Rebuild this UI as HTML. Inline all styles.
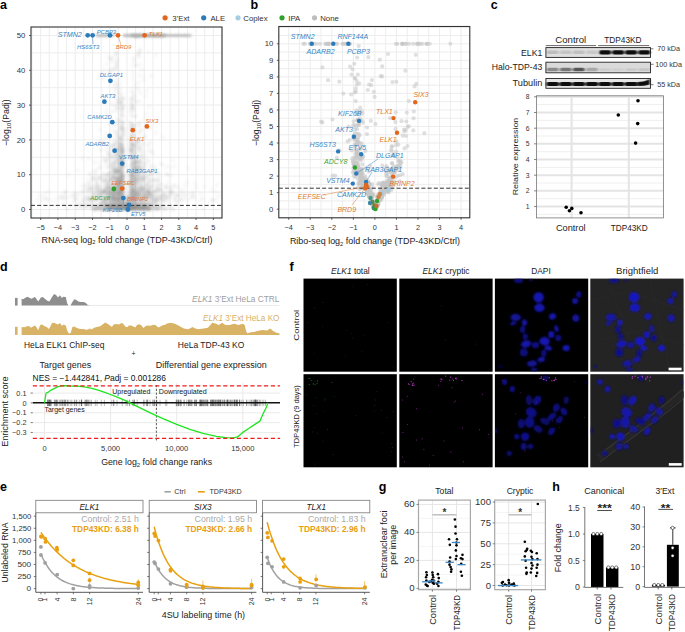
<!DOCTYPE html>
<html><head><meta charset="utf-8"><title>Figure</title>
<style>html,body{margin:0;padding:0;background:#fff;width:685px;height:632px;overflow:hidden}svg{display:block}text{font-family:"Liberation Sans",sans-serif}</style>
</head><body>
<svg width="685" height="632" viewBox="0 0 685 632" font-family='"Liberation Sans", sans-serif' fill="#222"><text x="0.00" y="8.80" font-size="12.5" font-weight="bold" fill="#000">a</text>
<text x="250.60" y="9.00" font-size="12.5" font-weight="bold" fill="#000">b</text>
<text x="490.80" y="9.20" font-size="12.5" font-weight="bold" fill="#000">c</text>
<text x="0.00" y="270.80" font-size="12.5" font-weight="bold" fill="#000">d</text>
<text x="289.60" y="271.00" font-size="12.5" font-weight="bold" fill="#000">f</text>
<text x="0.00" y="491.20" font-size="12.5" font-weight="bold" fill="#000">e</text>
<text x="378.80" y="490.80" font-size="12.5" font-weight="bold" fill="#000">g</text>
<text x="552.20" y="491.20" font-size="12.5" font-weight="bold" fill="#000">h</text>
<circle cx="165.10" cy="17.80" r="2.6" fill="#e2661b"/>
<text x="172.20" y="20.60" font-size="7.8" fill="#333">3’Ext</text>
<circle cx="203.70" cy="17.80" r="2.6" fill="#2b7bba"/>
<text x="210.40" y="20.60" font-size="7.8" fill="#333">ALE</text>
<circle cx="238.00" cy="17.80" r="2.6" fill="#a6cde3"/>
<text x="243.30" y="20.60" font-size="7.8" fill="#333">Coplex</text>
<circle cx="282.00" cy="17.80" r="2.6" fill="#2fa12a"/>
<text x="288.30" y="20.60" font-size="7.8" fill="#333">IPA</text>
<circle cx="314.50" cy="17.80" r="2.6" fill="#bdbdbd"/>
<text x="320.20" y="20.60" font-size="7.8" fill="#333">None</text>
<rect x="31.00" y="27.00" width="191.00" height="191.00" fill="#fff"/>
<line x1="32.02" y1="27.00" x2="32.02" y2="218.00" stroke="#ebebeb" stroke-width="0.9"/>
<line x1="40.65" y1="27.00" x2="40.65" y2="218.00" stroke="#ebebeb" stroke-width="0.9"/>
<line x1="49.28" y1="27.00" x2="49.28" y2="218.00" stroke="#ebebeb" stroke-width="0.9"/>
<line x1="57.92" y1="27.00" x2="57.92" y2="218.00" stroke="#ebebeb" stroke-width="0.9"/>
<line x1="66.56" y1="27.00" x2="66.56" y2="218.00" stroke="#ebebeb" stroke-width="0.9"/>
<line x1="75.19" y1="27.00" x2="75.19" y2="218.00" stroke="#ebebeb" stroke-width="0.9"/>
<line x1="83.83" y1="27.00" x2="83.83" y2="218.00" stroke="#ebebeb" stroke-width="0.9"/>
<line x1="92.46" y1="27.00" x2="92.46" y2="218.00" stroke="#ebebeb" stroke-width="0.9"/>
<line x1="101.09" y1="27.00" x2="101.09" y2="218.00" stroke="#ebebeb" stroke-width="0.9"/>
<line x1="109.73" y1="27.00" x2="109.73" y2="218.00" stroke="#ebebeb" stroke-width="0.9"/>
<line x1="118.36" y1="27.00" x2="118.36" y2="218.00" stroke="#ebebeb" stroke-width="0.9"/>
<line x1="127.00" y1="27.00" x2="127.00" y2="218.00" stroke="#ebebeb" stroke-width="0.9"/>
<line x1="135.63" y1="27.00" x2="135.63" y2="218.00" stroke="#ebebeb" stroke-width="0.9"/>
<line x1="144.27" y1="27.00" x2="144.27" y2="218.00" stroke="#ebebeb" stroke-width="0.9"/>
<line x1="152.91" y1="27.00" x2="152.91" y2="218.00" stroke="#ebebeb" stroke-width="0.9"/>
<line x1="161.54" y1="27.00" x2="161.54" y2="218.00" stroke="#ebebeb" stroke-width="0.9"/>
<line x1="170.18" y1="27.00" x2="170.18" y2="218.00" stroke="#ebebeb" stroke-width="0.9"/>
<line x1="178.81" y1="27.00" x2="178.81" y2="218.00" stroke="#ebebeb" stroke-width="0.9"/>
<line x1="187.44" y1="27.00" x2="187.44" y2="218.00" stroke="#ebebeb" stroke-width="0.9"/>
<line x1="196.08" y1="27.00" x2="196.08" y2="218.00" stroke="#ebebeb" stroke-width="0.9"/>
<line x1="204.72" y1="27.00" x2="204.72" y2="218.00" stroke="#ebebeb" stroke-width="0.9"/>
<line x1="213.35" y1="27.00" x2="213.35" y2="218.00" stroke="#ebebeb" stroke-width="0.9"/>
<line x1="221.99" y1="27.00" x2="221.99" y2="218.00" stroke="#ebebeb" stroke-width="0.9"/>
<line x1="31.00" y1="209.50" x2="222.00" y2="209.50" stroke="#ebebeb" stroke-width="0.9"/>
<line x1="31.00" y1="192.10" x2="222.00" y2="192.10" stroke="#ebebeb" stroke-width="0.9"/>
<line x1="31.00" y1="174.70" x2="222.00" y2="174.70" stroke="#ebebeb" stroke-width="0.9"/>
<line x1="31.00" y1="157.30" x2="222.00" y2="157.30" stroke="#ebebeb" stroke-width="0.9"/>
<line x1="31.00" y1="139.90" x2="222.00" y2="139.90" stroke="#ebebeb" stroke-width="0.9"/>
<line x1="31.00" y1="122.50" x2="222.00" y2="122.50" stroke="#ebebeb" stroke-width="0.9"/>
<line x1="31.00" y1="105.10" x2="222.00" y2="105.10" stroke="#ebebeb" stroke-width="0.9"/>
<line x1="31.00" y1="87.70" x2="222.00" y2="87.70" stroke="#ebebeb" stroke-width="0.9"/>
<line x1="31.00" y1="70.30" x2="222.00" y2="70.30" stroke="#ebebeb" stroke-width="0.9"/>
<line x1="31.00" y1="52.90" x2="222.00" y2="52.90" stroke="#ebebeb" stroke-width="0.9"/>
<line x1="31.00" y1="35.50" x2="222.00" y2="35.50" stroke="#ebebeb" stroke-width="0.9"/>
<defs><filter id="blc" x="0" y="0" width="100%" height="100%" filterUnits="userSpaceOnUse"><feGaussianBlur stdDeviation="0.9"/></filter></defs>
<g fill="#8a8a8a" fill-opacity="0.065" filter="url(#blc)"><circle cx="155.9" cy="205.4" r="2"/><circle cx="114.7" cy="198.8" r="2"/><circle cx="119.2" cy="203.3" r="2"/><circle cx="122.1" cy="206.9" r="2"/><circle cx="124.7" cy="209.1" r="2"/><circle cx="137.8" cy="199.1" r="2"/><circle cx="117.4" cy="202.8" r="2"/><circle cx="124.2" cy="194.5" r="2"/><circle cx="113.6" cy="208.5" r="2"/><circle cx="89.3" cy="206.3" r="2"/><circle cx="112.2" cy="195.1" r="2"/><circle cx="115.5" cy="207.6" r="2"/><circle cx="128.0" cy="208.2" r="2"/><circle cx="127.6" cy="204.8" r="2"/><circle cx="134.5" cy="207.7" r="2"/><circle cx="110.3" cy="204.4" r="2"/><circle cx="160.6" cy="197.8" r="2"/><circle cx="123.5" cy="207.6" r="2"/><circle cx="126.3" cy="204.4" r="2"/><circle cx="163.3" cy="206.9" r="2"/><circle cx="127.2" cy="208.3" r="2"/><circle cx="95.7" cy="201.3" r="2"/><circle cx="98.4" cy="193.5" r="2"/><circle cx="103.4" cy="207.8" r="2"/><circle cx="103.7" cy="207.9" r="2"/><circle cx="142.6" cy="208.0" r="2"/><circle cx="127.7" cy="209.3" r="2"/><circle cx="139.4" cy="208.3" r="2"/><circle cx="119.8" cy="193.4" r="2"/><circle cx="115.6" cy="192.9" r="2"/><circle cx="123.3" cy="203.0" r="2"/><circle cx="122.6" cy="207.2" r="2"/><circle cx="133.6" cy="201.5" r="2"/><circle cx="139.7" cy="208.2" r="2"/><circle cx="138.7" cy="208.8" r="2"/><circle cx="128.7" cy="197.9" r="2"/><circle cx="130.4" cy="206.7" r="2"/><circle cx="108.6" cy="205.8" r="2"/><circle cx="132.0" cy="207.6" r="2"/><circle cx="176.4" cy="204.2" r="2"/><circle cx="124.6" cy="205.9" r="2"/><circle cx="143.7" cy="208.2" r="2"/><circle cx="142.3" cy="205.1" r="2"/><circle cx="152.6" cy="202.1" r="2"/><circle cx="150.6" cy="208.7" r="2"/><circle cx="122.0" cy="206.4" r="2"/><circle cx="146.2" cy="207.6" r="2"/><circle cx="137.5" cy="207.2" r="2"/><circle cx="137.6" cy="206.1" r="2"/><circle cx="125.4" cy="207.1" r="2"/><circle cx="113.5" cy="204.7" r="2"/><circle cx="125.7" cy="200.2" r="2"/><circle cx="112.1" cy="208.7" r="2"/><circle cx="118.1" cy="205.0" r="2"/><circle cx="135.2" cy="208.4" r="2"/><circle cx="118.0" cy="207.3" r="2"/><circle cx="122.1" cy="206.2" r="2"/><circle cx="143.0" cy="206.5" r="2"/><circle cx="144.9" cy="202.4" r="2"/><circle cx="117.8" cy="206.9" r="2"/><circle cx="110.8" cy="206.0" r="2"/><circle cx="117.0" cy="200.1" r="2"/><circle cx="111.8" cy="207.9" r="2"/><circle cx="110.7" cy="207.2" r="2"/><circle cx="132.6" cy="206.8" r="2"/><circle cx="134.6" cy="205.7" r="2"/><circle cx="143.3" cy="207.3" r="2"/><circle cx="95.3" cy="208.9" r="2"/><circle cx="134.5" cy="205.4" r="2"/><circle cx="129.2" cy="207.4" r="2"/><circle cx="127.4" cy="208.2" r="2"/><circle cx="138.6" cy="208.8" r="2"/><circle cx="149.3" cy="205.6" r="2"/><circle cx="95.0" cy="200.1" r="2"/><circle cx="127.5" cy="208.0" r="2"/><circle cx="123.8" cy="207.7" r="2"/><circle cx="148.3" cy="208.3" r="2"/><circle cx="144.8" cy="208.6" r="2"/><circle cx="138.9" cy="207.2" r="2"/><circle cx="106.2" cy="204.7" r="2"/><circle cx="98.6" cy="206.9" r="2"/><circle cx="127.7" cy="205.9" r="2"/><circle cx="164.0" cy="208.9" r="2"/><circle cx="156.6" cy="206.3" r="2"/><circle cx="126.1" cy="202.5" r="2"/><circle cx="120.0" cy="209.2" r="2"/><circle cx="124.8" cy="207.2" r="2"/><circle cx="121.2" cy="201.8" r="2"/><circle cx="115.9" cy="202.2" r="2"/><circle cx="117.5" cy="199.1" r="2"/><circle cx="122.8" cy="208.6" r="2"/><circle cx="107.0" cy="205.0" r="2"/><circle cx="119.1" cy="206.0" r="2"/><circle cx="133.7" cy="207.1" r="2"/><circle cx="131.8" cy="206.7" r="2"/><circle cx="122.5" cy="204.5" r="2"/><circle cx="152.9" cy="204.8" r="2"/><circle cx="119.5" cy="208.2" r="2"/><circle cx="112.0" cy="203.7" r="2"/><circle cx="110.3" cy="207.4" r="2"/><circle cx="90.4" cy="205.1" r="2"/><circle cx="133.4" cy="206.6" r="2"/><circle cx="146.4" cy="200.8" r="2"/><circle cx="136.8" cy="206.2" r="2"/><circle cx="128.5" cy="208.8" r="2"/><circle cx="136.3" cy="194.5" r="2"/><circle cx="128.3" cy="208.9" r="2"/><circle cx="143.9" cy="205.5" r="2"/><circle cx="133.3" cy="207.5" r="2"/><circle cx="108.0" cy="201.5" r="2"/><circle cx="123.3" cy="205.9" r="2"/><circle cx="124.3" cy="208.6" r="2"/><circle cx="152.4" cy="197.9" r="2"/><circle cx="132.8" cy="205.5" r="2"/><circle cx="119.1" cy="206.9" r="2"/><circle cx="138.0" cy="207.5" r="2"/><circle cx="127.1" cy="208.3" r="2"/><circle cx="102.0" cy="209.4" r="2"/><circle cx="138.4" cy="203.7" r="2"/><circle cx="106.7" cy="206.8" r="2"/><circle cx="130.2" cy="204.9" r="2"/><circle cx="67.3" cy="209.4" r="2"/><circle cx="135.0" cy="205.0" r="2"/><circle cx="148.3" cy="208.6" r="2"/><circle cx="128.2" cy="204.0" r="2"/><circle cx="154.2" cy="197.7" r="2"/><circle cx="129.4" cy="208.2" r="2"/><circle cx="147.2" cy="209.3" r="2"/><circle cx="76.1" cy="204.2" r="2"/><circle cx="124.5" cy="209.3" r="2"/><circle cx="119.4" cy="206.6" r="2"/><circle cx="106.1" cy="205.2" r="2"/><circle cx="130.2" cy="208.6" r="2"/><circle cx="84.9" cy="203.0" r="2"/><circle cx="126.1" cy="198.9" r="2"/><circle cx="129.9" cy="206.3" r="2"/><circle cx="112.2" cy="203.4" r="2"/><circle cx="118.7" cy="207.0" r="2"/><circle cx="130.4" cy="208.9" r="2"/><circle cx="93.2" cy="207.9" r="2"/><circle cx="96.8" cy="206.8" r="2"/><circle cx="132.4" cy="208.2" r="2"/><circle cx="94.9" cy="209.3" r="2"/><circle cx="148.6" cy="209.2" r="2"/><circle cx="106.2" cy="203.4" r="2"/><circle cx="145.8" cy="205.9" r="2"/><circle cx="122.2" cy="204.6" r="2"/><circle cx="139.7" cy="202.5" r="2"/><circle cx="128.6" cy="207.9" r="2"/><circle cx="99.3" cy="208.1" r="2"/><circle cx="120.1" cy="203.9" r="2"/><circle cx="130.3" cy="207.7" r="2"/><circle cx="118.3" cy="205.5" r="2"/><circle cx="118.0" cy="207.6" r="2"/><circle cx="109.2" cy="202.2" r="2"/><circle cx="143.4" cy="208.9" r="2"/><circle cx="129.9" cy="209.0" r="2"/><circle cx="99.6" cy="208.7" r="2"/><circle cx="134.8" cy="198.0" r="2"/><circle cx="131.8" cy="202.5" r="2"/><circle cx="112.9" cy="208.5" r="2"/><circle cx="135.6" cy="200.6" r="2"/><circle cx="99.3" cy="208.6" r="2"/><circle cx="129.6" cy="203.1" r="2"/><circle cx="118.3" cy="208.3" r="2"/><circle cx="132.0" cy="202.1" r="2"/><circle cx="132.7" cy="209.1" r="2"/><circle cx="161.1" cy="208.6" r="2"/><circle cx="124.9" cy="206.8" r="2"/><circle cx="124.9" cy="206.5" r="2"/><circle cx="104.5" cy="209.4" r="2"/><circle cx="128.6" cy="206.2" r="2"/><circle cx="121.7" cy="203.0" r="2"/><circle cx="112.4" cy="205.7" r="2"/><circle cx="95.4" cy="209.2" r="2"/><circle cx="145.9" cy="197.7" r="2"/><circle cx="127.5" cy="198.4" r="2"/><circle cx="132.4" cy="209.1" r="2"/><circle cx="119.3" cy="204.6" r="2"/><circle cx="131.3" cy="207.8" r="2"/><circle cx="127.1" cy="209.5" r="2"/><circle cx="146.0" cy="208.5" r="2"/><circle cx="136.7" cy="209.0" r="2"/><circle cx="116.3" cy="202.8" r="2"/><circle cx="128.1" cy="208.7" r="2"/><circle cx="132.6" cy="206.0" r="2"/><circle cx="122.7" cy="207.2" r="2"/><circle cx="103.7" cy="195.3" r="2"/><circle cx="135.6" cy="208.8" r="2"/><circle cx="119.5" cy="208.6" r="2"/><circle cx="100.3" cy="204.6" r="2"/><circle cx="129.5" cy="196.3" r="2"/><circle cx="131.0" cy="206.9" r="2"/><circle cx="156.4" cy="201.8" r="2"/><circle cx="119.8" cy="209.5" r="2"/><circle cx="142.1" cy="203.5" r="2"/><circle cx="82.3" cy="202.4" r="2"/><circle cx="107.5" cy="205.4" r="2"/><circle cx="114.9" cy="202.5" r="2"/><circle cx="114.6" cy="204.7" r="2"/><circle cx="142.3" cy="197.7" r="2"/><circle cx="110.6" cy="207.5" r="2"/><circle cx="100.7" cy="195.8" r="2"/><circle cx="139.4" cy="209.4" r="2"/><circle cx="113.6" cy="203.7" r="2"/><circle cx="116.5" cy="206.6" r="2"/><circle cx="146.7" cy="208.0" r="2"/><circle cx="120.4" cy="208.5" r="2"/><circle cx="111.9" cy="204.2" r="2"/><circle cx="139.5" cy="206.2" r="2"/><circle cx="127.6" cy="208.3" r="2"/><circle cx="128.8" cy="203.4" r="2"/><circle cx="132.5" cy="209.4" r="2"/><circle cx="120.3" cy="194.6" r="2"/><circle cx="148.5" cy="207.1" r="2"/><circle cx="133.1" cy="201.9" r="2"/><circle cx="164.0" cy="209.3" r="2"/><circle cx="127.0" cy="197.8" r="2"/><circle cx="136.0" cy="207.2" r="2"/><circle cx="105.4" cy="200.0" r="2"/><circle cx="129.7" cy="203.6" r="2"/><circle cx="141.5" cy="194.6" r="2"/><circle cx="127.6" cy="207.2" r="2"/><circle cx="125.9" cy="205.3" r="2"/><circle cx="133.0" cy="209.2" r="2"/><circle cx="133.2" cy="205.1" r="2"/><circle cx="112.0" cy="205.7" r="2"/><circle cx="120.2" cy="205.5" r="2"/><circle cx="133.9" cy="207.2" r="2"/><circle cx="139.3" cy="208.5" r="2"/><circle cx="114.1" cy="194.1" r="2"/><circle cx="137.5" cy="208.0" r="2"/><circle cx="124.3" cy="207.1" r="2"/><circle cx="128.9" cy="209.4" r="2"/><circle cx="125.1" cy="206.8" r="2"/><circle cx="105.5" cy="206.6" r="2"/><circle cx="117.3" cy="209.3" r="2"/><circle cx="136.7" cy="209.4" r="2"/><circle cx="108.4" cy="209.0" r="2"/><circle cx="145.2" cy="204.3" r="2"/><circle cx="115.8" cy="208.0" r="2"/><circle cx="102.9" cy="209.3" r="2"/><circle cx="140.6" cy="207.4" r="2"/><circle cx="113.7" cy="207.0" r="2"/><circle cx="97.2" cy="206.0" r="2"/><circle cx="119.7" cy="209.0" r="2"/><circle cx="132.2" cy="207.8" r="2"/><circle cx="119.2" cy="208.3" r="2"/><circle cx="92.9" cy="207.4" r="2"/><circle cx="105.8" cy="199.2" r="2"/><circle cx="132.0" cy="206.0" r="2"/><circle cx="127.3" cy="202.2" r="2"/><circle cx="104.6" cy="205.1" r="2"/><circle cx="107.1" cy="205.6" r="2"/><circle cx="122.0" cy="204.5" r="2"/><circle cx="129.8" cy="204.2" r="2"/><circle cx="119.4" cy="200.2" r="2"/><circle cx="137.4" cy="207.3" r="2"/><circle cx="113.1" cy="208.0" r="2"/><circle cx="144.8" cy="206.6" r="2"/><circle cx="139.6" cy="208.5" r="2"/><circle cx="113.1" cy="208.8" r="2"/><circle cx="137.3" cy="207.1" r="2"/><circle cx="144.8" cy="204.6" r="2"/><circle cx="125.1" cy="207.7" r="2"/><circle cx="105.4" cy="206.3" r="2"/><circle cx="127.1" cy="205.0" r="2"/><circle cx="113.2" cy="205.5" r="2"/><circle cx="128.8" cy="207.7" r="2"/><circle cx="120.2" cy="202.5" r="2"/><circle cx="132.3" cy="209.0" r="2"/><circle cx="129.2" cy="194.6" r="2"/><circle cx="144.0" cy="207.8" r="2"/><circle cx="156.3" cy="207.9" r="2"/><circle cx="129.6" cy="207.3" r="2"/><circle cx="134.9" cy="197.5" r="2"/><circle cx="106.8" cy="207.3" r="2"/><circle cx="136.3" cy="205.1" r="2"/><circle cx="132.6" cy="197.3" r="2"/><circle cx="117.5" cy="205.5" r="2"/><circle cx="132.1" cy="206.2" r="2"/><circle cx="111.0" cy="202.3" r="2"/><circle cx="101.5" cy="206.5" r="2"/><circle cx="102.2" cy="207.9" r="2"/><circle cx="152.0" cy="209.3" r="2"/><circle cx="135.5" cy="205.3" r="2"/><circle cx="147.8" cy="203.8" r="2"/><circle cx="111.2" cy="209.1" r="2"/><circle cx="125.7" cy="197.0" r="2"/><circle cx="137.9" cy="205.2" r="2"/><circle cx="109.6" cy="206.9" r="2"/><circle cx="128.7" cy="200.5" r="2"/><circle cx="106.9" cy="206.2" r="2"/><circle cx="130.8" cy="206.8" r="2"/><circle cx="140.3" cy="206.4" r="2"/><circle cx="131.6" cy="206.4" r="2"/><circle cx="113.4" cy="193.9" r="2"/><circle cx="173.4" cy="209.4" r="2"/><circle cx="156.7" cy="207.9" r="2"/><circle cx="145.0" cy="204.8" r="2"/><circle cx="151.3" cy="206.4" r="2"/><circle cx="147.7" cy="208.8" r="2"/><circle cx="129.9" cy="206.3" r="2"/><circle cx="132.1" cy="206.3" r="2"/><circle cx="117.1" cy="203.9" r="2"/><circle cx="116.9" cy="202.1" r="2"/><circle cx="115.4" cy="205.2" r="2"/><circle cx="120.4" cy="208.4" r="2"/><circle cx="128.3" cy="206.6" r="2"/><circle cx="135.2" cy="206.1" r="2"/><circle cx="144.5" cy="204.1" r="2"/><circle cx="126.6" cy="206.9" r="2"/><circle cx="144.8" cy="209.0" r="2"/><circle cx="117.8" cy="208.1" r="2"/><circle cx="149.9" cy="202.9" r="2"/><circle cx="112.6" cy="201.6" r="2"/><circle cx="122.0" cy="200.5" r="2"/><circle cx="117.4" cy="206.3" r="2"/><circle cx="118.3" cy="207.4" r="2"/><circle cx="95.4" cy="207.4" r="2"/><circle cx="130.7" cy="209.0" r="2"/><circle cx="147.1" cy="207.0" r="2"/><circle cx="107.7" cy="208.2" r="2"/><circle cx="101.4" cy="203.5" r="2"/><circle cx="146.8" cy="202.9" r="2"/><circle cx="140.8" cy="202.2" r="2"/><circle cx="130.7" cy="208.6" r="2"/><circle cx="123.1" cy="202.3" r="2"/><circle cx="134.8" cy="209.1" r="2"/><circle cx="114.0" cy="209.5" r="2"/><circle cx="90.3" cy="197.1" r="2"/><circle cx="119.9" cy="200.0" r="2"/><circle cx="98.3" cy="207.6" r="2"/><circle cx="156.8" cy="208.2" r="2"/><circle cx="140.2" cy="207.8" r="2"/><circle cx="118.4" cy="202.3" r="2"/><circle cx="118.4" cy="209.0" r="2"/><circle cx="127.5" cy="205.1" r="2"/><circle cx="140.9" cy="204.0" r="2"/><circle cx="96.6" cy="209.3" r="2"/><circle cx="111.3" cy="200.3" r="2"/><circle cx="125.4" cy="207.1" r="2"/><circle cx="81.0" cy="205.5" r="2"/><circle cx="129.8" cy="202.1" r="2"/><circle cx="144.9" cy="207.5" r="2"/><circle cx="165.6" cy="209.1" r="2"/><circle cx="98.1" cy="207.7" r="2"/><circle cx="147.8" cy="207.8" r="2"/><circle cx="118.2" cy="198.4" r="2"/><circle cx="144.1" cy="200.3" r="2"/><circle cx="135.4" cy="209.1" r="2"/><circle cx="104.5" cy="198.1" r="2"/><circle cx="112.3" cy="207.1" r="2"/><circle cx="113.1" cy="205.8" r="2"/><circle cx="143.5" cy="208.9" r="2"/><circle cx="103.7" cy="199.7" r="2"/><circle cx="129.1" cy="208.0" r="2"/><circle cx="122.6" cy="207.0" r="2"/><circle cx="154.3" cy="206.4" r="2"/><circle cx="154.1" cy="208.7" r="2"/><circle cx="116.4" cy="201.6" r="2"/><circle cx="116.1" cy="203.1" r="2"/><circle cx="127.3" cy="201.4" r="2"/><circle cx="149.2" cy="206.9" r="2"/><circle cx="113.2" cy="192.3" r="2"/><circle cx="135.8" cy="205.5" r="2"/><circle cx="97.8" cy="206.5" r="2"/><circle cx="118.9" cy="205.0" r="2"/><circle cx="123.7" cy="200.8" r="2"/><circle cx="138.5" cy="207.8" r="2"/><circle cx="109.9" cy="198.1" r="2"/><circle cx="121.7" cy="208.5" r="2"/><circle cx="130.5" cy="207.8" r="2"/><circle cx="126.0" cy="209.0" r="2"/><circle cx="120.0" cy="204.6" r="2"/><circle cx="130.6" cy="203.9" r="2"/><circle cx="119.9" cy="208.3" r="2"/><circle cx="144.9" cy="208.3" r="2"/><circle cx="145.5" cy="203.4" r="2"/><circle cx="104.8" cy="204.0" r="2"/><circle cx="127.5" cy="205.9" r="2"/><circle cx="125.3" cy="208.8" r="2"/><circle cx="84.7" cy="207.9" r="2"/><circle cx="129.6" cy="203.8" r="2"/><circle cx="146.0" cy="207.7" r="2"/><circle cx="99.3" cy="208.0" r="2"/><circle cx="113.7" cy="205.8" r="2"/><circle cx="126.5" cy="208.4" r="2"/><circle cx="125.7" cy="205.2" r="2"/><circle cx="114.1" cy="198.9" r="2"/><circle cx="138.2" cy="205.5" r="2"/><circle cx="121.0" cy="208.3" r="2"/><circle cx="110.7" cy="202.8" r="2"/><circle cx="110.7" cy="197.4" r="2"/><circle cx="121.0" cy="206.1" r="2"/><circle cx="137.0" cy="206.8" r="2"/><circle cx="97.0" cy="207.0" r="2"/><circle cx="107.0" cy="199.3" r="2"/><circle cx="132.8" cy="209.4" r="2"/><circle cx="154.4" cy="208.2" r="2"/><circle cx="125.5" cy="209.0" r="2"/><circle cx="142.2" cy="200.1" r="2"/><circle cx="141.3" cy="209.2" r="2"/><circle cx="150.9" cy="204.2" r="2"/><circle cx="146.8" cy="209.2" r="2"/><circle cx="132.4" cy="205.0" r="2"/><circle cx="146.5" cy="208.7" r="2"/><circle cx="108.7" cy="198.7" r="2"/><circle cx="110.3" cy="203.1" r="2"/><circle cx="124.4" cy="206.8" r="2"/><circle cx="172.0" cy="206.9" r="2"/><circle cx="99.1" cy="207.9" r="2"/><circle cx="157.2" cy="209.1" r="2"/><circle cx="121.0" cy="201.3" r="2"/><circle cx="113.3" cy="204.5" r="2"/><circle cx="155.3" cy="209.2" r="2"/><circle cx="109.4" cy="208.7" r="2"/><circle cx="153.9" cy="206.3" r="2"/><circle cx="147.1" cy="194.8" r="2"/><circle cx="148.4" cy="207.9" r="2"/><circle cx="135.0" cy="208.5" r="2"/><circle cx="94.3" cy="208.3" r="2"/><circle cx="135.5" cy="200.0" r="2"/><circle cx="131.8" cy="207.1" r="2"/><circle cx="130.1" cy="208.8" r="2"/><circle cx="156.0" cy="203.5" r="2"/><circle cx="137.4" cy="206.1" r="2"/><circle cx="125.3" cy="208.9" r="2"/><circle cx="115.7" cy="208.0" r="2"/><circle cx="116.1" cy="197.3" r="2"/><circle cx="129.2" cy="205.1" r="2"/><circle cx="64.3" cy="204.2" r="2"/><circle cx="144.4" cy="209.5" r="2"/><circle cx="151.9" cy="205.4" r="2"/><circle cx="161.6" cy="206.1" r="2"/><circle cx="141.7" cy="209.5" r="2"/><circle cx="132.1" cy="197.2" r="2"/><circle cx="126.0" cy="209.0" r="2"/><circle cx="138.5" cy="206.5" r="2"/><circle cx="145.5" cy="206.4" r="2"/><circle cx="125.3" cy="204.3" r="2"/><circle cx="128.4" cy="204.8" r="2"/><circle cx="129.4" cy="200.0" r="2"/><circle cx="141.9" cy="208.3" r="2"/><circle cx="154.8" cy="200.3" r="2"/><circle cx="114.9" cy="206.9" r="2"/><circle cx="133.5" cy="209.3" r="2"/><circle cx="118.5" cy="207.7" r="2"/><circle cx="96.9" cy="207.2" r="2"/><circle cx="103.9" cy="206.7" r="2"/><circle cx="137.3" cy="208.8" r="2"/><circle cx="136.8" cy="193.1" r="2"/><circle cx="123.2" cy="207.6" r="2"/><circle cx="97.8" cy="199.5" r="2"/><circle cx="110.9" cy="207.6" r="2"/><circle cx="138.0" cy="205.6" r="2"/><circle cx="122.3" cy="197.2" r="2"/><circle cx="124.9" cy="200.6" r="2"/><circle cx="142.8" cy="199.5" r="2"/><circle cx="142.4" cy="204.2" r="2"/><circle cx="158.7" cy="207.6" r="2"/><circle cx="134.7" cy="197.0" r="2"/><circle cx="143.3" cy="207.8" r="2"/><circle cx="89.7" cy="198.5" r="2"/><circle cx="116.7" cy="207.8" r="2"/><circle cx="137.7" cy="208.0" r="2"/><circle cx="108.8" cy="206.7" r="2"/><circle cx="119.7" cy="202.9" r="2"/><circle cx="126.4" cy="204.3" r="2"/><circle cx="148.7" cy="204.4" r="2"/><circle cx="79.3" cy="203.4" r="2"/><circle cx="109.6" cy="204.6" r="2"/><circle cx="109.7" cy="208.5" r="2"/><circle cx="125.2" cy="204.5" r="2"/><circle cx="63.5" cy="204.3" r="2"/><circle cx="132.1" cy="207.4" r="2"/><circle cx="129.7" cy="208.2" r="2"/><circle cx="111.3" cy="205.6" r="2"/><circle cx="115.3" cy="209.2" r="2"/><circle cx="113.7" cy="205.2" r="2"/><circle cx="135.9" cy="206.6" r="2"/><circle cx="134.0" cy="205.0" r="2"/><circle cx="118.7" cy="196.5" r="2"/><circle cx="123.2" cy="208.9" r="2"/><circle cx="118.7" cy="208.9" r="2"/><circle cx="119.4" cy="203.5" r="2"/><circle cx="105.5" cy="207.1" r="2"/><circle cx="126.7" cy="203.0" r="2"/><circle cx="129.3" cy="200.2" r="2"/><circle cx="142.6" cy="205.6" r="2"/><circle cx="130.0" cy="208.9" r="2"/><circle cx="129.7" cy="203.7" r="2"/><circle cx="159.5" cy="207.6" r="2"/><circle cx="128.8" cy="207.8" r="2"/><circle cx="132.5" cy="197.8" r="2"/><circle cx="90.8" cy="203.9" r="2"/><circle cx="140.9" cy="202.6" r="2"/><circle cx="105.3" cy="205.2" r="2"/><circle cx="107.8" cy="207.4" r="2"/><circle cx="117.0" cy="206.5" r="2"/><circle cx="135.0" cy="197.0" r="2"/><circle cx="108.0" cy="205.7" r="2"/><circle cx="130.8" cy="208.6" r="2"/><circle cx="80.6" cy="205.7" r="2"/><circle cx="119.5" cy="207.9" r="2"/><circle cx="115.5" cy="205.3" r="2"/><circle cx="144.9" cy="204.8" r="2"/><circle cx="127.7" cy="209.2" r="2"/><circle cx="100.7" cy="202.6" r="2"/><circle cx="113.2" cy="206.0" r="2"/><circle cx="125.3" cy="206.8" r="2"/><circle cx="108.1" cy="209.4" r="2"/><circle cx="111.4" cy="209.0" r="2"/><circle cx="129.5" cy="207.6" r="2"/><circle cx="120.4" cy="208.4" r="2"/><circle cx="137.3" cy="204.0" r="2"/><circle cx="130.4" cy="209.4" r="2"/><circle cx="127.4" cy="209.4" r="2"/><circle cx="128.4" cy="208.8" r="2"/><circle cx="140.2" cy="209.0" r="2"/><circle cx="134.6" cy="208.6" r="2"/><circle cx="130.2" cy="208.3" r="2"/><circle cx="144.0" cy="194.8" r="2"/><circle cx="89.4" cy="199.5" r="2"/><circle cx="148.6" cy="208.9" r="2"/><circle cx="89.9" cy="198.4" r="2"/><circle cx="113.7" cy="201.1" r="2"/><circle cx="130.5" cy="203.6" r="2"/><circle cx="144.6" cy="208.6" r="2"/><circle cx="122.2" cy="208.4" r="2"/><circle cx="141.3" cy="209.5" r="2"/><circle cx="117.7" cy="206.5" r="2"/><circle cx="150.7" cy="203.0" r="2"/><circle cx="148.1" cy="209.2" r="2"/><circle cx="71.4" cy="205.8" r="2"/><circle cx="126.0" cy="209.3" r="2"/><circle cx="127.3" cy="207.2" r="2"/><circle cx="119.7" cy="208.3" r="2"/><circle cx="116.4" cy="194.6" r="2"/><circle cx="149.0" cy="208.9" r="2"/><circle cx="137.6" cy="204.0" r="2"/><circle cx="115.5" cy="207.1" r="2"/><circle cx="113.0" cy="205.3" r="2"/><circle cx="124.4" cy="202.0" r="2"/><circle cx="146.2" cy="208.8" r="2"/><circle cx="135.1" cy="208.1" r="2"/><circle cx="137.3" cy="207.8" r="2"/><circle cx="144.3" cy="205.5" r="2"/><circle cx="142.6" cy="200.6" r="2"/><circle cx="131.8" cy="208.6" r="2"/><circle cx="128.5" cy="209.2" r="2"/><circle cx="146.1" cy="206.1" r="2"/><circle cx="143.9" cy="209.1" r="2"/><circle cx="139.7" cy="206.1" r="2"/><circle cx="117.9" cy="208.3" r="2"/><circle cx="105.8" cy="205.3" r="2"/><circle cx="109.6" cy="207.3" r="2"/><circle cx="94.7" cy="205.8" r="2"/><circle cx="97.9" cy="192.8" r="2"/><circle cx="122.7" cy="193.5" r="2"/><circle cx="122.1" cy="207.1" r="2"/><circle cx="111.7" cy="207.8" r="2"/><circle cx="122.2" cy="204.5" r="2"/><circle cx="144.2" cy="205.3" r="2"/><circle cx="125.8" cy="209.2" r="2"/><circle cx="121.8" cy="203.0" r="2"/><circle cx="133.9" cy="204.7" r="2"/><circle cx="163.3" cy="201.3" r="2"/><circle cx="132.1" cy="206.7" r="2"/><circle cx="117.3" cy="209.5" r="2"/><circle cx="154.5" cy="201.7" r="2"/><circle cx="148.6" cy="209.2" r="2"/><circle cx="131.2" cy="209.1" r="2"/><circle cx="143.3" cy="208.7" r="2"/><circle cx="102.9" cy="208.4" r="2"/><circle cx="170.3" cy="207.8" r="2"/><circle cx="132.2" cy="208.1" r="2"/><circle cx="137.3" cy="204.7" r="2"/><circle cx="97.6" cy="209.3" r="2"/><circle cx="110.4" cy="208.0" r="2"/><circle cx="104.7" cy="207.9" r="2"/><circle cx="127.5" cy="208.4" r="2"/><circle cx="151.5" cy="208.3" r="2"/><circle cx="125.1" cy="205.0" r="2"/><circle cx="129.3" cy="204.3" r="2"/><circle cx="130.3" cy="209.1" r="2"/><circle cx="126.8" cy="202.9" r="2"/><circle cx="156.9" cy="203.7" r="2"/><circle cx="143.0" cy="206.5" r="2"/><circle cx="129.4" cy="208.0" r="2"/><circle cx="108.3" cy="209.4" r="2"/><circle cx="132.8" cy="207.1" r="2"/><circle cx="132.9" cy="207.6" r="2"/><circle cx="115.4" cy="200.7" r="2"/><circle cx="127.1" cy="203.1" r="2"/><circle cx="118.1" cy="202.3" r="2"/><circle cx="169.2" cy="203.3" r="2"/><circle cx="113.7" cy="209.2" r="2"/><circle cx="131.9" cy="197.5" r="2"/><circle cx="146.1" cy="208.7" r="2"/><circle cx="92.3" cy="206.6" r="2"/><circle cx="101.8" cy="202.5" r="2"/><circle cx="129.9" cy="203.3" r="2"/><circle cx="114.9" cy="198.7" r="2"/><circle cx="149.2" cy="205.2" r="2"/><circle cx="132.7" cy="205.5" r="2"/><circle cx="121.9" cy="205.2" r="2"/><circle cx="157.9" cy="208.6" r="2"/><circle cx="122.1" cy="201.3" r="2"/><circle cx="156.4" cy="202.0" r="2"/><circle cx="122.4" cy="207.7" r="2"/><circle cx="111.3" cy="205.7" r="2"/><circle cx="126.8" cy="208.3" r="2"/><circle cx="91.9" cy="203.5" r="2"/><circle cx="107.9" cy="204.7" r="2"/><circle cx="143.5" cy="207.2" r="2"/><circle cx="135.1" cy="203.2" r="2"/><circle cx="146.0" cy="207.7" r="2"/><circle cx="161.7" cy="203.8" r="2"/><circle cx="138.0" cy="196.5" r="2"/><circle cx="86.8" cy="204.1" r="2"/><circle cx="116.1" cy="198.9" r="2"/><circle cx="103.8" cy="207.1" r="2"/><circle cx="102.4" cy="209.4" r="2"/><circle cx="139.1" cy="209.3" r="2"/><circle cx="113.0" cy="206.5" r="2"/><circle cx="119.4" cy="205.1" r="2"/><circle cx="155.5" cy="208.7" r="2"/><circle cx="127.5" cy="205.6" r="2"/><circle cx="167.1" cy="207.7" r="2"/><circle cx="126.2" cy="205.4" r="2"/><circle cx="149.3" cy="205.5" r="2"/><circle cx="139.4" cy="204.6" r="2"/><circle cx="127.6" cy="204.9" r="2"/><circle cx="110.3" cy="202.6" r="2"/><circle cx="129.9" cy="196.0" r="2"/><circle cx="135.5" cy="207.0" r="2"/><circle cx="144.4" cy="206.5" r="2"/><circle cx="116.6" cy="205.3" r="2"/><circle cx="140.0" cy="209.3" r="2"/><circle cx="144.3" cy="203.4" r="2"/><circle cx="76.3" cy="208.6" r="2"/><circle cx="124.5" cy="207.1" r="2"/><circle cx="108.2" cy="207.4" r="2"/><circle cx="99.4" cy="205.2" r="2"/><circle cx="131.9" cy="206.3" r="2"/><circle cx="115.6" cy="207.8" r="2"/><circle cx="121.7" cy="198.0" r="2"/><circle cx="141.4" cy="202.0" r="2"/><circle cx="106.8" cy="205.2" r="2"/><circle cx="115.8" cy="206.2" r="2"/><circle cx="89.1" cy="206.8" r="2"/><circle cx="144.4" cy="206.4" r="2"/><circle cx="106.6" cy="209.0" r="2"/><circle cx="111.0" cy="206.8" r="2"/><circle cx="109.5" cy="204.7" r="2"/><circle cx="107.2" cy="198.9" r="2"/><circle cx="126.4" cy="197.7" r="2"/><circle cx="101.9" cy="203.6" r="2"/><circle cx="155.1" cy="202.0" r="2"/><circle cx="116.5" cy="205.5" r="2"/><circle cx="133.0" cy="204.0" r="2"/><circle cx="152.5" cy="206.5" r="2"/><circle cx="161.9" cy="205.8" r="2"/><circle cx="110.0" cy="209.2" r="2"/><circle cx="125.6" cy="208.8" r="2"/><circle cx="112.9" cy="205.4" r="2"/><circle cx="149.6" cy="209.4" r="2"/><circle cx="95.0" cy="206.0" r="2"/><circle cx="134.6" cy="208.2" r="2"/><circle cx="139.1" cy="208.9" r="2"/><circle cx="123.1" cy="200.1" r="2"/><circle cx="128.9" cy="209.1" r="2"/><circle cx="113.0" cy="203.2" r="2"/><circle cx="116.9" cy="199.8" r="2"/><circle cx="129.5" cy="204.3" r="2"/><circle cx="106.4" cy="200.2" r="2"/><circle cx="115.7" cy="203.9" r="2"/><circle cx="131.2" cy="207.6" r="2"/><circle cx="109.4" cy="208.4" r="2"/><circle cx="131.7" cy="195.1" r="2"/><circle cx="157.9" cy="209.3" r="2"/><circle cx="159.7" cy="199.4" r="2"/><circle cx="149.1" cy="208.7" r="2"/><circle cx="103.7" cy="202.4" r="2"/><circle cx="133.9" cy="209.2" r="2"/><circle cx="108.6" cy="205.8" r="2"/><circle cx="106.8" cy="209.2" r="2"/><circle cx="135.0" cy="200.2" r="2"/><circle cx="148.4" cy="208.7" r="2"/><circle cx="131.7" cy="202.8" r="2"/><circle cx="113.9" cy="205.5" r="2"/><circle cx="121.5" cy="209.3" r="2"/><circle cx="126.2" cy="208.7" r="2"/><circle cx="123.5" cy="207.4" r="2"/><circle cx="105.5" cy="201.8" r="2"/><circle cx="159.5" cy="206.2" r="2"/><circle cx="95.7" cy="207.3" r="2"/><circle cx="125.9" cy="208.1" r="2"/><circle cx="148.5" cy="208.5" r="2"/><circle cx="133.3" cy="201.7" r="2"/><circle cx="114.1" cy="206.0" r="2"/><circle cx="120.5" cy="208.3" r="2"/><circle cx="118.3" cy="205.9" r="2"/><circle cx="135.7" cy="201.6" r="2"/><circle cx="139.6" cy="199.7" r="2"/><circle cx="105.4" cy="208.8" r="2"/><circle cx="100.5" cy="209.0" r="2"/><circle cx="134.2" cy="209.3" r="2"/><circle cx="141.3" cy="205.8" r="2"/><circle cx="123.2" cy="208.7" r="2"/><circle cx="150.9" cy="206.5" r="2"/><circle cx="117.1" cy="209.3" r="2"/><circle cx="122.4" cy="195.8" r="2"/><circle cx="117.4" cy="207.9" r="2"/><circle cx="128.2" cy="197.7" r="2"/><circle cx="117.0" cy="209.3" r="2"/><circle cx="127.1" cy="206.3" r="2"/><circle cx="133.8" cy="209.3" r="2"/><circle cx="139.6" cy="204.3" r="2"/><circle cx="86.2" cy="206.6" r="2"/><circle cx="116.4" cy="198.5" r="2"/><circle cx="142.6" cy="207.4" r="2"/><circle cx="101.1" cy="206.2" r="2"/><circle cx="127.4" cy="208.5" r="2"/><circle cx="132.6" cy="198.7" r="2"/><circle cx="155.2" cy="205.7" r="2"/><circle cx="122.8" cy="202.2" r="2"/><circle cx="143.7" cy="207.9" r="2"/><circle cx="119.7" cy="209.1" r="2"/><circle cx="106.4" cy="204.0" r="2"/><circle cx="129.6" cy="193.2" r="2"/><circle cx="142.3" cy="206.6" r="2"/><circle cx="139.6" cy="208.9" r="2"/><circle cx="149.7" cy="203.3" r="2"/><circle cx="139.4" cy="207.8" r="2"/><circle cx="115.4" cy="206.5" r="2"/><circle cx="105.1" cy="197.9" r="2"/><circle cx="97.9" cy="204.2" r="2"/><circle cx="114.4" cy="207.0" r="2"/><circle cx="66.2" cy="207.3" r="2"/><circle cx="131.3" cy="209.2" r="2"/><circle cx="148.9" cy="209.0" r="2"/><circle cx="148.0" cy="204.9" r="2"/><circle cx="160.2" cy="206.1" r="2"/><circle cx="132.0" cy="200.2" r="2"/><circle cx="118.9" cy="200.8" r="2"/><circle cx="108.6" cy="209.1" r="2"/><circle cx="128.8" cy="206.2" r="2"/><circle cx="116.5" cy="209.0" r="2"/><circle cx="117.8" cy="203.6" r="2"/><circle cx="106.6" cy="208.5" r="2"/><circle cx="127.8" cy="196.2" r="2"/><circle cx="137.0" cy="205.3" r="2"/><circle cx="132.4" cy="205.5" r="2"/><circle cx="81.4" cy="207.3" r="2"/><circle cx="93.1" cy="200.6" r="2"/><circle cx="143.6" cy="209.0" r="2"/><circle cx="134.1" cy="198.5" r="2"/><circle cx="134.6" cy="207.7" r="2"/><circle cx="173.2" cy="209.4" r="2"/><circle cx="158.3" cy="206.8" r="2"/><circle cx="121.3" cy="206.9" r="2"/><circle cx="128.8" cy="205.9" r="2"/><circle cx="144.6" cy="207.7" r="2"/><circle cx="135.5" cy="203.1" r="2"/><circle cx="121.5" cy="208.2" r="2"/><circle cx="141.0" cy="206.9" r="2"/><circle cx="104.1" cy="202.3" r="2"/><circle cx="103.5" cy="192.4" r="2"/><circle cx="136.7" cy="208.0" r="2"/><circle cx="106.4" cy="206.8" r="2"/><circle cx="114.3" cy="209.1" r="2"/><circle cx="147.8" cy="202.6" r="2"/><circle cx="119.8" cy="192.9" r="2"/><circle cx="121.2" cy="203.7" r="2"/><circle cx="160.3" cy="208.2" r="2"/><circle cx="111.8" cy="204.0" r="2"/><circle cx="95.0" cy="209.0" r="2"/><circle cx="114.1" cy="207.5" r="2"/><circle cx="123.0" cy="206.6" r="2"/><circle cx="115.1" cy="203.1" r="2"/><circle cx="141.6" cy="205.6" r="2"/><circle cx="105.8" cy="204.8" r="2"/><circle cx="128.9" cy="200.3" r="2"/><circle cx="131.3" cy="196.9" r="2"/><circle cx="128.5" cy="201.3" r="2"/><circle cx="119.8" cy="206.1" r="2"/><circle cx="133.8" cy="202.6" r="2"/><circle cx="141.4" cy="209.1" r="2"/><circle cx="120.8" cy="202.5" r="2"/><circle cx="132.5" cy="204.6" r="2"/><circle cx="113.2" cy="205.4" r="2"/><circle cx="107.0" cy="208.0" r="2"/><circle cx="87.1" cy="204.6" r="2"/><circle cx="135.2" cy="207.6" r="2"/><circle cx="150.6" cy="208.5" r="2"/><circle cx="117.8" cy="201.2" r="2"/><circle cx="130.3" cy="200.9" r="2"/><circle cx="129.3" cy="207.3" r="2"/><circle cx="126.1" cy="204.5" r="2"/><circle cx="126.2" cy="207.1" r="2"/><circle cx="133.0" cy="200.6" r="2"/><circle cx="111.5" cy="208.3" r="2"/><circle cx="123.0" cy="209.4" r="2"/><circle cx="113.0" cy="207.1" r="2"/><circle cx="134.5" cy="194.0" r="2"/><circle cx="137.4" cy="209.0" r="2"/><circle cx="136.0" cy="206.5" r="2"/><circle cx="203.3" cy="208.4" r="2"/><circle cx="104.8" cy="205.4" r="2"/><circle cx="146.2" cy="208.5" r="2"/><circle cx="144.7" cy="207.0" r="2"/><circle cx="115.3" cy="205.8" r="2"/><circle cx="112.3" cy="206.5" r="2"/><circle cx="124.8" cy="200.9" r="2"/><circle cx="114.4" cy="208.7" r="2"/><circle cx="130.0" cy="203.2" r="2"/><circle cx="119.4" cy="205.8" r="2"/><circle cx="118.5" cy="197.5" r="2"/><circle cx="117.1" cy="207.4" r="2"/><circle cx="128.2" cy="204.8" r="2"/><circle cx="101.8" cy="209.0" r="2"/><circle cx="111.2" cy="205.2" r="2"/><circle cx="77.0" cy="206.2" r="2"/><circle cx="136.9" cy="209.4" r="2"/><circle cx="114.8" cy="199.5" r="2"/><circle cx="136.8" cy="204.9" r="2"/><circle cx="110.1" cy="209.0" r="2"/><circle cx="124.2" cy="206.4" r="2"/><circle cx="126.8" cy="208.3" r="2"/><circle cx="114.3" cy="209.2" r="2"/><circle cx="123.2" cy="208.1" r="2"/><circle cx="125.6" cy="209.5" r="2"/><circle cx="142.3" cy="208.3" r="2"/><circle cx="129.2" cy="208.0" r="2"/><circle cx="122.2" cy="203.6" r="2"/><circle cx="116.6" cy="208.9" r="2"/><circle cx="138.1" cy="200.3" r="2"/><circle cx="135.7" cy="206.9" r="2"/><circle cx="138.5" cy="202.3" r="2"/><circle cx="161.7" cy="202.2" r="2"/><circle cx="138.0" cy="206.2" r="2"/><circle cx="113.8" cy="208.3" r="2"/><circle cx="127.3" cy="207.1" r="2"/><circle cx="150.6" cy="207.8" r="2"/><circle cx="84.9" cy="205.7" r="2"/><circle cx="135.2" cy="203.9" r="2"/><circle cx="110.1" cy="206.2" r="2"/><circle cx="121.1" cy="208.7" r="2"/><circle cx="116.2" cy="208.4" r="2"/><circle cx="125.2" cy="208.7" r="2"/><circle cx="124.7" cy="203.0" r="2"/><circle cx="140.3" cy="197.2" r="2"/><circle cx="134.9" cy="208.7" r="2"/><circle cx="164.3" cy="208.1" r="2"/><circle cx="95.5" cy="209.5" r="2"/><circle cx="129.8" cy="208.4" r="2"/><circle cx="163.9" cy="199.7" r="2"/><circle cx="127.6" cy="207.1" r="2"/><circle cx="131.7" cy="202.5" r="2"/><circle cx="146.8" cy="205.8" r="2"/><circle cx="143.2" cy="200.5" r="2"/><circle cx="110.5" cy="209.1" r="2"/><circle cx="135.7" cy="194.9" r="2"/><circle cx="116.7" cy="208.7" r="2"/><circle cx="92.8" cy="209.0" r="2"/><circle cx="85.9" cy="207.1" r="2"/><circle cx="121.7" cy="206.2" r="2"/><circle cx="120.1" cy="208.2" r="2"/><circle cx="125.2" cy="208.7" r="2"/><circle cx="135.3" cy="201.7" r="2"/><circle cx="133.3" cy="202.5" r="2"/><circle cx="124.4" cy="206.6" r="2"/><circle cx="141.7" cy="207.3" r="2"/><circle cx="133.5" cy="209.3" r="2"/><circle cx="109.8" cy="205.8" r="2"/><circle cx="141.5" cy="203.1" r="2"/><circle cx="135.7" cy="204.5" r="2"/><circle cx="127.2" cy="205.0" r="2"/><circle cx="139.0" cy="206.0" r="2"/><circle cx="140.6" cy="204.5" r="2"/><circle cx="119.5" cy="204.7" r="2"/><circle cx="143.0" cy="209.1" r="2"/><circle cx="133.7" cy="208.0" r="2"/><circle cx="177.2" cy="201.7" r="2"/><circle cx="110.6" cy="209.4" r="2"/><circle cx="148.3" cy="209.1" r="2"/><circle cx="147.9" cy="202.0" r="2"/><circle cx="138.1" cy="208.1" r="2"/><circle cx="115.5" cy="201.7" r="2"/><circle cx="143.1" cy="208.7" r="2"/><circle cx="122.8" cy="208.5" r="2"/><circle cx="118.0" cy="199.8" r="2"/><circle cx="121.1" cy="205.4" r="2"/><circle cx="109.0" cy="208.8" r="2"/><circle cx="143.0" cy="206.2" r="2"/><circle cx="122.1" cy="195.2" r="2"/><circle cx="126.4" cy="201.3" r="2"/><circle cx="121.4" cy="201.9" r="2"/><circle cx="124.7" cy="205.2" r="2"/><circle cx="132.2" cy="209.0" r="2"/><circle cx="153.0" cy="203.9" r="2"/><circle cx="134.3" cy="209.4" r="2"/><circle cx="105.8" cy="208.7" r="2"/><circle cx="107.7" cy="206.6" r="2"/><circle cx="100.8" cy="207.7" r="2"/><circle cx="101.5" cy="203.8" r="2"/><circle cx="108.3" cy="206.1" r="2"/><circle cx="115.6" cy="202.0" r="2"/><circle cx="117.7" cy="206.4" r="2"/><circle cx="117.8" cy="207.0" r="2"/><circle cx="98.8" cy="205.7" r="2"/><circle cx="116.8" cy="207.9" r="2"/><circle cx="168.6" cy="207.8" r="2"/><circle cx="117.9" cy="206.6" r="2"/><circle cx="138.5" cy="207.2" r="2"/><circle cx="142.7" cy="207.7" r="2"/><circle cx="117.6" cy="207.0" r="2"/><circle cx="102.8" cy="204.7" r="2"/><circle cx="107.4" cy="195.1" r="2"/><circle cx="135.8" cy="204.8" r="2"/><circle cx="110.9" cy="205.1" r="2"/><circle cx="140.9" cy="206.6" r="2"/><circle cx="116.1" cy="208.4" r="2"/><circle cx="136.6" cy="209.2" r="2"/><circle cx="121.5" cy="205.1" r="2"/><circle cx="132.1" cy="193.5" r="2"/><circle cx="92.4" cy="208.4" r="2"/><circle cx="131.1" cy="197.9" r="2"/><circle cx="137.6" cy="204.5" r="2"/><circle cx="137.4" cy="208.6" r="2"/><circle cx="115.5" cy="207.8" r="2"/><circle cx="133.1" cy="205.7" r="2"/><circle cx="111.6" cy="208.5" r="2"/><circle cx="141.9" cy="207.1" r="2"/><circle cx="135.1" cy="208.2" r="2"/><circle cx="110.3" cy="204.3" r="2"/><circle cx="158.2" cy="209.4" r="2"/><circle cx="140.8" cy="199.1" r="2"/><circle cx="127.2" cy="207.0" r="2"/><circle cx="126.6" cy="209.1" r="2"/><circle cx="113.6" cy="200.7" r="2"/><circle cx="106.3" cy="204.1" r="2"/><circle cx="150.1" cy="208.4" r="2"/><circle cx="128.9" cy="208.1" r="2"/><circle cx="123.5" cy="207.7" r="2"/><circle cx="91.7" cy="205.7" r="2"/><circle cx="151.8" cy="203.4" r="2"/><circle cx="111.5" cy="209.1" r="2"/><circle cx="143.1" cy="209.1" r="2"/><circle cx="141.1" cy="208.5" r="2"/><circle cx="109.5" cy="208.7" r="2"/><circle cx="161.7" cy="195.5" r="2"/><circle cx="148.1" cy="205.5" r="2"/><circle cx="111.6" cy="206.4" r="2"/><circle cx="154.6" cy="207.9" r="2"/><circle cx="149.3" cy="206.6" r="2"/><circle cx="141.5" cy="209.2" r="2"/><circle cx="114.1" cy="200.6" r="2"/><circle cx="134.3" cy="209.0" r="2"/><circle cx="127.3" cy="207.2" r="2"/><circle cx="134.1" cy="206.3" r="2"/><circle cx="145.3" cy="208.6" r="2"/><circle cx="128.6" cy="199.6" r="2"/><circle cx="126.9" cy="207.1" r="2"/><circle cx="113.7" cy="208.7" r="2"/><circle cx="121.6" cy="205.6" r="2"/><circle cx="127.8" cy="208.7" r="2"/><circle cx="149.9" cy="209.1" r="2"/><circle cx="81.5" cy="207.8" r="2"/><circle cx="127.0" cy="208.1" r="2"/><circle cx="102.7" cy="202.4" r="2"/><circle cx="105.3" cy="209.1" r="2"/><circle cx="154.2" cy="200.8" r="2"/><circle cx="127.2" cy="203.5" r="2"/><circle cx="137.0" cy="207.0" r="2"/><circle cx="142.7" cy="209.0" r="2"/><circle cx="125.3" cy="208.0" r="2"/><circle cx="99.4" cy="208.9" r="2"/><circle cx="94.9" cy="209.4" r="2"/><circle cx="106.6" cy="205.5" r="2"/><circle cx="139.9" cy="209.0" r="2"/><circle cx="122.8" cy="207.5" r="2"/><circle cx="123.3" cy="205.8" r="2"/><circle cx="141.0" cy="205.6" r="2"/><circle cx="139.2" cy="208.7" r="2"/><circle cx="109.9" cy="206.7" r="2"/><circle cx="145.2" cy="208.1" r="2"/><circle cx="51.6" cy="200.8" r="2"/><circle cx="132.3" cy="162.6" r="2"/><circle cx="122.1" cy="174.5" r="2"/><circle cx="122.5" cy="165.9" r="2"/><circle cx="139.6" cy="171.9" r="2"/><circle cx="95.9" cy="194.9" r="2"/><circle cx="160.7" cy="195.4" r="2"/><circle cx="96.3" cy="198.5" r="2"/><circle cx="167.1" cy="186.4" r="2"/><circle cx="112.3" cy="190.7" r="2"/><circle cx="105.8" cy="167.5" r="2"/><circle cx="123.3" cy="189.8" r="2"/><circle cx="139.4" cy="137.8" r="2"/><circle cx="130.0" cy="139.5" r="2"/><circle cx="145.2" cy="166.6" r="2"/><circle cx="120.3" cy="190.5" r="2"/><circle cx="108.4" cy="186.3" r="2"/><circle cx="120.7" cy="159.8" r="2"/><circle cx="111.6" cy="193.5" r="2"/><circle cx="141.8" cy="154.4" r="2"/><circle cx="122.9" cy="180.5" r="2"/><circle cx="112.3" cy="188.7" r="2"/><circle cx="121.6" cy="183.4" r="2"/><circle cx="100.4" cy="179.1" r="2"/><circle cx="113.7" cy="162.8" r="2"/><circle cx="121.0" cy="197.0" r="2"/><circle cx="118.7" cy="187.3" r="2"/><circle cx="135.1" cy="180.3" r="2"/><circle cx="108.0" cy="175.2" r="2"/><circle cx="122.9" cy="166.6" r="2"/><circle cx="99.3" cy="189.8" r="2"/><circle cx="151.6" cy="197.9" r="2"/><circle cx="135.7" cy="170.5" r="2"/><circle cx="122.2" cy="167.0" r="2"/><circle cx="123.1" cy="197.4" r="2"/><circle cx="137.9" cy="199.7" r="2"/><circle cx="139.0" cy="133.2" r="2"/><circle cx="177.0" cy="195.8" r="2"/><circle cx="139.3" cy="124.5" r="2"/><circle cx="133.7" cy="199.4" r="2"/><circle cx="75.3" cy="200.2" r="2"/><circle cx="117.8" cy="194.8" r="2"/><circle cx="146.4" cy="195.4" r="2"/><circle cx="156.1" cy="198.5" r="2"/><circle cx="97.7" cy="186.1" r="2"/><circle cx="130.7" cy="149.9" r="2"/><circle cx="130.1" cy="128.1" r="2"/><circle cx="82.3" cy="200.3" r="2"/><circle cx="92.4" cy="189.3" r="2"/><circle cx="134.2" cy="147.3" r="2"/><circle cx="134.1" cy="168.5" r="2"/><circle cx="151.6" cy="185.1" r="2"/><circle cx="131.9" cy="198.5" r="2"/><circle cx="122.5" cy="197.0" r="2"/><circle cx="141.5" cy="200.3" r="2"/><circle cx="115.4" cy="134.3" r="2"/><circle cx="177.0" cy="195.7" r="2"/><circle cx="121.2" cy="181.0" r="2"/><circle cx="95.5" cy="199.4" r="2"/><circle cx="97.2" cy="185.6" r="2"/><circle cx="115.3" cy="168.9" r="2"/><circle cx="139.5" cy="196.7" r="2"/><circle cx="107.6" cy="192.5" r="2"/><circle cx="120.6" cy="181.4" r="2"/><circle cx="133.7" cy="199.6" r="2"/><circle cx="134.8" cy="179.8" r="2"/><circle cx="147.1" cy="185.1" r="2"/><circle cx="122.3" cy="187.8" r="2"/><circle cx="141.3" cy="186.5" r="2"/><circle cx="153.3" cy="179.5" r="2"/><circle cx="146.9" cy="197.0" r="2"/><circle cx="111.2" cy="162.3" r="2"/><circle cx="158.2" cy="199.4" r="2"/><circle cx="158.3" cy="190.0" r="2"/><circle cx="130.8" cy="183.6" r="2"/><circle cx="117.6" cy="163.3" r="2"/><circle cx="132.5" cy="187.9" r="2"/><circle cx="116.4" cy="166.1" r="2"/><circle cx="118.8" cy="184.5" r="2"/><circle cx="109.6" cy="196.1" r="2"/><circle cx="113.2" cy="186.3" r="2"/><circle cx="151.7" cy="193.9" r="2"/><circle cx="180.4" cy="200.3" r="2"/><circle cx="135.8" cy="103.0" r="2"/><circle cx="132.6" cy="128.7" r="2"/><circle cx="65.6" cy="192.0" r="2"/><circle cx="109.4" cy="146.6" r="2"/><circle cx="135.3" cy="190.5" r="2"/><circle cx="134.2" cy="198.3" r="2"/><circle cx="111.4" cy="178.1" r="2"/><circle cx="116.8" cy="178.1" r="2"/><circle cx="120.5" cy="183.5" r="2"/><circle cx="162.9" cy="194.6" r="2"/><circle cx="39.6" cy="195.5" r="2"/><circle cx="134.8" cy="182.2" r="2"/><circle cx="122.7" cy="106.4" r="2"/><circle cx="117.3" cy="197.2" r="2"/><circle cx="112.6" cy="188.6" r="2"/><circle cx="135.6" cy="179.9" r="2"/><circle cx="120.1" cy="150.6" r="2"/><circle cx="135.4" cy="177.2" r="2"/><circle cx="114.8" cy="169.1" r="2"/><circle cx="121.3" cy="179.5" r="2"/><circle cx="132.5" cy="189.9" r="2"/><circle cx="142.4" cy="191.2" r="2"/><circle cx="135.3" cy="161.6" r="2"/><circle cx="139.3" cy="180.3" r="2"/><circle cx="118.0" cy="179.4" r="2"/><circle cx="138.3" cy="169.4" r="2"/><circle cx="155.4" cy="200.4" r="2"/><circle cx="103.5" cy="191.2" r="2"/><circle cx="116.0" cy="183.2" r="2"/><circle cx="119.5" cy="159.2" r="2"/><circle cx="112.7" cy="173.1" r="2"/><circle cx="132.3" cy="171.4" r="2"/><circle cx="150.6" cy="199.2" r="2"/><circle cx="130.7" cy="151.7" r="2"/><circle cx="136.6" cy="183.9" r="2"/><circle cx="122.5" cy="161.1" r="2"/><circle cx="87.7" cy="184.9" r="2"/><circle cx="133.6" cy="179.4" r="2"/><circle cx="114.7" cy="187.6" r="2"/><circle cx="122.1" cy="199.0" r="2"/><circle cx="146.2" cy="200.1" r="2"/><circle cx="111.7" cy="190.4" r="2"/><circle cx="97.6" cy="196.7" r="2"/><circle cx="99.9" cy="167.0" r="2"/><circle cx="138.5" cy="196.2" r="2"/><circle cx="118.3" cy="168.7" r="2"/><circle cx="136.2" cy="156.2" r="2"/><circle cx="131.1" cy="193.0" r="2"/><circle cx="90.0" cy="188.2" r="2"/><circle cx="134.6" cy="137.4" r="2"/><circle cx="116.5" cy="160.4" r="2"/><circle cx="90.7" cy="174.9" r="2"/><circle cx="112.7" cy="179.1" r="2"/><circle cx="101.1" cy="198.8" r="2"/><circle cx="148.4" cy="192.5" r="2"/><circle cx="158.0" cy="185.9" r="2"/><circle cx="116.6" cy="136.1" r="2"/><circle cx="156.5" cy="194.7" r="2"/><circle cx="133.5" cy="144.9" r="2"/><circle cx="131.2" cy="156.8" r="2"/><circle cx="120.7" cy="147.8" r="2"/><circle cx="130.7" cy="187.9" r="2"/><circle cx="109.4" cy="199.1" r="2"/><circle cx="112.0" cy="197.8" r="2"/><circle cx="132.6" cy="190.0" r="2"/><circle cx="191.7" cy="197.3" r="2"/><circle cx="139.7" cy="161.8" r="2"/><circle cx="120.3" cy="191.1" r="2"/><circle cx="141.7" cy="189.3" r="2"/><circle cx="112.1" cy="186.9" r="2"/><circle cx="112.3" cy="172.3" r="2"/><circle cx="119.7" cy="138.1" r="2"/><circle cx="139.8" cy="101.6" r="2"/><circle cx="135.4" cy="181.2" r="2"/><circle cx="122.9" cy="177.9" r="2"/><circle cx="134.9" cy="192.9" r="2"/><circle cx="131.2" cy="183.8" r="2"/><circle cx="138.3" cy="173.1" r="2"/><circle cx="115.2" cy="186.6" r="2"/><circle cx="118.6" cy="138.8" r="2"/><circle cx="117.5" cy="198.8" r="2"/><circle cx="122.1" cy="186.6" r="2"/><circle cx="135.9" cy="194.5" r="2"/><circle cx="105.9" cy="191.7" r="2"/><circle cx="117.1" cy="150.2" r="2"/><circle cx="94.1" cy="172.3" r="2"/><circle cx="106.1" cy="163.4" r="2"/><circle cx="107.0" cy="113.6" r="2"/><circle cx="109.5" cy="197.2" r="2"/><circle cx="120.1" cy="159.6" r="2"/><circle cx="172.8" cy="160.5" r="2"/><circle cx="120.1" cy="176.5" r="2"/><circle cx="130.0" cy="156.8" r="2"/><circle cx="93.9" cy="178.0" r="2"/><circle cx="86.6" cy="190.7" r="2"/><circle cx="110.6" cy="172.4" r="2"/><circle cx="137.8" cy="142.2" r="2"/><circle cx="160.1" cy="189.1" r="2"/><circle cx="77.7" cy="170.0" r="2"/><circle cx="159.8" cy="198.3" r="2"/><circle cx="135.7" cy="163.7" r="2"/><circle cx="136.7" cy="101.2" r="2"/><circle cx="117.9" cy="159.1" r="2"/><circle cx="146.9" cy="194.2" r="2"/><circle cx="121.7" cy="165.9" r="2"/><circle cx="115.6" cy="172.3" r="2"/><circle cx="212.6" cy="199.8" r="2"/><circle cx="122.2" cy="140.6" r="2"/><circle cx="148.8" cy="107.3" r="2"/><circle cx="120.1" cy="179.4" r="2"/><circle cx="88.5" cy="193.2" r="2"/><circle cx="122.1" cy="173.7" r="2"/><circle cx="117.6" cy="178.0" r="2"/><circle cx="119.7" cy="193.5" r="2"/><circle cx="45.0" cy="193.5" r="2"/><circle cx="114.8" cy="193.7" r="2"/><circle cx="136.9" cy="175.9" r="2"/><circle cx="103.2" cy="200.6" r="2"/><circle cx="144.4" cy="170.0" r="2"/><circle cx="98.5" cy="186.1" r="2"/><circle cx="136.3" cy="168.5" r="2"/><circle cx="105.3" cy="191.3" r="2"/><circle cx="134.7" cy="186.5" r="2"/><circle cx="130.6" cy="99.0" r="2"/><circle cx="113.3" cy="188.9" r="2"/><circle cx="130.9" cy="197.3" r="2"/><circle cx="119.9" cy="147.2" r="2"/><circle cx="133.7" cy="195.6" r="2"/><circle cx="123.1" cy="186.8" r="2"/><circle cx="122.0" cy="143.9" r="2"/><circle cx="121.5" cy="182.9" r="2"/><circle cx="117.9" cy="186.4" r="2"/><circle cx="122.6" cy="163.3" r="2"/><circle cx="132.7" cy="144.5" r="2"/><circle cx="142.3" cy="171.0" r="2"/><circle cx="90.2" cy="200.3" r="2"/><circle cx="60.4" cy="196.2" r="2"/><circle cx="101.4" cy="192.7" r="2"/><circle cx="121.6" cy="157.1" r="2"/><circle cx="115.3" cy="170.8" r="2"/><circle cx="116.9" cy="187.0" r="2"/><circle cx="110.0" cy="159.2" r="2"/><circle cx="123.3" cy="161.3" r="2"/><circle cx="130.4" cy="135.8" r="2"/><circle cx="158.0" cy="200.3" r="2"/><circle cx="122.1" cy="171.4" r="2"/><circle cx="121.2" cy="152.2" r="2"/><circle cx="122.1" cy="116.0" r="2"/><circle cx="121.5" cy="179.0" r="2"/><circle cx="141.2" cy="194.7" r="2"/><circle cx="134.0" cy="191.1" r="2"/><circle cx="201.2" cy="200.3" r="2"/><circle cx="100.1" cy="195.3" r="2"/><circle cx="120.1" cy="189.9" r="2"/><circle cx="112.9" cy="198.6" r="2"/><circle cx="133.3" cy="148.2" r="2"/><circle cx="45.8" cy="198.7" r="2"/><circle cx="122.1" cy="152.1" r="2"/><circle cx="131.6" cy="179.2" r="2"/><circle cx="130.6" cy="183.3" r="2"/><circle cx="181.3" cy="190.3" r="2"/><circle cx="115.9" cy="197.8" r="2"/><circle cx="93.9" cy="185.2" r="2"/><circle cx="142.2" cy="188.3" r="2"/><circle cx="82.6" cy="186.2" r="2"/><circle cx="131.5" cy="172.1" r="2"/><circle cx="118.9" cy="181.1" r="2"/><circle cx="148.7" cy="143.8" r="2"/><circle cx="130.5" cy="175.6" r="2"/><circle cx="122.7" cy="98.8" r="2"/><circle cx="97.6" cy="198.5" r="2"/><circle cx="133.0" cy="190.5" r="2"/><circle cx="141.3" cy="185.9" r="2"/><circle cx="94.4" cy="193.1" r="2"/><circle cx="163.4" cy="199.9" r="2"/><circle cx="194.1" cy="198.0" r="2"/><circle cx="118.0" cy="169.5" r="2"/><circle cx="138.7" cy="191.7" r="2"/><circle cx="123.0" cy="157.7" r="2"/><circle cx="120.2" cy="143.7" r="2"/><circle cx="135.4" cy="161.1" r="2"/><circle cx="119.7" cy="193.3" r="2"/><circle cx="115.1" cy="169.4" r="2"/><circle cx="132.2" cy="188.8" r="2"/><circle cx="114.1" cy="188.0" r="2"/><circle cx="150.7" cy="192.9" r="2"/><circle cx="119.0" cy="121.5" r="2"/><circle cx="122.8" cy="176.1" r="2"/><circle cx="189.4" cy="199.3" r="2"/><circle cx="120.8" cy="128.8" r="2"/><circle cx="161.2" cy="189.7" r="2"/><circle cx="117.0" cy="193.3" r="2"/><circle cx="130.7" cy="197.6" r="2"/><circle cx="135.7" cy="161.6" r="2"/><circle cx="137.3" cy="183.6" r="2"/><circle cx="122.6" cy="186.3" r="2"/><circle cx="132.3" cy="191.5" r="2"/><circle cx="138.9" cy="197.2" r="2"/><circle cx="120.1" cy="189.5" r="2"/><circle cx="119.9" cy="137.5" r="2"/><circle cx="115.9" cy="171.1" r="2"/><circle cx="123.1" cy="150.6" r="2"/><circle cx="121.2" cy="169.7" r="2"/><circle cx="131.3" cy="132.2" r="2"/><circle cx="158.7" cy="194.8" r="2"/><circle cx="154.7" cy="195.6" r="2"/><circle cx="122.6" cy="147.1" r="2"/><circle cx="159.1" cy="180.9" r="2"/><circle cx="138.8" cy="149.8" r="2"/><circle cx="106.0" cy="175.3" r="2"/><circle cx="130.0" cy="187.7" r="2"/><circle cx="174.4" cy="194.1" r="2"/><circle cx="138.3" cy="168.0" r="2"/><circle cx="176.9" cy="200.5" r="2"/><circle cx="132.7" cy="181.9" r="2"/><circle cx="105.2" cy="194.4" r="2"/><circle cx="117.2" cy="178.9" r="2"/><circle cx="166.0" cy="185.9" r="2"/><circle cx="140.6" cy="188.5" r="2"/><circle cx="121.9" cy="148.5" r="2"/><circle cx="108.0" cy="188.1" r="2"/><circle cx="113.2" cy="174.7" r="2"/><circle cx="131.5" cy="113.9" r="2"/><circle cx="142.2" cy="188.3" r="2"/><circle cx="131.0" cy="111.6" r="2"/><circle cx="113.3" cy="171.9" r="2"/><circle cx="110.4" cy="160.3" r="2"/><circle cx="136.5" cy="166.5" r="2"/><circle cx="112.4" cy="111.7" r="2"/><circle cx="123.0" cy="194.9" r="2"/><circle cx="47.0" cy="199.3" r="2"/><circle cx="107.5" cy="197.7" r="2"/><circle cx="141.9" cy="187.0" r="2"/><circle cx="143.0" cy="171.2" r="2"/><circle cx="119.7" cy="197.5" r="2"/><circle cx="148.3" cy="193.7" r="2"/><circle cx="143.6" cy="188.7" r="2"/><circle cx="107.7" cy="196.6" r="2"/><circle cx="123.4" cy="166.0" r="2"/><circle cx="113.7" cy="192.9" r="2"/><circle cx="168.6" cy="197.6" r="2"/><circle cx="121.9" cy="161.4" r="2"/><circle cx="146.6" cy="188.4" r="2"/><circle cx="120.9" cy="186.4" r="2"/><circle cx="123.2" cy="181.3" r="2"/><circle cx="106.8" cy="181.7" r="2"/><circle cx="110.1" cy="198.6" r="2"/><circle cx="136.0" cy="188.3" r="2"/><circle cx="120.5" cy="172.9" r="2"/><circle cx="113.7" cy="177.5" r="2"/><circle cx="115.2" cy="192.5" r="2"/><circle cx="162.3" cy="195.0" r="2"/><circle cx="134.4" cy="175.4" r="2"/><circle cx="132.5" cy="144.3" r="2"/><circle cx="119.6" cy="198.5" r="2"/><circle cx="109.0" cy="183.2" r="2"/><circle cx="143.2" cy="157.9" r="2"/><circle cx="151.4" cy="142.0" r="2"/><circle cx="103.7" cy="179.5" r="2"/><circle cx="116.7" cy="193.9" r="2"/><circle cx="146.8" cy="197.6" r="2"/><circle cx="154.2" cy="191.7" r="2"/><circle cx="119.1" cy="132.6" r="2"/><circle cx="120.3" cy="143.0" r="2"/><circle cx="160.0" cy="184.8" r="2"/><circle cx="111.9" cy="194.3" r="2"/><circle cx="117.9" cy="182.0" r="2"/><circle cx="117.7" cy="157.0" r="2"/><circle cx="141.1" cy="150.8" r="2"/><circle cx="118.0" cy="186.7" r="2"/><circle cx="138.1" cy="194.1" r="2"/><circle cx="119.0" cy="148.4" r="2"/><circle cx="131.4" cy="197.6" r="2"/><circle cx="109.2" cy="153.9" r="2"/><circle cx="135.7" cy="116.1" r="2"/><circle cx="175.2" cy="200.2" r="2"/><circle cx="117.1" cy="198.6" r="2"/><circle cx="174.1" cy="185.6" r="2"/><circle cx="122.1" cy="184.7" r="2"/><circle cx="141.4" cy="199.7" r="2"/><circle cx="139.1" cy="176.5" r="2"/><circle cx="143.5" cy="198.5" r="2"/><circle cx="141.1" cy="163.5" r="2"/><circle cx="116.1" cy="190.6" r="2"/><circle cx="122.2" cy="195.0" r="2"/><circle cx="131.0" cy="165.7" r="2"/><circle cx="120.4" cy="191.3" r="2"/><circle cx="109.5" cy="173.3" r="2"/><circle cx="132.1" cy="152.0" r="2"/><circle cx="123.3" cy="187.8" r="2"/><circle cx="134.1" cy="191.1" r="2"/><circle cx="119.9" cy="154.6" r="2"/><circle cx="132.1" cy="170.7" r="2"/><circle cx="143.2" cy="137.7" r="2"/><circle cx="196.3" cy="188.0" r="2"/><circle cx="151.7" cy="174.3" r="2"/><circle cx="185.2" cy="186.1" r="2"/><circle cx="133.7" cy="155.3" r="2"/><circle cx="131.7" cy="159.1" r="2"/><circle cx="122.5" cy="98.3" r="2"/><circle cx="120.5" cy="189.8" r="2"/><circle cx="142.1" cy="169.3" r="2"/><circle cx="113.9" cy="194.6" r="2"/><circle cx="158.7" cy="179.6" r="2"/><circle cx="133.1" cy="105.4" r="2"/><circle cx="132.5" cy="109.7" r="2"/><circle cx="86.1" cy="197.2" r="2"/><circle cx="119.3" cy="173.5" r="2"/><circle cx="130.5" cy="132.0" r="2"/><circle cx="130.1" cy="198.0" r="2"/><circle cx="106.3" cy="175.5" r="2"/><circle cx="121.7" cy="188.3" r="2"/><circle cx="113.9" cy="193.3" r="2"/><circle cx="177.1" cy="195.0" r="2"/><circle cx="120.4" cy="197.9" r="2"/><circle cx="122.5" cy="166.2" r="2"/><circle cx="116.1" cy="199.3" r="2"/><circle cx="134.5" cy="156.6" r="2"/><circle cx="117.1" cy="195.3" r="2"/><circle cx="144.1" cy="164.5" r="2"/><circle cx="141.9" cy="188.5" r="2"/><circle cx="122.8" cy="191.5" r="2"/><circle cx="123.0" cy="130.8" r="2"/><circle cx="131.5" cy="148.7" r="2"/><circle cx="118.5" cy="189.8" r="2"/><circle cx="113.2" cy="189.6" r="2"/><circle cx="150.7" cy="191.8" r="2"/><circle cx="158.2" cy="191.2" r="2"/><circle cx="43.7" cy="196.9" r="2"/><circle cx="121.5" cy="177.6" r="2"/><circle cx="161.1" cy="197.9" r="2"/><circle cx="112.5" cy="167.0" r="2"/><circle cx="121.1" cy="189.6" r="2"/><circle cx="116.7" cy="108.0" r="2"/><circle cx="115.5" cy="187.6" r="2"/><circle cx="111.9" cy="179.5" r="2"/><circle cx="123.2" cy="183.7" r="2"/><circle cx="114.7" cy="172.9" r="2"/><circle cx="110.7" cy="153.4" r="2"/><circle cx="144.9" cy="191.0" r="2"/><circle cx="121.6" cy="180.3" r="2"/><circle cx="216.9" cy="184.8" r="2"/><circle cx="120.7" cy="188.6" r="2"/><circle cx="163.7" cy="195.2" r="2"/><circle cx="150.2" cy="190.0" r="2"/><circle cx="110.9" cy="188.4" r="2"/><circle cx="170.5" cy="194.9" r="2"/><circle cx="119.9" cy="101.2" r="2"/><circle cx="152.7" cy="173.7" r="2"/><circle cx="135.9" cy="163.7" r="2"/><circle cx="114.5" cy="143.4" r="2"/><circle cx="98.0" cy="177.4" r="2"/><circle cx="85.4" cy="186.7" r="2"/><circle cx="151.7" cy="197.4" r="2"/><circle cx="115.4" cy="189.9" r="2"/><circle cx="111.9" cy="193.2" r="2"/><circle cx="169.7" cy="193.2" r="2"/><circle cx="61.7" cy="198.1" r="2"/><circle cx="130.1" cy="183.1" r="2"/><circle cx="113.4" cy="179.4" r="2"/><circle cx="95.4" cy="174.3" r="2"/><circle cx="140.2" cy="194.4" r="2"/><circle cx="108.7" cy="189.9" r="2"/><circle cx="120.7" cy="164.4" r="2"/><circle cx="141.6" cy="143.0" r="2"/><circle cx="120.4" cy="103.7" r="2"/><circle cx="136.0" cy="161.6" r="2"/><circle cx="170.1" cy="195.5" r="2"/><circle cx="65.0" cy="198.3" r="2"/><circle cx="114.9" cy="153.9" r="2"/><circle cx="95.4" cy="199.5" r="2"/><circle cx="139.9" cy="167.3" r="2"/><circle cx="100.7" cy="189.3" r="2"/><circle cx="132.3" cy="125.2" r="2"/><circle cx="117.9" cy="187.3" r="2"/><circle cx="123.0" cy="179.1" r="2"/><circle cx="118.5" cy="113.0" r="2"/><circle cx="133.4" cy="180.7" r="2"/><circle cx="76.9" cy="199.5" r="2"/><circle cx="117.7" cy="200.2" r="2"/><circle cx="132.4" cy="105.8" r="2"/><circle cx="121.3" cy="151.6" r="2"/><circle cx="149.0" cy="186.7" r="2"/><circle cx="131.4" cy="181.0" r="2"/><circle cx="123.2" cy="165.9" r="2"/><circle cx="105.4" cy="161.0" r="2"/><circle cx="131.3" cy="174.5" r="2"/><circle cx="137.9" cy="182.1" r="2"/><circle cx="132.5" cy="163.6" r="2"/><circle cx="119.8" cy="185.7" r="2"/><circle cx="193.7" cy="196.6" r="2"/><circle cx="147.9" cy="196.3" r="2"/><circle cx="170.7" cy="192.2" r="2"/><circle cx="157.9" cy="189.7" r="2"/><circle cx="114.8" cy="181.4" r="2"/><circle cx="130.2" cy="174.1" r="2"/><circle cx="134.8" cy="183.8" r="2"/><circle cx="111.0" cy="102.9" r="2"/><circle cx="112.8" cy="197.1" r="2"/><circle cx="111.3" cy="192.5" r="2"/><circle cx="138.7" cy="180.9" r="2"/><circle cx="151.2" cy="195.4" r="2"/><circle cx="93.3" cy="194.0" r="2"/><circle cx="121.8" cy="162.0" r="2"/><circle cx="121.4" cy="150.4" r="2"/><circle cx="132.3" cy="142.7" r="2"/><circle cx="138.9" cy="189.3" r="2"/><circle cx="123.2" cy="129.4" r="2"/><circle cx="143.3" cy="177.5" r="2"/><circle cx="122.4" cy="149.8" r="2"/><circle cx="107.6" cy="187.8" r="2"/><circle cx="130.2" cy="156.4" r="2"/><circle cx="137.1" cy="193.3" r="2"/><circle cx="116.0" cy="192.2" r="2"/><circle cx="118.1" cy="148.8" r="2"/><circle cx="148.2" cy="150.6" r="2"/><circle cx="119.8" cy="138.8" r="2"/><circle cx="116.5" cy="142.2" r="2"/><circle cx="123.2" cy="198.5" r="2"/><circle cx="123.0" cy="150.9" r="2"/><circle cx="106.4" cy="183.7" r="2"/><circle cx="112.5" cy="178.4" r="2"/><circle cx="113.8" cy="167.9" r="2"/><circle cx="133.8" cy="149.7" r="2"/><circle cx="140.8" cy="187.2" r="2"/><circle cx="107.0" cy="183.3" r="2"/><circle cx="137.5" cy="179.7" r="2"/><circle cx="90.7" cy="199.8" r="2"/><circle cx="120.5" cy="147.4" r="2"/><circle cx="132.4" cy="125.6" r="2"/><circle cx="109.2" cy="149.6" r="2"/><circle cx="155.9" cy="199.8" r="2"/><circle cx="105.5" cy="160.4" r="2"/><circle cx="122.8" cy="169.5" r="2"/><circle cx="119.1" cy="171.6" r="2"/><circle cx="121.7" cy="176.8" r="2"/><circle cx="123.3" cy="134.4" r="2"/><circle cx="93.8" cy="197.7" r="2"/><circle cx="135.5" cy="198.6" r="2"/><circle cx="121.4" cy="186.5" r="2"/><circle cx="121.9" cy="124.9" r="2"/><circle cx="146.5" cy="196.5" r="2"/><circle cx="115.5" cy="190.9" r="2"/><circle cx="120.3" cy="102.0" r="2"/><circle cx="116.1" cy="161.9" r="2"/><circle cx="131.9" cy="191.0" r="2"/><circle cx="139.8" cy="163.2" r="2"/><circle cx="120.8" cy="175.3" r="2"/><circle cx="90.4" cy="184.3" r="2"/><circle cx="119.2" cy="194.6" r="2"/><circle cx="123.1" cy="147.0" r="2"/><circle cx="134.9" cy="168.2" r="2"/><circle cx="121.1" cy="144.9" r="2"/><circle cx="149.1" cy="192.9" r="2"/><circle cx="133.5" cy="177.4" r="2"/><circle cx="133.4" cy="199.6" r="2"/><circle cx="170.6" cy="187.4" r="2"/><circle cx="143.6" cy="190.5" r="2"/><circle cx="119.5" cy="178.5" r="2"/><circle cx="123.2" cy="187.8" r="2"/><circle cx="119.2" cy="166.7" r="2"/><circle cx="147.1" cy="191.1" r="2"/><circle cx="99.3" cy="189.9" r="2"/><circle cx="131.2" cy="199.1" r="2"/><circle cx="140.8" cy="190.0" r="2"/><circle cx="133.8" cy="170.5" r="2"/><circle cx="166.4" cy="198.1" r="2"/><circle cx="111.5" cy="188.3" r="2"/><circle cx="115.6" cy="150.4" r="2"/><circle cx="115.3" cy="110.8" r="2"/><circle cx="139.1" cy="148.5" r="2"/><circle cx="134.5" cy="176.7" r="2"/><circle cx="116.8" cy="194.3" r="2"/><circle cx="123.2" cy="165.7" r="2"/><circle cx="99.9" cy="196.2" r="2"/><circle cx="133.1" cy="158.7" r="2"/><circle cx="131.5" cy="189.6" r="2"/><circle cx="114.5" cy="180.8" r="2"/><circle cx="133.1" cy="174.0" r="2"/><circle cx="170.4" cy="167.2" r="2"/><circle cx="145.0" cy="187.5" r="2"/><circle cx="120.8" cy="144.4" r="2"/><circle cx="106.5" cy="197.1" r="2"/><circle cx="148.9" cy="192.6" r="2"/><circle cx="106.5" cy="193.6" r="2"/><circle cx="99.4" cy="190.7" r="2"/><circle cx="109.3" cy="191.2" r="2"/><circle cx="86.6" cy="195.8" r="2"/><circle cx="154.0" cy="198.7" r="2"/><circle cx="122.3" cy="169.7" r="2"/><circle cx="109.5" cy="150.7" r="2"/><circle cx="121.3" cy="192.2" r="2"/><circle cx="108.8" cy="176.9" r="2"/><circle cx="131.8" cy="135.9" r="2"/><circle cx="75.4" cy="195.6" r="2"/><circle cx="179.9" cy="197.0" r="2"/><circle cx="120.8" cy="121.2" r="2"/><circle cx="137.9" cy="168.9" r="2"/><circle cx="131.4" cy="177.4" r="2"/><circle cx="138.7" cy="168.5" r="2"/><circle cx="144.1" cy="197.7" r="2"/><circle cx="134.5" cy="194.7" r="2"/><circle cx="120.1" cy="199.9" r="2"/><circle cx="130.6" cy="183.4" r="2"/><circle cx="117.8" cy="148.5" r="2"/><circle cx="146.6" cy="199.1" r="2"/><circle cx="116.3" cy="186.3" r="2"/><circle cx="143.1" cy="191.3" r="2"/><circle cx="119.6" cy="176.7" r="2"/><circle cx="113.6" cy="187.8" r="2"/><circle cx="135.7" cy="199.4" r="2"/><circle cx="130.2" cy="129.6" r="2"/><circle cx="139.4" cy="200.8" r="2"/><circle cx="95.1" cy="171.0" r="2"/><circle cx="96.5" cy="197.1" r="2"/><circle cx="130.0" cy="191.9" r="2"/><circle cx="121.9" cy="144.0" r="2"/><circle cx="110.7" cy="180.5" r="2"/><circle cx="137.7" cy="169.0" r="2"/><circle cx="131.3" cy="181.0" r="2"/><circle cx="114.4" cy="172.6" r="2"/><circle cx="111.6" cy="169.8" r="2"/><circle cx="149.7" cy="177.8" r="2"/><circle cx="137.3" cy="190.5" r="2"/><circle cx="157.6" cy="195.7" r="2"/><circle cx="145.4" cy="135.8" r="2"/><circle cx="100.0" cy="162.4" r="2"/><circle cx="132.5" cy="190.4" r="2"/><circle cx="145.2" cy="162.9" r="2"/><circle cx="90.7" cy="197.6" r="2"/><circle cx="115.0" cy="189.9" r="2"/><circle cx="117.0" cy="171.2" r="2"/><circle cx="154.2" cy="180.9" r="2"/><circle cx="119.3" cy="191.8" r="2"/><circle cx="152.0" cy="170.5" r="2"/><circle cx="141.5" cy="184.7" r="2"/><circle cx="130.2" cy="182.7" r="2"/><circle cx="120.5" cy="154.2" r="2"/><circle cx="121.9" cy="158.1" r="2"/><circle cx="136.3" cy="193.7" r="2"/><circle cx="114.5" cy="187.6" r="2"/><circle cx="90.0" cy="186.4" r="2"/><circle cx="136.8" cy="191.5" r="2"/><circle cx="133.1" cy="163.0" r="2"/><circle cx="134.0" cy="171.2" r="2"/><circle cx="82.4" cy="190.9" r="2"/><circle cx="139.4" cy="160.0" r="2"/><circle cx="82.8" cy="192.5" r="2"/><circle cx="135.4" cy="185.7" r="2"/><circle cx="119.6" cy="119.9" r="2"/><circle cx="114.4" cy="168.5" r="2"/><circle cx="116.7" cy="172.2" r="2"/><circle cx="89.5" cy="191.2" r="2"/><circle cx="117.2" cy="190.0" r="2"/><circle cx="117.5" cy="180.1" r="2"/><circle cx="109.8" cy="180.9" r="2"/><circle cx="164.9" cy="193.5" r="2"/><circle cx="75.6" cy="198.6" r="2"/><circle cx="132.2" cy="164.6" r="2"/><circle cx="133.7" cy="145.6" r="2"/><circle cx="131.5" cy="192.9" r="2"/><circle cx="117.4" cy="108.4" r="2"/><circle cx="141.7" cy="193.8" r="2"/><circle cx="119.0" cy="175.6" r="2"/><circle cx="193.6" cy="192.7" r="2"/><circle cx="119.5" cy="197.0" r="2"/><circle cx="122.7" cy="132.0" r="2"/><circle cx="109.2" cy="168.2" r="2"/><circle cx="156.3" cy="190.9" r="2"/><circle cx="204.7" cy="186.4" r="2"/><circle cx="116.6" cy="179.9" r="2"/><circle cx="130.3" cy="145.9" r="2"/><circle cx="177.5" cy="187.5" r="2"/><circle cx="150.9" cy="194.0" r="2"/><circle cx="165.8" cy="195.9" r="2"/><circle cx="133.9" cy="195.5" r="2"/><circle cx="202.3" cy="198.4" r="2"/><circle cx="141.8" cy="196.9" r="2"/><circle cx="121.4" cy="172.2" r="2"/><circle cx="102.4" cy="174.0" r="2"/><circle cx="117.4" cy="171.8" r="2"/><circle cx="108.3" cy="199.2" r="2"/><circle cx="114.8" cy="184.1" r="2"/><circle cx="144.5" cy="181.0" r="2"/><circle cx="116.6" cy="154.1" r="2"/><circle cx="166.6" cy="166.4" r="2"/><circle cx="115.4" cy="198.8" r="2"/><circle cx="103.6" cy="190.2" r="2"/><circle cx="109.1" cy="166.8" r="2"/><circle cx="134.5" cy="149.7" r="2"/><circle cx="151.3" cy="194.6" r="2"/><circle cx="105.8" cy="186.8" r="2"/><circle cx="116.9" cy="150.7" r="2"/><circle cx="140.6" cy="190.7" r="2"/><circle cx="169.0" cy="187.9" r="2"/><circle cx="123.3" cy="154.1" r="2"/><circle cx="130.9" cy="184.2" r="2"/><circle cx="92.5" cy="179.0" r="2"/><circle cx="119.5" cy="176.8" r="2"/><circle cx="130.3" cy="190.5" r="2"/><circle cx="117.7" cy="190.0" r="2"/><circle cx="136.8" cy="193.4" r="2"/><circle cx="102.9" cy="183.2" r="2"/><circle cx="118.4" cy="143.8" r="2"/><circle cx="122.8" cy="164.5" r="2"/><circle cx="115.8" cy="179.0" r="2"/><circle cx="148.7" cy="195.9" r="2"/><circle cx="134.1" cy="169.2" r="2"/><circle cx="123.1" cy="136.0" r="2"/><circle cx="137.2" cy="188.2" r="2"/><circle cx="157.0" cy="190.1" r="2"/><circle cx="120.5" cy="169.1" r="2"/><circle cx="120.9" cy="162.3" r="2"/><circle cx="132.6" cy="183.5" r="2"/><circle cx="122.6" cy="196.2" r="2"/><circle cx="122.2" cy="147.5" r="2"/><circle cx="130.9" cy="177.4" r="2"/><circle cx="185.7" cy="200.1" r="2"/><circle cx="122.5" cy="113.0" r="2"/><circle cx="151.0" cy="152.2" r="2"/><circle cx="132.6" cy="189.2" r="2"/><circle cx="63.3" cy="198.8" r="2"/><circle cx="136.2" cy="168.7" r="2"/><circle cx="117.3" cy="156.2" r="2"/><circle cx="115.0" cy="180.9" r="2"/><circle cx="111.8" cy="176.6" r="2"/><circle cx="155.8" cy="170.4" r="2"/><circle cx="114.3" cy="200.2" r="2"/><circle cx="114.7" cy="193.2" r="2"/><circle cx="99.4" cy="189.9" r="2"/><circle cx="100.3" cy="149.4" r="2"/><circle cx="119.7" cy="143.7" r="2"/><circle cx="56.1" cy="199.6" r="2"/><circle cx="122.6" cy="123.2" r="2"/><circle cx="137.0" cy="164.6" r="2"/><circle cx="114.8" cy="157.7" r="2"/><circle cx="135.4" cy="173.1" r="2"/><circle cx="105.0" cy="192.4" r="2"/><circle cx="68.3" cy="174.6" r="2"/><circle cx="96.7" cy="181.6" r="2"/><circle cx="135.3" cy="172.1" r="2"/><circle cx="84.8" cy="199.9" r="2"/><circle cx="151.1" cy="180.9" r="2"/><circle cx="140.0" cy="191.1" r="2"/><circle cx="159.0" cy="172.8" r="2"/><circle cx="111.4" cy="174.3" r="2"/><circle cx="116.2" cy="152.1" r="2"/><circle cx="113.7" cy="197.2" r="2"/><circle cx="136.4" cy="190.8" r="2"/><circle cx="133.6" cy="163.2" r="2"/><circle cx="119.8" cy="159.1" r="2"/><circle cx="111.7" cy="146.0" r="2"/><circle cx="141.3" cy="165.9" r="2"/><circle cx="122.8" cy="158.9" r="2"/><circle cx="133.9" cy="189.9" r="2"/><circle cx="132.9" cy="174.5" r="2"/><circle cx="121.6" cy="190.6" r="2"/><circle cx="104.3" cy="199.2" r="2"/><circle cx="142.5" cy="156.3" r="2"/><circle cx="136.1" cy="161.2" r="2"/><circle cx="138.5" cy="176.6" r="2"/><circle cx="142.6" cy="178.1" r="2"/><circle cx="149.3" cy="198.6" r="2"/><circle cx="116.1" cy="164.8" r="2"/><circle cx="137.7" cy="149.6" r="2"/><circle cx="142.1" cy="180.4" r="2"/><circle cx="99.8" cy="129.9" r="2"/><circle cx="134.0" cy="187.5" r="2"/><circle cx="120.5" cy="187.0" r="2"/><circle cx="122.4" cy="148.5" r="2"/><circle cx="132.4" cy="152.2" r="2"/><circle cx="101.2" cy="192.6" r="2"/><circle cx="121.6" cy="171.7" r="2"/><circle cx="140.6" cy="184.6" r="2"/><circle cx="119.4" cy="178.9" r="2"/><circle cx="121.1" cy="109.9" r="2"/><circle cx="121.1" cy="128.3" r="2"/><circle cx="113.9" cy="170.3" r="2"/><circle cx="142.4" cy="180.1" r="2"/><circle cx="63.7" cy="195.7" r="2"/><circle cx="109.6" cy="123.5" r="2"/><circle cx="103.9" cy="186.5" r="2"/><circle cx="131.0" cy="195.2" r="2"/><circle cx="102.6" cy="192.7" r="2"/><circle cx="83.3" cy="192.2" r="2"/><circle cx="146.4" cy="195.7" r="2"/><circle cx="111.5" cy="200.7" r="2"/><circle cx="115.1" cy="161.6" r="2"/><circle cx="152.9" cy="196.0" r="2"/><circle cx="132.2" cy="172.2" r="2"/><circle cx="116.8" cy="192.6" r="2"/><circle cx="162.0" cy="164.8" r="2"/><circle cx="122.0" cy="174.2" r="2"/><circle cx="148.7" cy="195.8" r="2"/><circle cx="137.4" cy="143.6" r="2"/><circle cx="119.4" cy="190.8" r="2"/><circle cx="135.6" cy="165.8" r="2"/><circle cx="172.5" cy="191.2" r="2"/><circle cx="140.4" cy="199.9" r="2"/><circle cx="121.9" cy="126.9" r="2"/><circle cx="135.9" cy="184.6" r="2"/><circle cx="121.0" cy="170.9" r="2"/><circle cx="152.8" cy="154.1" r="2"/><circle cx="95.5" cy="180.8" r="2"/><circle cx="130.8" cy="126.9" r="2"/><circle cx="138.5" cy="140.8" r="2"/><circle cx="117.8" cy="170.8" r="2"/><circle cx="137.7" cy="194.5" r="2"/><circle cx="47.7" cy="199.8" r="2"/><circle cx="142.2" cy="189.8" r="2"/><circle cx="105.1" cy="179.1" r="2"/><circle cx="123.2" cy="121.9" r="2"/><circle cx="154.5" cy="166.0" r="2"/><circle cx="107.4" cy="181.4" r="2"/><circle cx="110.6" cy="197.0" r="2"/><circle cx="120.1" cy="168.1" r="2"/><circle cx="105.4" cy="189.7" r="2"/><circle cx="134.5" cy="138.8" r="2"/><circle cx="131.2" cy="137.6" r="2"/><circle cx="114.2" cy="143.7" r="2"/><circle cx="148.0" cy="192.7" r="2"/><circle cx="121.7" cy="199.7" r="2"/><circle cx="146.8" cy="183.8" r="2"/><circle cx="118.2" cy="158.3" r="2"/><circle cx="136.2" cy="200.6" r="2"/><circle cx="119.0" cy="199.2" r="2"/><circle cx="157.9" cy="174.4" r="2"/><circle cx="122.4" cy="182.1" r="2"/><circle cx="121.6" cy="182.0" r="2"/><circle cx="48.4" cy="192.2" r="2"/><circle cx="122.2" cy="135.7" r="2"/><circle cx="216.5" cy="199.0" r="2"/><circle cx="136.9" cy="180.9" r="2"/><circle cx="132.5" cy="146.3" r="2"/><circle cx="118.4" cy="155.0" r="2"/><circle cx="117.5" cy="131.6" r="2"/><circle cx="102.4" cy="194.0" r="2"/><circle cx="130.0" cy="175.1" r="2"/><circle cx="121.7" cy="159.5" r="2"/><circle cx="113.1" cy="143.9" r="2"/><circle cx="108.8" cy="174.3" r="2"/><circle cx="122.3" cy="109.2" r="2"/><circle cx="132.0" cy="173.5" r="2"/><circle cx="117.2" cy="179.2" r="2"/><circle cx="112.3" cy="178.4" r="2"/><circle cx="137.3" cy="124.3" r="2"/><circle cx="117.3" cy="184.0" r="2"/><circle cx="132.9" cy="168.3" r="2"/><circle cx="131.6" cy="123.5" r="2"/><circle cx="102.7" cy="180.8" r="2"/><circle cx="142.5" cy="198.7" r="2"/><circle cx="182.2" cy="194.1" r="2"/><circle cx="136.8" cy="174.8" r="2"/><circle cx="135.3" cy="181.7" r="2"/><circle cx="118.9" cy="186.4" r="2"/><circle cx="117.4" cy="186.0" r="2"/><circle cx="133.9" cy="161.4" r="2"/><circle cx="120.5" cy="183.9" r="2"/><circle cx="138.7" cy="169.8" r="2"/><circle cx="112.3" cy="198.7" r="2"/><circle cx="133.3" cy="158.6" r="2"/><circle cx="142.0" cy="150.0" r="2"/><circle cx="143.4" cy="174.4" r="2"/><circle cx="108.8" cy="157.6" r="2"/><circle cx="155.8" cy="132.6" r="2"/><circle cx="151.2" cy="199.2" r="2"/><circle cx="130.5" cy="186.6" r="2"/><circle cx="100.1" cy="194.3" r="2"/><circle cx="91.2" cy="180.1" r="2"/><circle cx="130.2" cy="169.9" r="2"/><circle cx="140.2" cy="168.6" r="2"/><circle cx="103.4" cy="179.3" r="2"/><circle cx="105.3" cy="180.0" r="2"/><circle cx="120.8" cy="138.7" r="2"/><circle cx="138.4" cy="174.9" r="2"/><circle cx="130.2" cy="151.3" r="2"/><circle cx="113.0" cy="192.2" r="2"/><circle cx="119.6" cy="181.5" r="2"/><circle cx="132.6" cy="127.9" r="2"/><circle cx="113.9" cy="196.7" r="2"/><circle cx="122.6" cy="115.8" r="2"/><circle cx="92.3" cy="188.8" r="2"/><circle cx="130.8" cy="175.4" r="2"/><circle cx="106.0" cy="193.5" r="2"/><circle cx="150.2" cy="166.9" r="2"/><circle cx="104.6" cy="191.6" r="2"/><circle cx="130.7" cy="143.5" r="2"/><circle cx="123.0" cy="181.2" r="2"/><circle cx="82.6" cy="157.7" r="2"/><circle cx="120.9" cy="186.7" r="2"/><circle cx="130.9" cy="189.8" r="2"/><circle cx="116.1" cy="189.2" r="2"/><circle cx="131.0" cy="194.6" r="2"/><circle cx="113.1" cy="186.5" r="2"/><circle cx="118.8" cy="184.9" r="2"/><circle cx="133.2" cy="187.6" r="2"/><circle cx="119.1" cy="176.9" r="2"/><circle cx="137.6" cy="186.6" r="2"/><circle cx="144.0" cy="195.0" r="2"/><circle cx="155.6" cy="171.9" r="2"/><circle cx="118.5" cy="171.6" r="2"/><circle cx="142.9" cy="179.9" r="2"/><circle cx="103.5" cy="190.4" r="2"/><circle cx="130.9" cy="191.4" r="2"/><circle cx="121.7" cy="144.3" r="2"/><circle cx="83.3" cy="197.2" r="2"/><circle cx="132.5" cy="166.1" r="2"/><circle cx="103.5" cy="200.5" r="2"/><circle cx="122.3" cy="151.1" r="2"/><circle cx="108.6" cy="192.6" r="2"/><circle cx="131.1" cy="156.4" r="2"/><circle cx="130.9" cy="104.7" r="2"/><circle cx="144.7" cy="137.5" r="2"/><circle cx="161.6" cy="184.6" r="2"/><circle cx="116.0" cy="156.0" r="2"/><circle cx="133.9" cy="186.1" r="2"/><circle cx="111.9" cy="190.2" r="2"/><circle cx="169.4" cy="191.6" r="2"/><circle cx="120.1" cy="138.1" r="2"/><circle cx="108.9" cy="193.3" r="2"/><circle cx="113.3" cy="198.4" r="2"/><circle cx="122.1" cy="156.4" r="2"/><circle cx="118.8" cy="155.5" r="2"/><circle cx="131.9" cy="136.9" r="2"/><circle cx="110.7" cy="178.9" r="2"/><circle cx="143.7" cy="194.5" r="2"/><circle cx="216.1" cy="192.3" r="2"/><circle cx="133.9" cy="198.2" r="2"/><circle cx="142.9" cy="195.2" r="2"/><circle cx="131.9" cy="159.7" r="2"/><circle cx="104.0" cy="190.6" r="2"/><circle cx="118.4" cy="174.2" r="2"/><circle cx="97.2" cy="169.4" r="2"/><circle cx="140.4" cy="179.0" r="2"/><circle cx="150.8" cy="174.5" r="2"/><circle cx="112.0" cy="196.6" r="2"/><circle cx="134.4" cy="109.4" r="2"/><circle cx="139.4" cy="155.7" r="2"/><circle cx="131.9" cy="188.7" r="2"/><circle cx="123.1" cy="180.4" r="2"/><circle cx="118.0" cy="178.3" r="2"/><circle cx="161.1" cy="190.2" r="2"/><circle cx="130.2" cy="199.2" r="2"/><circle cx="108.9" cy="188.1" r="2"/><circle cx="130.2" cy="192.9" r="2"/><circle cx="113.0" cy="185.7" r="2"/><circle cx="122.6" cy="154.0" r="2"/><circle cx="142.9" cy="176.5" r="2"/><circle cx="106.4" cy="184.8" r="2"/><circle cx="107.8" cy="186.9" r="2"/><circle cx="134.0" cy="180.4" r="2"/><circle cx="107.6" cy="198.1" r="2"/><circle cx="132.5" cy="171.4" r="2"/><circle cx="121.2" cy="95.2" r="2"/><circle cx="123.3" cy="129.4" r="2"/><circle cx="174.8" cy="166.2" r="2"/><circle cx="117.9" cy="183.3" r="2"/><circle cx="108.0" cy="191.5" r="2"/><circle cx="122.3" cy="174.3" r="2"/><circle cx="103.9" cy="191.3" r="2"/><circle cx="107.9" cy="155.8" r="2"/><circle cx="133.9" cy="198.4" r="2"/><circle cx="138.2" cy="179.5" r="2"/><circle cx="149.6" cy="189.4" r="2"/><circle cx="174.2" cy="185.5" r="2"/><circle cx="105.8" cy="200.4" r="2"/><circle cx="147.4" cy="189.2" r="2"/><circle cx="132.9" cy="190.9" r="2"/><circle cx="149.8" cy="194.5" r="2"/><circle cx="147.4" cy="162.2" r="2"/><circle cx="119.6" cy="167.0" r="2"/><circle cx="133.1" cy="165.8" r="2"/><circle cx="141.6" cy="190.0" r="2"/><circle cx="110.7" cy="181.8" r="2"/><circle cx="107.8" cy="195.1" r="2"/><circle cx="122.4" cy="181.3" r="2"/><circle cx="120.1" cy="162.9" r="2"/><circle cx="136.8" cy="165.9" r="2"/><circle cx="118.6" cy="152.4" r="2"/><circle cx="165.4" cy="196.5" r="2"/><circle cx="137.6" cy="162.7" r="2"/><circle cx="135.0" cy="167.1" r="2"/><circle cx="132.1" cy="163.4" r="2"/><circle cx="104.7" cy="199.9" r="2"/><circle cx="122.1" cy="156.8" r="2"/><circle cx="116.8" cy="191.1" r="2"/><circle cx="138.7" cy="189.5" r="2"/><circle cx="113.2" cy="199.5" r="2"/><circle cx="119.4" cy="182.5" r="2"/><circle cx="122.9" cy="152.6" r="2"/><circle cx="149.5" cy="174.2" r="2"/><circle cx="92.3" cy="177.9" r="2"/><circle cx="136.2" cy="166.4" r="2"/><circle cx="143.0" cy="182.3" r="2"/><circle cx="96.8" cy="189.4" r="2"/><circle cx="138.8" cy="195.0" r="2"/><circle cx="138.5" cy="173.9" r="2"/><circle cx="117.7" cy="195.5" r="2"/><circle cx="140.2" cy="177.7" r="2"/><circle cx="113.8" cy="195.7" r="2"/><circle cx="181.9" cy="199.4" r="2"/><circle cx="100.0" cy="177.9" r="2"/><circle cx="112.1" cy="194.3" r="2"/><circle cx="164.9" cy="193.1" r="2"/><circle cx="74.7" cy="192.7" r="2"/><circle cx="108.1" cy="187.7" r="2"/><circle cx="150.7" cy="192.5" r="2"/><circle cx="142.5" cy="169.3" r="2"/><circle cx="120.0" cy="198.0" r="2"/><circle cx="132.3" cy="179.6" r="2"/><circle cx="117.7" cy="192.1" r="2"/><circle cx="130.3" cy="109.3" r="2"/><circle cx="138.1" cy="196.3" r="2"/><circle cx="146.2" cy="155.3" r="2"/><circle cx="116.0" cy="185.1" r="2"/><circle cx="143.1" cy="193.2" r="2"/><circle cx="131.0" cy="176.0" r="2"/><circle cx="119.5" cy="198.1" r="2"/><circle cx="161.7" cy="199.9" r="2"/><circle cx="121.3" cy="181.1" r="2"/><circle cx="133.4" cy="176.4" r="2"/><circle cx="119.8" cy="198.3" r="2"/><circle cx="121.1" cy="194.6" r="2"/><circle cx="144.1" cy="152.1" r="2"/><circle cx="135.3" cy="173.5" r="2"/><circle cx="139.8" cy="187.9" r="2"/><circle cx="147.4" cy="191.2" r="2"/><circle cx="165.9" cy="199.0" r="2"/><circle cx="168.7" cy="174.9" r="2"/><circle cx="123.3" cy="176.5" r="2"/><circle cx="120.2" cy="172.2" r="2"/><circle cx="121.5" cy="162.9" r="2"/><circle cx="130.3" cy="155.4" r="2"/><circle cx="68.9" cy="196.7" r="2"/><circle cx="114.0" cy="176.3" r="2"/><circle cx="148.5" cy="180.5" r="2"/><circle cx="123.0" cy="161.5" r="2"/><circle cx="143.5" cy="189.2" r="2"/><circle cx="112.8" cy="149.3" r="2"/><circle cx="65.0" cy="191.5" r="2"/><circle cx="107.5" cy="153.0" r="2"/><circle cx="137.9" cy="170.9" r="2"/><circle cx="118.6" cy="185.0" r="2"/><circle cx="140.9" cy="161.3" r="2"/><circle cx="118.1" cy="149.3" r="2"/><circle cx="115.7" cy="172.2" r="2"/><circle cx="114.3" cy="198.3" r="2"/><circle cx="91.9" cy="199.2" r="2"/><circle cx="122.5" cy="192.2" r="2"/><circle cx="170.7" cy="192.6" r="2"/><circle cx="118.7" cy="129.2" r="2"/><circle cx="103.8" cy="141.3" r="2"/><circle cx="118.9" cy="171.2" r="2"/><circle cx="120.5" cy="193.4" r="2"/><circle cx="122.7" cy="158.5" r="2"/><circle cx="115.8" cy="153.7" r="2"/><circle cx="117.4" cy="199.5" r="2"/><circle cx="131.8" cy="181.1" r="2"/><circle cx="134.8" cy="173.6" r="2"/><circle cx="108.3" cy="189.3" r="2"/><circle cx="138.1" cy="166.8" r="2"/><circle cx="136.3" cy="140.9" r="2"/><circle cx="94.8" cy="178.0" r="2"/><circle cx="122.3" cy="183.0" r="2"/><circle cx="173.6" cy="193.6" r="2"/><circle cx="122.3" cy="186.0" r="2"/><circle cx="139.2" cy="146.4" r="2"/><circle cx="122.0" cy="126.3" r="2"/><circle cx="98.4" cy="195.3" r="2"/><circle cx="88.1" cy="199.3" r="2"/><circle cx="122.7" cy="141.6" r="2"/><circle cx="116.6" cy="171.9" r="2"/><circle cx="118.9" cy="190.1" r="2"/><circle cx="137.3" cy="171.8" r="2"/><circle cx="213.2" cy="200.7" r="2"/><circle cx="121.8" cy="175.6" r="2"/><circle cx="120.1" cy="191.7" r="2"/><circle cx="149.3" cy="197.7" r="2"/><circle cx="102.7" cy="198.3" r="2"/><circle cx="134.4" cy="153.0" r="2"/><circle cx="115.9" cy="131.9" r="2"/><circle cx="120.0" cy="165.3" r="2"/><circle cx="119.6" cy="189.3" r="2"/><circle cx="118.7" cy="159.5" r="2"/><circle cx="133.3" cy="196.8" r="2"/><circle cx="109.5" cy="154.0" r="2"/><circle cx="116.7" cy="99.8" r="2"/><circle cx="119.2" cy="161.4" r="2"/><circle cx="117.7" cy="197.0" r="2"/><circle cx="131.7" cy="168.0" r="2"/><circle cx="117.3" cy="125.8" r="2"/><circle cx="133.9" cy="167.2" r="2"/><circle cx="135.2" cy="157.7" r="2"/><circle cx="135.6" cy="169.3" r="2"/><circle cx="150.2" cy="187.7" r="2"/><circle cx="107.8" cy="189.0" r="2"/><circle cx="134.7" cy="168.6" r="2"/><circle cx="92.6" cy="196.3" r="2"/><circle cx="134.8" cy="195.0" r="2"/><circle cx="154.5" cy="191.9" r="2"/><circle cx="123.0" cy="173.7" r="2"/><circle cx="131.8" cy="142.5" r="2"/><circle cx="97.9" cy="191.6" r="2"/><circle cx="139.1" cy="123.2" r="2"/><circle cx="131.5" cy="135.9" r="2"/><circle cx="114.2" cy="190.3" r="2"/><circle cx="108.2" cy="183.6" r="2"/><circle cx="108.6" cy="173.6" r="2"/><circle cx="115.6" cy="181.9" r="2"/><circle cx="112.7" cy="157.0" r="2"/><circle cx="140.4" cy="155.8" r="2"/><circle cx="122.7" cy="185.9" r="2"/><circle cx="140.1" cy="130.8" r="2"/><circle cx="103.3" cy="181.3" r="2"/><circle cx="159.4" cy="188.1" r="2"/><circle cx="108.5" cy="173.0" r="2"/><circle cx="109.7" cy="180.1" r="2"/><circle cx="111.7" cy="156.4" r="2"/><circle cx="185.4" cy="196.6" r="2"/><circle cx="155.2" cy="168.2" r="2"/><circle cx="155.9" cy="183.9" r="2"/><circle cx="84.6" cy="184.3" r="2"/><circle cx="101.0" cy="176.1" r="2"/><circle cx="105.0" cy="181.0" r="2"/><circle cx="130.8" cy="199.5" r="2"/><circle cx="135.0" cy="128.5" r="2"/><circle cx="186.9" cy="182.1" r="2"/><circle cx="143.7" cy="173.5" r="2"/><circle cx="155.4" cy="186.8" r="2"/><circle cx="150.9" cy="190.4" r="2"/><circle cx="100.0" cy="192.4" r="2"/><circle cx="115.3" cy="178.0" r="2"/><circle cx="118.4" cy="133.8" r="2"/><circle cx="122.9" cy="161.5" r="2"/><circle cx="156.7" cy="190.1" r="2"/><circle cx="85.9" cy="189.0" r="2"/><circle cx="109.5" cy="192.5" r="2"/><circle cx="117.7" cy="123.3" r="2"/><circle cx="146.4" cy="191.7" r="2"/><circle cx="110.3" cy="137.3" r="2"/><circle cx="130.0" cy="145.7" r="2"/><circle cx="96.6" cy="188.6" r="2"/><circle cx="132.7" cy="176.9" r="2"/><circle cx="139.8" cy="146.4" r="2"/><circle cx="130.9" cy="170.1" r="2"/><circle cx="111.5" cy="198.5" r="2"/><circle cx="110.3" cy="184.0" r="2"/><circle cx="174.0" cy="198.7" r="2"/><circle cx="123.0" cy="186.0" r="2"/><circle cx="117.3" cy="148.0" r="2"/><circle cx="136.2" cy="200.5" r="2"/><circle cx="118.6" cy="143.3" r="2"/><circle cx="112.7" cy="196.8" r="2"/><circle cx="135.9" cy="198.6" r="2"/><circle cx="77.3" cy="193.2" r="2"/><circle cx="121.0" cy="191.4" r="2"/><circle cx="100.7" cy="198.0" r="2"/><circle cx="121.3" cy="188.6" r="2"/><circle cx="108.9" cy="194.7" r="2"/><circle cx="118.9" cy="187.0" r="2"/><circle cx="121.0" cy="139.2" r="2"/><circle cx="130.8" cy="149.3" r="2"/><circle cx="122.3" cy="162.9" r="2"/><circle cx="122.8" cy="170.0" r="2"/><circle cx="146.2" cy="159.2" r="2"/><circle cx="122.1" cy="164.8" r="2"/><circle cx="120.5" cy="152.8" r="2"/><circle cx="123.2" cy="122.2" r="2"/><circle cx="121.9" cy="149.4" r="2"/><circle cx="123.3" cy="181.1" r="2"/><circle cx="171.9" cy="191.1" r="2"/><circle cx="118.4" cy="193.8" r="2"/><circle cx="133.4" cy="146.4" r="2"/><circle cx="132.8" cy="200.7" r="2"/><circle cx="131.1" cy="150.8" r="2"/><circle cx="101.3" cy="197.8" r="2"/><circle cx="119.4" cy="192.4" r="2"/><circle cx="117.0" cy="178.6" r="2"/><circle cx="131.0" cy="156.5" r="2"/><circle cx="115.9" cy="146.2" r="2"/><circle cx="116.0" cy="183.8" r="2"/><circle cx="148.7" cy="189.9" r="2"/><circle cx="117.9" cy="141.4" r="2"/><circle cx="109.4" cy="193.3" r="2"/><circle cx="110.7" cy="195.2" r="2"/><circle cx="136.3" cy="191.4" r="2"/><circle cx="116.4" cy="160.5" r="2"/><circle cx="122.2" cy="189.4" r="2"/><circle cx="134.0" cy="149.8" r="2"/><circle cx="114.9" cy="196.7" r="2"/><circle cx="136.9" cy="187.9" r="2"/><circle cx="120.8" cy="174.0" r="2"/><circle cx="117.1" cy="150.0" r="2"/><circle cx="118.0" cy="163.0" r="2"/><circle cx="116.2" cy="177.8" r="2"/><circle cx="93.7" cy="191.7" r="2"/><circle cx="120.6" cy="196.6" r="2"/><circle cx="151.8" cy="195.8" r="2"/><circle cx="116.9" cy="195.1" r="2"/><circle cx="111.3" cy="185.0" r="2"/><circle cx="96.9" cy="188.9" r="2"/><circle cx="123.0" cy="195.2" r="2"/><circle cx="112.0" cy="200.2" r="2"/><circle cx="133.5" cy="172.8" r="2"/><circle cx="103.8" cy="200.3" r="2"/><circle cx="131.6" cy="102.7" r="2"/><circle cx="150.0" cy="173.3" r="2"/><circle cx="131.7" cy="103.1" r="2"/><circle cx="134.8" cy="199.3" r="2"/><circle cx="133.9" cy="173.2" r="2"/><circle cx="144.0" cy="198.1" r="2"/><circle cx="105.6" cy="149.4" r="2"/><circle cx="112.5" cy="196.8" r="2"/><circle cx="139.6" cy="177.7" r="2"/><circle cx="100.8" cy="168.1" r="2"/><circle cx="133.4" cy="184.9" r="2"/><circle cx="144.4" cy="189.1" r="2"/><circle cx="157.3" cy="186.7" r="2"/><circle cx="131.5" cy="194.4" r="2"/><circle cx="133.3" cy="174.9" r="2"/><circle cx="117.4" cy="198.7" r="2"/><circle cx="122.9" cy="153.5" r="2"/><circle cx="147.4" cy="191.0" r="2"/><circle cx="136.3" cy="199.2" r="2"/><circle cx="194.9" cy="183.3" r="2"/><circle cx="131.5" cy="176.1" r="2"/><circle cx="119.5" cy="193.5" r="2"/><circle cx="133.3" cy="192.5" r="2"/><circle cx="134.7" cy="178.6" r="2"/><circle cx="97.6" cy="181.0" r="2"/><circle cx="113.3" cy="146.4" r="2"/><circle cx="121.2" cy="181.0" r="2"/><circle cx="142.8" cy="179.1" r="2"/><circle cx="118.7" cy="180.6" r="2"/><circle cx="133.6" cy="196.2" r="2"/><circle cx="115.3" cy="195.8" r="2"/><circle cx="135.5" cy="179.5" r="2"/><circle cx="121.3" cy="170.2" r="2"/><circle cx="136.4" cy="147.2" r="2"/><circle cx="123.1" cy="186.7" r="2"/><circle cx="114.8" cy="160.0" r="2"/><circle cx="120.2" cy="107.0" r="2"/><circle cx="100.7" cy="198.0" r="2"/><circle cx="131.7" cy="144.0" r="2"/><circle cx="88.5" cy="158.5" r="2"/><circle cx="161.7" cy="197.7" r="2"/><circle cx="143.9" cy="188.9" r="2"/><circle cx="119.2" cy="124.4" r="2"/><circle cx="123.3" cy="132.3" r="2"/><circle cx="130.8" cy="108.0" r="2"/><circle cx="192.3" cy="192.5" r="2"/><circle cx="121.6" cy="149.0" r="2"/><circle cx="120.0" cy="179.1" r="2"/><circle cx="119.5" cy="161.9" r="2"/><circle cx="113.6" cy="188.5" r="2"/><circle cx="108.0" cy="194.6" r="2"/><circle cx="122.8" cy="156.9" r="2"/><circle cx="141.6" cy="174.4" r="2"/><circle cx="100.2" cy="187.4" r="2"/><circle cx="121.2" cy="176.8" r="2"/><circle cx="144.3" cy="180.0" r="2"/><circle cx="111.2" cy="186.0" r="2"/><circle cx="132.9" cy="151.7" r="2"/><circle cx="114.3" cy="192.7" r="2"/><circle cx="138.2" cy="140.0" r="2"/><circle cx="118.6" cy="191.1" r="2"/><circle cx="105.4" cy="198.1" r="2"/><circle cx="114.3" cy="196.6" r="2"/><circle cx="83.2" cy="200.6" r="2"/><circle cx="97.4" cy="200.5" r="2"/><circle cx="113.9" cy="146.8" r="2"/><circle cx="135.9" cy="182.5" r="2"/><circle cx="130.9" cy="149.1" r="2"/><circle cx="121.1" cy="176.2" r="2"/><circle cx="97.3" cy="183.2" r="2"/><circle cx="104.1" cy="159.3" r="2"/><circle cx="110.9" cy="190.5" r="2"/><circle cx="133.3" cy="134.6" r="2"/><circle cx="155.7" cy="199.2" r="2"/><circle cx="114.1" cy="164.9" r="2"/><circle cx="95.8" cy="188.2" r="2"/><circle cx="130.6" cy="182.3" r="2"/><circle cx="109.5" cy="200.7" r="2"/><circle cx="115.4" cy="185.5" r="2"/><circle cx="146.8" cy="175.2" r="2"/><circle cx="139.9" cy="188.5" r="2"/><circle cx="118.8" cy="193.3" r="2"/><circle cx="121.0" cy="128.5" r="2"/><circle cx="132.1" cy="142.9" r="2"/><circle cx="121.6" cy="178.6" r="2"/><circle cx="151.6" cy="187.3" r="2"/><circle cx="107.4" cy="191.1" r="2"/><circle cx="134.6" cy="183.6" r="2"/><circle cx="131.8" cy="169.5" r="2"/><circle cx="112.8" cy="196.8" r="2"/><circle cx="107.8" cy="178.0" r="2"/><circle cx="135.6" cy="194.1" r="2"/><circle cx="91.2" cy="199.4" r="2"/><circle cx="65.8" cy="198.3" r="2"/><circle cx="140.7" cy="192.2" r="2"/><circle cx="112.7" cy="192.4" r="2"/><circle cx="118.4" cy="183.8" r="2"/><circle cx="117.3" cy="193.2" r="2"/><circle cx="118.5" cy="182.1" r="2"/><circle cx="136.3" cy="145.6" r="2"/><circle cx="132.1" cy="145.3" r="2"/><circle cx="122.9" cy="150.6" r="2"/><circle cx="131.6" cy="177.1" r="2"/><circle cx="131.0" cy="152.3" r="2"/><circle cx="96.1" cy="177.8" r="2"/><circle cx="131.3" cy="186.3" r="2"/><circle cx="73.8" cy="194.5" r="2"/><circle cx="113.7" cy="197.6" r="2"/><circle cx="122.8" cy="183.8" r="2"/><circle cx="116.6" cy="180.7" r="2"/><circle cx="117.1" cy="119.7" r="2"/><circle cx="119.7" cy="183.1" r="2"/><circle cx="132.5" cy="177.7" r="2"/><circle cx="145.8" cy="177.4" r="2"/><circle cx="133.7" cy="143.7" r="2"/><circle cx="120.3" cy="169.6" r="2"/><circle cx="148.8" cy="193.1" r="2"/><circle cx="115.4" cy="173.5" r="2"/><circle cx="119.8" cy="191.6" r="2"/><circle cx="122.7" cy="191.5" r="2"/><circle cx="146.3" cy="191.6" r="2"/><circle cx="122.5" cy="189.7" r="2"/><circle cx="145.4" cy="196.0" r="2"/><circle cx="119.4" cy="117.3" r="2"/><circle cx="123.0" cy="106.7" r="2"/><circle cx="138.1" cy="171.8" r="2"/><circle cx="122.4" cy="200.3" r="2"/><circle cx="163.2" cy="192.9" r="2"/><circle cx="109.0" cy="186.0" r="2"/><circle cx="140.7" cy="182.5" r="2"/><circle cx="145.9" cy="193.2" r="2"/><circle cx="89.8" cy="188.8" r="2"/><circle cx="132.5" cy="178.0" r="2"/><circle cx="164.4" cy="200.6" r="2"/><circle cx="123.3" cy="176.2" r="2"/><circle cx="122.4" cy="194.9" r="2"/><circle cx="112.9" cy="105.5" r="2"/><circle cx="121.9" cy="159.0" r="2"/><circle cx="88.3" cy="180.7" r="2"/><circle cx="145.4" cy="184.5" r="2"/><circle cx="96.6" cy="190.9" r="2"/><circle cx="90.7" cy="187.9" r="2"/><circle cx="149.2" cy="187.6" r="2"/><circle cx="106.5" cy="185.8" r="2"/><circle cx="121.4" cy="164.0" r="2"/><circle cx="130.6" cy="158.9" r="2"/><circle cx="145.8" cy="198.4" r="2"/><circle cx="132.3" cy="173.9" r="2"/><circle cx="118.2" cy="156.4" r="2"/><circle cx="133.6" cy="191.0" r="2"/><circle cx="165.0" cy="187.0" r="2"/><circle cx="170.4" cy="192.3" r="2"/><circle cx="117.3" cy="183.2" r="2"/><circle cx="146.4" cy="184.3" r="2"/><circle cx="132.0" cy="167.7" r="2"/><circle cx="111.1" cy="193.1" r="2"/><circle cx="149.3" cy="160.4" r="2"/><circle cx="104.2" cy="175.1" r="2"/><circle cx="94.4" cy="187.3" r="2"/><circle cx="131.1" cy="116.3" r="2"/><circle cx="121.0" cy="189.8" r="2"/><circle cx="179.8" cy="191.4" r="2"/><circle cx="149.4" cy="182.5" r="2"/><circle cx="121.3" cy="195.2" r="2"/><circle cx="117.3" cy="188.7" r="2"/><circle cx="131.8" cy="185.7" r="2"/><circle cx="131.7" cy="199.7" r="2"/><circle cx="160.1" cy="176.4" r="2"/><circle cx="110.4" cy="199.8" r="2"/><circle cx="114.4" cy="162.9" r="2"/><circle cx="132.4" cy="194.1" r="2"/><circle cx="121.5" cy="195.2" r="2"/><circle cx="166.0" cy="188.7" r="2"/><circle cx="138.0" cy="173.1" r="2"/><circle cx="148.1" cy="145.9" r="2"/><circle cx="143.6" cy="176.9" r="2"/><circle cx="134.0" cy="189.3" r="2"/><circle cx="132.2" cy="174.2" r="2"/><circle cx="119.6" cy="146.3" r="2"/><circle cx="143.8" cy="179.5" r="2"/><circle cx="92.8" cy="194.1" r="2"/><circle cx="159.9" cy="184.1" r="2"/><circle cx="122.3" cy="147.1" r="2"/><circle cx="110.7" cy="180.5" r="2"/><circle cx="131.2" cy="159.5" r="2"/><circle cx="110.9" cy="146.1" r="2"/><circle cx="120.8" cy="184.6" r="2"/><circle cx="148.7" cy="128.5" r="2"/><circle cx="138.1" cy="195.3" r="2"/><circle cx="111.0" cy="165.0" r="2"/><circle cx="143.0" cy="177.2" r="2"/><circle cx="121.2" cy="173.1" r="2"/><circle cx="115.7" cy="170.7" r="2"/><circle cx="106.5" cy="188.3" r="2"/><circle cx="120.2" cy="179.0" r="2"/><circle cx="96.1" cy="187.4" r="2"/><circle cx="130.7" cy="197.9" r="2"/><circle cx="145.5" cy="197.4" r="2"/><circle cx="133.8" cy="184.1" r="2"/><circle cx="138.3" cy="197.1" r="2"/><circle cx="148.2" cy="179.9" r="2"/><circle cx="122.9" cy="188.3" r="2"/><circle cx="106.9" cy="197.9" r="2"/><circle cx="111.7" cy="195.6" r="2"/><circle cx="120.3" cy="192.1" r="2"/><circle cx="120.3" cy="170.1" r="2"/><circle cx="132.6" cy="181.1" r="2"/><circle cx="131.4" cy="189.2" r="2"/><circle cx="119.6" cy="164.4" r="2"/><circle cx="114.3" cy="163.3" r="2"/><circle cx="156.4" cy="180.3" r="2"/><circle cx="131.4" cy="198.7" r="2"/><circle cx="134.4" cy="198.0" r="2"/><circle cx="134.0" cy="183.9" r="2"/><circle cx="188.5" cy="193.6" r="2"/><circle cx="132.4" cy="195.6" r="2"/><circle cx="130.2" cy="185.7" r="2"/><circle cx="119.3" cy="170.2" r="2"/><circle cx="135.5" cy="152.9" r="2"/><circle cx="88.7" cy="190.1" r="2"/><circle cx="137.9" cy="142.0" r="2"/><circle cx="131.6" cy="177.0" r="2"/><circle cx="148.6" cy="191.3" r="2"/><circle cx="144.1" cy="194.1" r="2"/><circle cx="152.3" cy="181.0" r="2"/><circle cx="105.4" cy="200.3" r="2"/><circle cx="149.8" cy="194.3" r="2"/><circle cx="133.4" cy="144.3" r="2"/><circle cx="146.6" cy="185.6" r="2"/><circle cx="106.8" cy="160.8" r="2"/><circle cx="122.7" cy="98.8" r="2"/><circle cx="156.7" cy="198.3" r="2"/><circle cx="73.5" cy="200.7" r="2"/><circle cx="121.3" cy="198.4" r="2"/><circle cx="119.4" cy="194.0" r="2"/><circle cx="122.3" cy="186.1" r="2"/><circle cx="121.0" cy="180.7" r="2"/><circle cx="113.6" cy="169.1" r="2"/><circle cx="72.4" cy="195.8" r="2"/><circle cx="133.8" cy="116.7" r="2"/><circle cx="138.7" cy="193.7" r="2"/><circle cx="137.6" cy="162.8" r="2"/><circle cx="115.9" cy="192.8" r="2"/><circle cx="138.6" cy="187.4" r="2"/><circle cx="120.1" cy="182.2" r="2"/><circle cx="122.6" cy="191.2" r="2"/><circle cx="133.6" cy="135.2" r="2"/><circle cx="112.9" cy="189.0" r="2"/><circle cx="130.1" cy="195.5" r="2"/><circle cx="137.8" cy="176.2" r="2"/><circle cx="114.8" cy="186.8" r="2"/><circle cx="132.9" cy="107.0" r="2"/><circle cx="131.6" cy="138.5" r="2"/><circle cx="135.7" cy="198.2" r="2"/><circle cx="168.5" cy="200.2" r="2"/><circle cx="143.2" cy="197.1" r="2"/><circle cx="122.9" cy="181.1" r="2"/><circle cx="133.9" cy="166.1" r="2"/><circle cx="131.0" cy="146.9" r="2"/><circle cx="137.5" cy="171.8" r="2"/><circle cx="131.8" cy="163.5" r="2"/><circle cx="98.7" cy="193.9" r="2"/><circle cx="134.2" cy="93.3" r="2"/><circle cx="122.9" cy="149.2" r="2"/><circle cx="114.8" cy="151.9" r="2"/><circle cx="134.0" cy="132.1" r="2"/><circle cx="121.3" cy="200.2" r="2"/><circle cx="132.9" cy="162.8" r="2"/><circle cx="92.4" cy="192.1" r="2"/><circle cx="88.0" cy="198.3" r="2"/><circle cx="218.9" cy="196.0" r="2"/><circle cx="118.0" cy="198.9" r="2"/><circle cx="139.0" cy="194.5" r="2"/><circle cx="119.6" cy="145.7" r="2"/><circle cx="162.5" cy="137.5" r="2"/><circle cx="121.2" cy="177.0" r="2"/><circle cx="118.4" cy="150.1" r="2"/><circle cx="121.9" cy="162.0" r="2"/><circle cx="119.3" cy="153.6" r="2"/><circle cx="118.8" cy="198.2" r="2"/><circle cx="148.6" cy="200.5" r="2"/><circle cx="141.9" cy="176.2" r="2"/><circle cx="141.7" cy="146.9" r="2"/><circle cx="151.0" cy="195.0" r="2"/><circle cx="107.9" cy="176.1" r="2"/><circle cx="139.4" cy="132.3" r="2"/><circle cx="117.1" cy="174.7" r="2"/><circle cx="113.9" cy="125.4" r="2"/><circle cx="116.9" cy="187.5" r="2"/><circle cx="137.1" cy="189.8" r="2"/><circle cx="137.4" cy="160.6" r="2"/><circle cx="106.3" cy="189.4" r="2"/><circle cx="122.9" cy="176.4" r="2"/><circle cx="152.1" cy="186.5" r="2"/><circle cx="109.1" cy="193.6" r="2"/><circle cx="144.6" cy="194.6" r="2"/><circle cx="104.1" cy="191.5" r="2"/><circle cx="111.2" cy="156.5" r="2"/><circle cx="122.3" cy="144.8" r="2"/><circle cx="118.7" cy="135.5" r="2"/><circle cx="74.5" cy="197.3" r="2"/><circle cx="131.0" cy="91.6" r="2"/><circle cx="114.1" cy="171.4" r="2"/><circle cx="116.8" cy="169.1" r="2"/><circle cx="178.8" cy="186.6" r="2"/><circle cx="122.9" cy="192.4" r="2"/><circle cx="107.2" cy="199.5" r="2"/><circle cx="123.2" cy="155.3" r="2"/><circle cx="103.0" cy="193.6" r="2"/><circle cx="120.3" cy="187.5" r="2"/><circle cx="108.8" cy="180.9" r="2"/><circle cx="130.1" cy="140.5" r="2"/><circle cx="118.8" cy="181.9" r="2"/><circle cx="122.1" cy="111.1" r="2"/><circle cx="211.7" cy="200.1" r="2"/><circle cx="121.9" cy="189.4" r="2"/><circle cx="110.3" cy="192.7" r="2"/><circle cx="152.1" cy="179.3" r="2"/><circle cx="130.5" cy="125.9" r="2"/><circle cx="140.4" cy="191.4" r="2"/><circle cx="89.4" cy="173.7" r="2"/><circle cx="138.6" cy="151.4" r="2"/><circle cx="117.5" cy="182.7" r="2"/><circle cx="121.9" cy="200.4" r="2"/><circle cx="133.2" cy="170.0" r="2"/><circle cx="131.8" cy="191.8" r="2"/><circle cx="130.5" cy="174.9" r="2"/><circle cx="151.5" cy="196.2" r="2"/><circle cx="134.8" cy="189.9" r="2"/><circle cx="161.1" cy="163.7" r="2"/><circle cx="94.4" cy="198.5" r="2"/><circle cx="132.5" cy="107.6" r="2"/><circle cx="119.5" cy="164.2" r="2"/><circle cx="145.9" cy="113.8" r="2"/><circle cx="133.8" cy="186.0" r="2"/><circle cx="112.8" cy="193.3" r="2"/><circle cx="106.9" cy="187.1" r="2"/><circle cx="155.8" cy="172.2" r="2"/><circle cx="116.9" cy="172.0" r="2"/><circle cx="130.1" cy="121.7" r="2"/><circle cx="148.3" cy="189.5" r="2"/><circle cx="94.0" cy="195.8" r="2"/><circle cx="187.4" cy="167.5" r="2"/><circle cx="139.0" cy="191.4" r="2"/><circle cx="112.0" cy="167.0" r="2"/><circle cx="133.0" cy="196.2" r="2"/><circle cx="119.9" cy="193.6" r="2"/><circle cx="151.6" cy="150.3" r="2"/><circle cx="134.6" cy="191.8" r="2"/><circle cx="88.9" cy="200.1" r="2"/><circle cx="105.6" cy="191.6" r="2"/><circle cx="140.8" cy="160.9" r="2"/><circle cx="167.4" cy="195.6" r="2"/><circle cx="174.9" cy="198.0" r="2"/><circle cx="122.0" cy="198.8" r="2"/><circle cx="138.1" cy="179.7" r="2"/><circle cx="133.5" cy="134.5" r="2"/><circle cx="122.6" cy="158.0" r="2"/><circle cx="98.8" cy="186.2" r="2"/><circle cx="137.5" cy="159.7" r="2"/><circle cx="112.8" cy="130.4" r="2"/><circle cx="123.0" cy="193.5" r="2"/><circle cx="123.2" cy="127.9" r="2"/><circle cx="122.6" cy="154.0" r="2"/><circle cx="179.2" cy="194.4" r="2"/><circle cx="166.5" cy="174.4" r="2"/><circle cx="111.8" cy="197.4" r="2"/><circle cx="120.8" cy="165.5" r="2"/><circle cx="140.2" cy="127.5" r="2"/><circle cx="123.3" cy="160.3" r="2"/><circle cx="135.3" cy="186.8" r="2"/><circle cx="149.9" cy="127.1" r="2"/><circle cx="112.7" cy="195.7" r="2"/><circle cx="135.0" cy="116.2" r="2"/><circle cx="102.6" cy="191.7" r="2"/><circle cx="120.3" cy="157.2" r="2"/><circle cx="114.4" cy="176.7" r="2"/><circle cx="146.9" cy="176.2" r="2"/><circle cx="166.6" cy="174.2" r="2"/><circle cx="121.9" cy="108.3" r="2"/><circle cx="121.7" cy="180.0" r="2"/><circle cx="118.2" cy="188.6" r="2"/><circle cx="119.4" cy="181.7" r="2"/><circle cx="111.9" cy="168.7" r="2"/><circle cx="143.3" cy="144.6" r="2"/><circle cx="135.7" cy="175.7" r="2"/><circle cx="147.1" cy="196.3" r="2"/><circle cx="115.1" cy="193.0" r="2"/><circle cx="138.0" cy="191.5" r="2"/><circle cx="104.1" cy="174.8" r="2"/><circle cx="114.0" cy="165.4" r="2"/><circle cx="157.2" cy="200.4" r="2"/><circle cx="130.6" cy="143.3" r="2"/><circle cx="140.7" cy="179.6" r="2"/><circle cx="134.1" cy="124.7" r="2"/><circle cx="142.8" cy="198.0" r="2"/><circle cx="135.7" cy="195.4" r="2"/><circle cx="139.1" cy="175.1" r="2"/><circle cx="130.4" cy="182.0" r="2"/><circle cx="120.4" cy="172.1" r="2"/><circle cx="142.2" cy="120.8" r="2"/><circle cx="133.7" cy="128.9" r="2"/><circle cx="106.8" cy="158.7" r="2"/><circle cx="89.0" cy="183.6" r="2"/><circle cx="130.7" cy="192.3" r="2"/><circle cx="112.8" cy="176.3" r="2"/><circle cx="122.9" cy="103.2" r="2"/><circle cx="116.6" cy="173.1" r="2"/><circle cx="117.6" cy="185.7" r="2"/><circle cx="130.1" cy="187.4" r="2"/><circle cx="132.4" cy="194.2" r="2"/><circle cx="147.7" cy="193.9" r="2"/><circle cx="151.3" cy="165.8" r="2"/><circle cx="110.6" cy="163.5" r="2"/><circle cx="121.9" cy="191.1" r="2"/><circle cx="140.2" cy="183.4" r="2"/><circle cx="130.9" cy="185.3" r="2"/><circle cx="184.6" cy="191.4" r="2"/><circle cx="135.0" cy="152.9" r="2"/><circle cx="123.1" cy="197.8" r="2"/><circle cx="134.2" cy="191.1" r="2"/><circle cx="148.3" cy="194.9" r="2"/><circle cx="122.4" cy="196.5" r="2"/><circle cx="121.8" cy="163.3" r="2"/><circle cx="122.7" cy="178.0" r="2"/><circle cx="105.9" cy="134.0" r="2"/><circle cx="135.3" cy="156.4" r="2"/><circle cx="114.5" cy="176.6" r="2"/><circle cx="95.4" cy="193.7" r="2"/><circle cx="122.4" cy="132.4" r="2"/><circle cx="134.6" cy="167.4" r="2"/><circle cx="113.4" cy="176.6" r="2"/><circle cx="120.2" cy="166.2" r="2"/><circle cx="133.2" cy="126.1" r="2"/><circle cx="121.2" cy="152.6" r="2"/><circle cx="131.8" cy="164.0" r="2"/><circle cx="131.8" cy="158.1" r="2"/><circle cx="123.2" cy="176.6" r="2"/><circle cx="117.9" cy="176.9" r="2"/><circle cx="108.9" cy="165.7" r="2"/><circle cx="139.9" cy="194.1" r="2"/><circle cx="123.3" cy="165.1" r="2"/><circle cx="211.9" cy="190.2" r="2"/><circle cx="123.2" cy="98.8" r="2"/><circle cx="135.7" cy="142.8" r="2"/><circle cx="151.6" cy="199.2" r="2"/><circle cx="133.6" cy="153.7" r="2"/><circle cx="147.0" cy="177.9" r="2"/><circle cx="119.9" cy="179.4" r="2"/><circle cx="171.7" cy="187.4" r="2"/><circle cx="96.6" cy="184.3" r="2"/><circle cx="119.2" cy="200.3" r="2"/><circle cx="122.8" cy="149.9" r="2"/><circle cx="130.0" cy="181.7" r="2"/><circle cx="121.4" cy="172.7" r="2"/><circle cx="105.9" cy="197.8" r="2"/><circle cx="130.3" cy="122.9" r="2"/><circle cx="139.2" cy="183.8" r="2"/><circle cx="135.7" cy="158.6" r="2"/><circle cx="154.8" cy="190.4" r="2"/><circle cx="135.6" cy="183.7" r="2"/><circle cx="122.0" cy="176.6" r="2"/><circle cx="121.3" cy="113.6" r="2"/><circle cx="132.2" cy="183.1" r="2"/><circle cx="143.2" cy="186.6" r="2"/><circle cx="111.5" cy="177.7" r="2"/><circle cx="123.2" cy="172.7" r="2"/><circle cx="133.7" cy="157.7" r="2"/><circle cx="109.3" cy="200.7" r="2"/><circle cx="134.4" cy="162.6" r="2"/><circle cx="138.2" cy="196.4" r="2"/><circle cx="130.8" cy="180.1" r="2"/><circle cx="138.8" cy="194.1" r="2"/><circle cx="131.5" cy="155.2" r="2"/><circle cx="121.5" cy="185.3" r="2"/><circle cx="168.1" cy="182.5" r="2"/><circle cx="144.1" cy="167.6" r="2"/><circle cx="134.1" cy="190.4" r="2"/><circle cx="145.3" cy="172.7" r="2"/><circle cx="139.0" cy="162.5" r="2"/><circle cx="155.2" cy="195.2" r="2"/><circle cx="112.3" cy="189.9" r="2"/><circle cx="130.7" cy="166.3" r="2"/><circle cx="132.7" cy="157.1" r="2"/><circle cx="121.7" cy="116.0" r="2"/><circle cx="122.9" cy="156.3" r="2"/><circle cx="130.7" cy="175.2" r="2"/><circle cx="123.3" cy="134.9" r="2"/><circle cx="170.2" cy="198.1" r="2"/><circle cx="118.6" cy="184.8" r="2"/><circle cx="123.1" cy="128.2" r="2"/><circle cx="107.1" cy="193.3" r="2"/><circle cx="86.2" cy="199.5" r="2"/><circle cx="109.6" cy="192.9" r="2"/><circle cx="135.2" cy="178.5" r="2"/><circle cx="130.7" cy="178.5" r="2"/><circle cx="184.7" cy="195.1" r="2"/><circle cx="114.0" cy="199.6" r="2"/><circle cx="130.1" cy="182.4" r="2"/><circle cx="132.9" cy="199.0" r="2"/><circle cx="133.4" cy="125.6" r="2"/><circle cx="137.1" cy="188.0" r="2"/><circle cx="160.9" cy="190.1" r="2"/><circle cx="135.7" cy="161.7" r="2"/><circle cx="116.0" cy="178.0" r="2"/><circle cx="132.8" cy="193.2" r="2"/><circle cx="159.7" cy="198.7" r="2"/><circle cx="123.4" cy="107.4" r="2"/><circle cx="122.7" cy="178.3" r="2"/><circle cx="112.1" cy="164.4" r="2"/><circle cx="122.6" cy="151.7" r="2"/><circle cx="130.1" cy="140.0" r="2"/><circle cx="135.2" cy="146.0" r="2"/><circle cx="139.2" cy="166.1" r="2"/><circle cx="106.7" cy="179.5" r="2"/><circle cx="121.7" cy="200.1" r="2"/><circle cx="122.7" cy="149.9" r="2"/><circle cx="171.2" cy="176.0" r="2"/><circle cx="181.3" cy="199.8" r="2"/><circle cx="130.1" cy="179.6" r="2"/><circle cx="138.4" cy="194.6" r="2"/><circle cx="135.3" cy="200.4" r="2"/><circle cx="89.6" cy="188.9" r="2"/><circle cx="130.5" cy="181.1" r="2"/><circle cx="115.9" cy="170.5" r="2"/><circle cx="137.6" cy="179.0" r="2"/><circle cx="139.8" cy="162.1" r="2"/><circle cx="138.3" cy="178.7" r="2"/><circle cx="133.8" cy="168.0" r="2"/><circle cx="123.3" cy="175.2" r="2"/><circle cx="123.0" cy="137.3" r="2"/><circle cx="114.7" cy="189.6" r="2"/><circle cx="109.6" cy="188.9" r="2"/><circle cx="122.0" cy="188.5" r="2"/><circle cx="112.4" cy="198.3" r="2"/><circle cx="145.6" cy="186.7" r="2"/><circle cx="65.1" cy="193.5" r="2"/><circle cx="117.3" cy="179.9" r="2"/><circle cx="122.1" cy="125.2" r="2"/><circle cx="119.0" cy="168.8" r="2"/><circle cx="134.4" cy="136.9" r="2"/><circle cx="138.3" cy="198.0" r="2"/><circle cx="136.4" cy="156.2" r="2"/><circle cx="144.3" cy="193.1" r="2"/><circle cx="122.3" cy="193.9" r="2"/><circle cx="117.7" cy="195.9" r="2"/><circle cx="119.0" cy="97.9" r="2"/><circle cx="104.2" cy="200.2" r="2"/><circle cx="108.3" cy="197.2" r="2"/><circle cx="114.8" cy="197.1" r="2"/><circle cx="136.1" cy="195.1" r="2"/><circle cx="103.8" cy="187.6" r="2"/><circle cx="149.2" cy="185.6" r="2"/><circle cx="145.7" cy="197.8" r="2"/><circle cx="130.7" cy="148.4" r="2"/><circle cx="138.7" cy="166.3" r="2"/><circle cx="120.5" cy="186.3" r="2"/><circle cx="131.7" cy="181.2" r="2"/><circle cx="136.5" cy="178.0" r="2"/><circle cx="142.6" cy="198.3" r="2"/><circle cx="118.5" cy="181.5" r="2"/><circle cx="110.2" cy="192.9" r="2"/><circle cx="120.0" cy="176.3" r="2"/><circle cx="140.8" cy="168.6" r="2"/><circle cx="113.8" cy="190.5" r="2"/><circle cx="119.1" cy="184.0" r="2"/><circle cx="154.4" cy="190.7" r="2"/><circle cx="42.1" cy="200.2" r="2"/><circle cx="117.8" cy="186.2" r="2"/><circle cx="139.0" cy="157.6" r="2"/><circle cx="138.4" cy="142.8" r="2"/><circle cx="115.7" cy="178.7" r="2"/><circle cx="119.8" cy="137.0" r="2"/><circle cx="131.2" cy="174.4" r="2"/><circle cx="153.3" cy="192.0" r="2"/><circle cx="142.2" cy="197.0" r="2"/><circle cx="99.3" cy="178.1" r="2"/><circle cx="151.7" cy="200.8" r="2"/><circle cx="142.6" cy="158.2" r="2"/><circle cx="135.6" cy="199.4" r="2"/><circle cx="113.8" cy="176.2" r="2"/><circle cx="143.0" cy="130.0" r="2"/><circle cx="114.9" cy="138.2" r="2"/><circle cx="130.4" cy="151.1" r="2"/><circle cx="166.6" cy="197.9" r="2"/><circle cx="121.3" cy="193.0" r="2"/><circle cx="133.7" cy="163.2" r="2"/><circle cx="122.4" cy="179.7" r="2"/><circle cx="114.1" cy="199.3" r="2"/><circle cx="192.5" cy="195.1" r="2"/><circle cx="144.0" cy="163.6" r="2"/><circle cx="132.3" cy="196.5" r="2"/><circle cx="144.1" cy="142.0" r="2"/><circle cx="118.2" cy="195.4" r="2"/><circle cx="116.7" cy="170.6" r="2"/><circle cx="122.4" cy="177.0" r="2"/><circle cx="116.7" cy="190.1" r="2"/><circle cx="122.6" cy="195.3" r="2"/><circle cx="94.8" cy="162.3" r="2"/><circle cx="130.6" cy="149.7" r="2"/><circle cx="96.2" cy="197.9" r="2"/><circle cx="122.4" cy="139.8" r="2"/><circle cx="117.0" cy="194.0" r="2"/><circle cx="133.4" cy="194.9" r="2"/><circle cx="112.1" cy="200.0" r="2"/><circle cx="114.8" cy="153.6" r="2"/><circle cx="115.5" cy="141.8" r="2"/><circle cx="121.5" cy="197.4" r="2"/><circle cx="116.2" cy="174.4" r="2"/><circle cx="99.5" cy="142.2" r="2"/><circle cx="114.4" cy="195.0" r="2"/><circle cx="122.6" cy="163.4" r="2"/><circle cx="112.8" cy="198.6" r="2"/><circle cx="105.4" cy="190.1" r="2"/><circle cx="120.8" cy="166.7" r="2"/><circle cx="102.2" cy="156.7" r="2"/><circle cx="131.6" cy="184.5" r="2"/><circle cx="133.2" cy="193.2" r="2"/><circle cx="122.7" cy="190.5" r="2"/><circle cx="158.5" cy="195.6" r="2"/><circle cx="121.7" cy="128.5" r="2"/><circle cx="120.5" cy="197.8" r="2"/><circle cx="118.8" cy="198.6" r="2"/><circle cx="200.7" cy="193.7" r="2"/><circle cx="101.7" cy="150.5" r="2"/><circle cx="113.2" cy="157.5" r="2"/><circle cx="147.7" cy="191.7" r="2"/><circle cx="151.4" cy="185.4" r="2"/><circle cx="133.1" cy="149.4" r="2"/><circle cx="121.1" cy="151.2" r="2"/><circle cx="114.5" cy="181.1" r="2"/><circle cx="120.0" cy="147.1" r="2"/><circle cx="135.4" cy="193.9" r="2"/><circle cx="131.4" cy="181.2" r="2"/><circle cx="123.4" cy="197.2" r="2"/><circle cx="110.3" cy="189.0" r="2"/><circle cx="134.7" cy="177.6" r="2"/><circle cx="79.3" cy="195.3" r="2"/><circle cx="115.9" cy="167.8" r="2"/><circle cx="98.7" cy="195.3" r="2"/><circle cx="119.4" cy="171.2" r="2"/><circle cx="135.2" cy="162.3" r="2"/><circle cx="121.8" cy="160.5" r="2"/><circle cx="157.5" cy="180.5" r="2"/><circle cx="100.9" cy="177.3" r="2"/><circle cx="104.6" cy="193.3" r="2"/><circle cx="108.6" cy="185.6" r="2"/><circle cx="121.5" cy="121.0" r="2"/><circle cx="60.0" cy="197.8" r="2"/><circle cx="122.7" cy="166.2" r="2"/><circle cx="133.2" cy="176.8" r="2"/><circle cx="163.9" cy="196.9" r="2"/><circle cx="148.8" cy="181.9" r="2"/><circle cx="156.6" cy="198.5" r="2"/><circle cx="131.1" cy="191.3" r="2"/><circle cx="133.0" cy="188.8" r="2"/><circle cx="122.6" cy="176.3" r="2"/><circle cx="37.6" cy="199.4" r="2"/><circle cx="119.6" cy="193.8" r="2"/><circle cx="113.0" cy="199.6" r="2"/><circle cx="141.1" cy="167.5" r="2"/><circle cx="156.2" cy="178.9" r="2"/><circle cx="122.9" cy="189.9" r="2"/><circle cx="122.7" cy="145.0" r="2"/><circle cx="119.9" cy="142.3" r="2"/><circle cx="135.5" cy="179.9" r="2"/><circle cx="133.1" cy="93.7" r="2"/><circle cx="138.2" cy="192.7" r="2"/><circle cx="134.4" cy="193.5" r="2"/><circle cx="115.2" cy="145.6" r="2"/><circle cx="109.1" cy="70.6" r="2"/><circle cx="121.7" cy="102.5" r="2"/><circle cx="139.2" cy="75.4" r="2"/><circle cx="118.3" cy="70.5" r="2"/><circle cx="144.2" cy="79.9" r="2"/><circle cx="138.3" cy="90.7" r="2"/><circle cx="133.1" cy="65.7" r="2"/><circle cx="132.7" cy="107.5" r="2"/><circle cx="117.1" cy="64.8" r="2"/><circle cx="148.3" cy="52.1" r="2"/><circle cx="121.2" cy="103.6" r="2"/><circle cx="115.6" cy="90.0" r="2"/><circle cx="139.8" cy="49.7" r="2"/><circle cx="116.5" cy="65.8" r="2"/><circle cx="143.4" cy="75.9" r="2"/><circle cx="133.3" cy="89.7" r="2"/><circle cx="137.9" cy="56.5" r="2"/><circle cx="104.0" cy="69.4" r="2"/><circle cx="116.7" cy="103.4" r="2"/><circle cx="140.1" cy="64.7" r="2"/><circle cx="116.7" cy="55.3" r="2"/><circle cx="102.0" cy="73.1" r="2"/><circle cx="114.9" cy="89.6" r="2"/><circle cx="115.9" cy="52.1" r="2"/><circle cx="117.6" cy="58.8" r="2"/><circle cx="118.9" cy="89.6" r="2"/><circle cx="117.5" cy="60.1" r="2"/><circle cx="120.2" cy="89.8" r="2"/><circle cx="117.1" cy="107.1" r="2"/><circle cx="138.4" cy="88.1" r="2"/><circle cx="112.6" cy="57.5" r="2"/><circle cx="132.6" cy="97.3" r="2"/><circle cx="134.4" cy="59.6" r="2"/><circle cx="119.2" cy="80.4" r="2"/><circle cx="137.4" cy="54.4" r="2"/><circle cx="146.1" cy="96.3" r="2"/><circle cx="114.2" cy="97.1" r="2"/><circle cx="131.1" cy="99.0" r="2"/><circle cx="103.5" cy="78.8" r="2"/><circle cx="156.0" cy="54.6" r="2"/><circle cx="134.3" cy="83.9" r="2"/><circle cx="142.1" cy="69.9" r="2"/><circle cx="133.1" cy="71.8" r="2"/><circle cx="140.2" cy="50.0" r="2"/><circle cx="138.3" cy="82.4" r="2"/><circle cx="116.8" cy="67.3" r="2"/><circle cx="113.7" cy="68.6" r="2"/><circle cx="111.4" cy="70.6" r="2"/><circle cx="110.9" cy="59.8" r="2"/><circle cx="133.5" cy="79.5" r="2"/><circle cx="117.0" cy="62.0" r="2"/><circle cx="120.7" cy="93.7" r="2"/><circle cx="106.5" cy="109.5" r="2"/><circle cx="134.8" cy="86.7" r="2"/><circle cx="135.2" cy="96.4" r="2"/><circle cx="110.8" cy="58.4" r="2"/><circle cx="121.1" cy="108.7" r="2"/><circle cx="116.9" cy="63.0" r="2"/><circle cx="132.8" cy="96.9" r="2"/><circle cx="119.0" cy="98.0" r="2"/><circle cx="133.1" cy="100.5" r="2"/><circle cx="136.3" cy="64.9" r="2"/><circle cx="141.0" cy="93.2" r="2"/><circle cx="109.0" cy="73.3" r="2"/><circle cx="117.3" cy="104.9" r="2"/><circle cx="117.5" cy="101.7" r="2"/><circle cx="119.8" cy="83.8" r="2"/><circle cx="116.9" cy="84.0" r="2"/><circle cx="119.6" cy="98.6" r="2"/><circle cx="110.9" cy="68.9" r="2"/><circle cx="116.8" cy="52.9" r="2"/><circle cx="110.2" cy="59.1" r="2"/><circle cx="115.7" cy="82.3" r="2"/><circle cx="113.3" cy="62.1" r="2"/><circle cx="147.0" cy="90.8" r="2"/><circle cx="133.6" cy="111.2" r="2"/><circle cx="133.4" cy="58.0" r="2"/><circle cx="136.3" cy="65.6" r="2"/><circle cx="133.4" cy="99.4" r="2"/><circle cx="114.6" cy="68.9" r="2"/><circle cx="104.6" cy="97.3" r="2"/><circle cx="116.3" cy="67.9" r="2"/><circle cx="139.8" cy="52.6" r="2"/><circle cx="116.5" cy="86.3" r="2"/><circle cx="139.4" cy="55.6" r="2"/><circle cx="114.1" cy="85.0" r="2"/><circle cx="133.1" cy="75.3" r="2"/><circle cx="121.2" cy="103.0" r="2"/><circle cx="151.2" cy="76.0" r="2"/><circle cx="107.0" cy="64.2" r="2"/><circle cx="116.8" cy="78.9" r="2"/><circle cx="112.2" cy="75.2" r="2"/><circle cx="116.0" cy="54.4" r="2"/><circle cx="133.8" cy="62.0" r="2"/><circle cx="118.3" cy="93.2" r="2"/><circle cx="118.5" cy="86.5" r="2"/><circle cx="138.6" cy="52.4" r="2"/><circle cx="108.0" cy="56.4" r="2"/><circle cx="118.9" cy="101.8" r="2"/><circle cx="118.8" cy="93.6" r="2"/><circle cx="102.9" cy="36.1" r="2"/><circle cx="164.2" cy="34.6" r="2"/><circle cx="140.3" cy="35.7" r="2"/><circle cx="191.3" cy="35.6" r="2"/><circle cx="157.7" cy="36.8" r="2"/><circle cx="110.6" cy="33.5" r="2"/><circle cx="156.1" cy="35.3" r="2"/><circle cx="141.7" cy="36.6" r="2"/><circle cx="161.5" cy="37.3" r="2"/><circle cx="132.2" cy="34.9" r="2"/><circle cx="158.5" cy="36.5" r="2"/><circle cx="153.8" cy="36.0" r="2"/><circle cx="132.8" cy="34.6" r="2"/><circle cx="132.1" cy="34.9" r="2"/><circle cx="159.9" cy="36.0" r="2"/><circle cx="135.5" cy="36.2" r="2"/><circle cx="148.2" cy="34.8" r="2"/><circle cx="155.3" cy="34.4" r="2"/><circle cx="142.5" cy="36.4" r="2"/><circle cx="129.5" cy="36.3" r="2"/><circle cx="156.4" cy="35.4" r="2"/><circle cx="152.2" cy="35.1" r="2"/><circle cx="176.8" cy="35.7" r="2"/><circle cx="145.7" cy="37.1" r="2"/><circle cx="115.1" cy="34.3" r="2"/><circle cx="135.9" cy="34.4" r="2"/><circle cx="148.7" cy="34.2" r="2"/><circle cx="137.3" cy="36.2" r="2"/><circle cx="96.3" cy="34.5" r="2"/><circle cx="105.8" cy="36.1" r="2"/><circle cx="185.3" cy="35.5" r="2"/><circle cx="130.7" cy="36.3" r="2"/><circle cx="139.3" cy="36.5" r="2"/><circle cx="135.6" cy="36.5" r="2"/><circle cx="134.7" cy="36.1" r="2"/><circle cx="155.9" cy="34.5" r="2"/><circle cx="148.1" cy="36.2" r="2"/><circle cx="136.4" cy="37.2" r="2"/><circle cx="155.4" cy="34.6" r="2"/><circle cx="138.5" cy="36.0" r="2"/><circle cx="160.0" cy="34.3" r="2"/><circle cx="150.4" cy="35.9" r="2"/><circle cx="154.0" cy="34.7" r="2"/><circle cx="98.9" cy="35.7" r="2"/><circle cx="136.7" cy="36.2" r="2"/><circle cx="144.8" cy="34.8" r="2"/><circle cx="136.0" cy="36.5" r="2"/><circle cx="154.1" cy="36.8" r="2"/><circle cx="127.1" cy="35.3" r="2"/><circle cx="139.1" cy="33.4" r="2"/><circle cx="134.0" cy="36.0" r="2"/><circle cx="163.3" cy="35.4" r="2"/><circle cx="159.4" cy="34.2" r="2"/><circle cx="137.8" cy="35.7" r="2"/><circle cx="147.4" cy="35.1" r="2"/><circle cx="161.7" cy="36.3" r="2"/><circle cx="134.2" cy="34.9" r="2"/><circle cx="140.0" cy="33.7" r="2"/><circle cx="154.3" cy="35.8" r="2"/><circle cx="127.1" cy="35.2" r="2"/></g>
<path d="M97,35.5 L113,35.5 M124,35.5 L190,35.5" stroke="#b8b8b8" stroke-width="2.6" stroke-linecap="round" filter="url(#blc)"/>
<path d="M132,35.5 L165,35.5" stroke="#aaa" stroke-width="2.2" stroke-linecap="round" filter="url(#blc)"/>
<line x1="31.00" y1="205.40" x2="222.00" y2="205.40" stroke="#333" stroke-width="1" stroke-dasharray="4 2.2"/>
<circle cx="87.70" cy="35.30" r="2.4" fill="#2b7bba"/>
<circle cx="92.60" cy="35.30" r="2.4" fill="#2b7bba"/>
<circle cx="110.00" cy="35.30" r="2.4" fill="#2b7bba"/>
<circle cx="118.00" cy="35.30" r="2.4" fill="#e2661b"/>
<circle cx="144.60" cy="35.30" r="2.4" fill="#e2661b"/>
<circle cx="110.40" cy="80.80" r="2.4" fill="#2b7bba"/>
<circle cx="104.40" cy="101.70" r="2.4" fill="#2b7bba"/>
<circle cx="112.30" cy="122.20" r="2.4" fill="#2b7bba"/>
<circle cx="146.90" cy="126.40" r="2.4" fill="#e2661b"/>
<circle cx="132.80" cy="130.20" r="2.4" fill="#e2661b"/>
<circle cx="109.70" cy="135.90" r="2.4" fill="#2b7bba"/>
<circle cx="114.60" cy="150.70" r="2.4" fill="#2b7bba"/>
<circle cx="122.20" cy="163.60" r="2.4" fill="#2b7bba"/>
<circle cx="122.20" cy="188.60" r="2.4" fill="#e2661b"/>
<circle cx="113.90" cy="189.00" r="2.4" fill="#2fa12a"/>
<circle cx="123.30" cy="198.10" r="2.4" fill="#2b7bba"/>
<circle cx="129.00" cy="204.90" r="2.4" fill="#2b7bba"/>
<circle cx="127.90" cy="209.50" r="2.4" fill="#2b7bba"/>
<text x="57.70" y="36.60" font-size="7.1" font-style="italic" fill="#3a86c4">STMN2</text>
<text x="77.00" y="48.60" font-size="5.9" font-style="italic" fill="#3a86c4">HS6ST3</text>
<text x="96.80" y="34.40" font-size="5.9" font-style="italic" fill="#3a86c4">PCBP3</text>
<text x="115.70" y="49.40" font-size="5.9" font-style="italic" fill="#e07a30">BRD9</text>
<text x="148.80" y="36.40" font-size="5.9" font-style="italic" fill="#e07a30">TLX1</text>
<text x="99.80" y="77.30" font-size="5.9" font-style="italic" fill="#3a86c4">DLGAP1</text>
<text x="100.60" y="97.80" font-size="5.9" font-style="italic" fill="#3a86c4">AKT3</text>
<text x="87.30" y="119.10" font-size="5.9" font-style="italic" fill="#3a86c4">CAMK2D</text>
<text x="145.40" y="122.90" font-size="5.9" font-style="italic" fill="#e07a30">SIX3</text>
<text x="129.80" y="140.70" font-size="5.9" font-style="italic" fill="#e07a30">ELK1</text>
<text x="85.40" y="146.40" font-size="5.9" font-style="italic" fill="#3a86c4">ADARB2</text>
<text x="118.80" y="158.60" font-size="5.9" font-style="italic" fill="#3a86c4">VSTM4</text>
<text x="126.40" y="173.00" font-size="5.9" font-style="italic" fill="#3a86c4">RAB3GAP1</text>
<text x="111.20" y="185.10" font-size="5.9" font-style="italic" fill="#e07a30">EEFSEC</text>
<text x="90.30" y="199.50" font-size="5.9" font-style="italic" fill="#3aa535">ADCY8</text>
<text x="127.10" y="200.70" font-size="5.9" font-style="italic" fill="#e07a30">BRINP2</text>
<text x="102.80" y="211.70" font-size="5.9" font-style="italic" fill="#3a86c4">KIF26B</text>
<text x="130.90" y="215.90" font-size="5.9" font-style="italic" fill="#3a86c4">ETV5</text>
<line x1="93.00" y1="44.00" x2="92.60" y2="37.00" stroke="#3a86c4" stroke-width="0.5"/>
<line x1="121.00" y1="45.00" x2="118.50" y2="37.00" stroke="#e07a30" stroke-width="0.5"/>
<line x1="123.30" y1="198.10" x2="123.30" y2="206.00" stroke="#3a86c4" stroke-width="0.5"/>
<rect x="31.00" y="27.00" width="191.00" height="191.00" fill="none" stroke="#333" stroke-width="1.1"/>
<line x1="29.00" y1="209.50" x2="31.00" y2="209.50" stroke="#3a3a3a" stroke-width="0.8"/>
<text x="25.30" y="212.10" font-size="7.7" text-anchor="end" fill="#333">0</text>
<line x1="29.00" y1="174.70" x2="31.00" y2="174.70" stroke="#3a3a3a" stroke-width="0.8"/>
<text x="25.30" y="177.30" font-size="7.7" text-anchor="end" fill="#333">10</text>
<line x1="29.00" y1="139.90" x2="31.00" y2="139.90" stroke="#3a3a3a" stroke-width="0.8"/>
<text x="25.30" y="142.50" font-size="7.7" text-anchor="end" fill="#333">20</text>
<line x1="29.00" y1="105.10" x2="31.00" y2="105.10" stroke="#3a3a3a" stroke-width="0.8"/>
<text x="25.30" y="107.70" font-size="7.7" text-anchor="end" fill="#333">30</text>
<line x1="29.00" y1="70.30" x2="31.00" y2="70.30" stroke="#3a3a3a" stroke-width="0.8"/>
<text x="25.30" y="72.90" font-size="7.7" text-anchor="end" fill="#333">40</text>
<line x1="29.00" y1="35.50" x2="31.00" y2="35.50" stroke="#3a3a3a" stroke-width="0.8"/>
<text x="25.30" y="38.10" font-size="7.7" text-anchor="end" fill="#333">50</text>
<line x1="40.65" y1="218.00" x2="40.65" y2="220.00" stroke="#3a3a3a" stroke-width="0.8"/>
<text x="40.65" y="229.80" font-size="7.3" text-anchor="middle" fill="#333">−5</text>
<line x1="57.92" y1="218.00" x2="57.92" y2="220.00" stroke="#3a3a3a" stroke-width="0.8"/>
<text x="57.92" y="229.80" font-size="7.3" text-anchor="middle" fill="#333">−4</text>
<line x1="75.19" y1="218.00" x2="75.19" y2="220.00" stroke="#3a3a3a" stroke-width="0.8"/>
<text x="75.19" y="229.80" font-size="7.3" text-anchor="middle" fill="#333">−3</text>
<line x1="92.46" y1="218.00" x2="92.46" y2="220.00" stroke="#3a3a3a" stroke-width="0.8"/>
<text x="92.46" y="229.80" font-size="7.3" text-anchor="middle" fill="#333">−2</text>
<line x1="109.73" y1="218.00" x2="109.73" y2="220.00" stroke="#3a3a3a" stroke-width="0.8"/>
<text x="109.73" y="229.80" font-size="7.3" text-anchor="middle" fill="#333">−1</text>
<line x1="127.00" y1="218.00" x2="127.00" y2="220.00" stroke="#3a3a3a" stroke-width="0.8"/>
<text x="127.00" y="229.80" font-size="7.3" text-anchor="middle" fill="#333">0</text>
<line x1="144.27" y1="218.00" x2="144.27" y2="220.00" stroke="#3a3a3a" stroke-width="0.8"/>
<text x="144.27" y="229.80" font-size="7.3" text-anchor="middle" fill="#333">1</text>
<line x1="161.54" y1="218.00" x2="161.54" y2="220.00" stroke="#3a3a3a" stroke-width="0.8"/>
<text x="161.54" y="229.80" font-size="7.3" text-anchor="middle" fill="#333">2</text>
<line x1="178.81" y1="218.00" x2="178.81" y2="220.00" stroke="#3a3a3a" stroke-width="0.8"/>
<text x="178.81" y="229.80" font-size="7.3" text-anchor="middle" fill="#333">3</text>
<line x1="196.08" y1="218.00" x2="196.08" y2="220.00" stroke="#3a3a3a" stroke-width="0.8"/>
<text x="196.08" y="229.80" font-size="7.3" text-anchor="middle" fill="#333">4</text>
<line x1="213.35" y1="218.00" x2="213.35" y2="220.00" stroke="#3a3a3a" stroke-width="0.8"/>
<text x="213.35" y="229.80" font-size="7.3" text-anchor="middle" fill="#333">5</text>
<text x="41.60" y="242.60" font-size="8.6" textLength="170.8" lengthAdjust="spacingAndGlyphs">RNA-seq log<tspan font-size="5.5" dy="1.8">2</tspan><tspan dy="-1.8"> fold change (TDP-43KD/Ctrl)</tspan></text>
<text x="9.30" y="122.70" font-size="8.8" text-anchor="middle" textLength="46.6" lengthAdjust="spacingAndGlyphs" transform="rotate(-90 9.30 122.70)">−log<tspan font-size="6" dy="1.8">10</tspan><tspan dy="-1.8">(Padj)</tspan></text>
<rect x="278.80" y="26.50" width="191.00" height="191.30" fill="#fff"/>
<line x1="288.70" y1="26.50" x2="288.70" y2="217.80" stroke="#ebebeb" stroke-width="0.9"/>
<line x1="299.47" y1="26.50" x2="299.47" y2="217.80" stroke="#ebebeb" stroke-width="0.9"/>
<line x1="310.25" y1="26.50" x2="310.25" y2="217.80" stroke="#ebebeb" stroke-width="0.9"/>
<line x1="321.02" y1="26.50" x2="321.02" y2="217.80" stroke="#ebebeb" stroke-width="0.9"/>
<line x1="331.80" y1="26.50" x2="331.80" y2="217.80" stroke="#ebebeb" stroke-width="0.9"/>
<line x1="342.57" y1="26.50" x2="342.57" y2="217.80" stroke="#ebebeb" stroke-width="0.9"/>
<line x1="353.35" y1="26.50" x2="353.35" y2="217.80" stroke="#ebebeb" stroke-width="0.9"/>
<line x1="364.12" y1="26.50" x2="364.12" y2="217.80" stroke="#ebebeb" stroke-width="0.9"/>
<line x1="374.90" y1="26.50" x2="374.90" y2="217.80" stroke="#ebebeb" stroke-width="0.9"/>
<line x1="385.67" y1="26.50" x2="385.67" y2="217.80" stroke="#ebebeb" stroke-width="0.9"/>
<line x1="396.45" y1="26.50" x2="396.45" y2="217.80" stroke="#ebebeb" stroke-width="0.9"/>
<line x1="407.22" y1="26.50" x2="407.22" y2="217.80" stroke="#ebebeb" stroke-width="0.9"/>
<line x1="418.00" y1="26.50" x2="418.00" y2="217.80" stroke="#ebebeb" stroke-width="0.9"/>
<line x1="428.77" y1="26.50" x2="428.77" y2="217.80" stroke="#ebebeb" stroke-width="0.9"/>
<line x1="439.55" y1="26.50" x2="439.55" y2="217.80" stroke="#ebebeb" stroke-width="0.9"/>
<line x1="450.32" y1="26.50" x2="450.32" y2="217.80" stroke="#ebebeb" stroke-width="0.9"/>
<line x1="461.10" y1="26.50" x2="461.10" y2="217.80" stroke="#ebebeb" stroke-width="0.9"/>
<line x1="278.80" y1="217.47" x2="469.80" y2="217.47" stroke="#ebebeb" stroke-width="0.9"/>
<line x1="278.80" y1="209.20" x2="469.80" y2="209.20" stroke="#ebebeb" stroke-width="0.9"/>
<line x1="278.80" y1="200.93" x2="469.80" y2="200.93" stroke="#ebebeb" stroke-width="0.9"/>
<line x1="278.80" y1="192.66" x2="469.80" y2="192.66" stroke="#ebebeb" stroke-width="0.9"/>
<line x1="278.80" y1="184.39" x2="469.80" y2="184.39" stroke="#ebebeb" stroke-width="0.9"/>
<line x1="278.80" y1="176.12" x2="469.80" y2="176.12" stroke="#ebebeb" stroke-width="0.9"/>
<line x1="278.80" y1="167.85" x2="469.80" y2="167.85" stroke="#ebebeb" stroke-width="0.9"/>
<line x1="278.80" y1="159.58" x2="469.80" y2="159.58" stroke="#ebebeb" stroke-width="0.9"/>
<line x1="278.80" y1="151.31" x2="469.80" y2="151.31" stroke="#ebebeb" stroke-width="0.9"/>
<line x1="278.80" y1="143.04" x2="469.80" y2="143.04" stroke="#ebebeb" stroke-width="0.9"/>
<line x1="278.80" y1="134.77" x2="469.80" y2="134.77" stroke="#ebebeb" stroke-width="0.9"/>
<line x1="278.80" y1="126.50" x2="469.80" y2="126.50" stroke="#ebebeb" stroke-width="0.9"/>
<line x1="278.80" y1="118.23" x2="469.80" y2="118.23" stroke="#ebebeb" stroke-width="0.9"/>
<line x1="278.80" y1="109.96" x2="469.80" y2="109.96" stroke="#ebebeb" stroke-width="0.9"/>
<line x1="278.80" y1="101.69" x2="469.80" y2="101.69" stroke="#ebebeb" stroke-width="0.9"/>
<line x1="278.80" y1="93.42" x2="469.80" y2="93.42" stroke="#ebebeb" stroke-width="0.9"/>
<line x1="278.80" y1="85.15" x2="469.80" y2="85.15" stroke="#ebebeb" stroke-width="0.9"/>
<line x1="278.80" y1="76.88" x2="469.80" y2="76.88" stroke="#ebebeb" stroke-width="0.9"/>
<line x1="278.80" y1="68.61" x2="469.80" y2="68.61" stroke="#ebebeb" stroke-width="0.9"/>
<line x1="278.80" y1="60.34" x2="469.80" y2="60.34" stroke="#ebebeb" stroke-width="0.9"/>
<line x1="278.80" y1="52.07" x2="469.80" y2="52.07" stroke="#ebebeb" stroke-width="0.9"/>
<line x1="278.80" y1="43.80" x2="469.80" y2="43.80" stroke="#ebebeb" stroke-width="0.9"/>
<line x1="278.80" y1="35.53" x2="469.80" y2="35.53" stroke="#ebebeb" stroke-width="0.9"/>
<line x1="278.80" y1="27.26" x2="469.80" y2="27.26" stroke="#ebebeb" stroke-width="0.9"/>
<g fill="#c6c6c6" fill-opacity="0.55"><circle cx="371.9" cy="196.9" r="2.1"/><circle cx="366.6" cy="186.3" r="2.1"/><circle cx="366.1" cy="185.4" r="2.1"/><circle cx="369.4" cy="192.9" r="2.1"/><circle cx="367.2" cy="190.6" r="2.1"/><circle cx="373.8" cy="205.0" r="2.1"/><circle cx="382.0" cy="195.8" r="2.1"/><circle cx="366.4" cy="188.7" r="2.1"/><circle cx="373.3" cy="206.5" r="2.1"/><circle cx="371.1" cy="190.0" r="2.1"/><circle cx="372.5" cy="202.1" r="2.1"/><circle cx="365.4" cy="187.8" r="2.1"/><circle cx="367.3" cy="185.9" r="2.1"/><circle cx="370.3" cy="196.2" r="2.1"/><circle cx="365.8" cy="185.2" r="2.1"/><circle cx="377.3" cy="206.0" r="2.1"/><circle cx="373.7" cy="203.8" r="2.1"/><circle cx="372.0" cy="194.9" r="2.1"/><circle cx="381.1" cy="196.1" r="2.1"/><circle cx="377.9" cy="198.7" r="2.1"/><circle cx="368.8" cy="193.9" r="2.1"/><circle cx="365.5" cy="183.8" r="2.1"/><circle cx="370.1" cy="193.2" r="2.1"/><circle cx="382.6" cy="182.9" r="2.1"/><circle cx="381.9" cy="190.5" r="2.1"/><circle cx="369.6" cy="193.0" r="2.1"/><circle cx="385.1" cy="191.4" r="2.1"/><circle cx="373.3" cy="206.9" r="2.1"/><circle cx="369.6" cy="193.7" r="2.1"/><circle cx="378.8" cy="183.1" r="2.1"/><circle cx="367.6" cy="188.0" r="2.1"/><circle cx="372.8" cy="203.6" r="2.1"/><circle cx="375.8" cy="206.8" r="2.1"/><circle cx="366.1" cy="188.4" r="2.1"/><circle cx="366.2" cy="187.8" r="2.1"/><circle cx="378.2" cy="202.6" r="2.1"/><circle cx="378.0" cy="203.1" r="2.1"/><circle cx="379.4" cy="199.3" r="2.1"/><circle cx="367.1" cy="191.5" r="2.1"/><circle cx="371.3" cy="202.3" r="2.1"/><circle cx="378.2" cy="204.6" r="2.1"/><circle cx="372.1" cy="193.1" r="2.1"/><circle cx="372.4" cy="203.7" r="2.1"/><circle cx="369.0" cy="183.6" r="2.1"/><circle cx="371.9" cy="194.3" r="2.1"/><circle cx="378.5" cy="194.5" r="2.1"/><circle cx="381.9" cy="197.3" r="2.1"/><circle cx="378.4" cy="199.1" r="2.1"/><circle cx="386.1" cy="190.3" r="2.1"/><circle cx="372.7" cy="196.1" r="2.1"/><circle cx="369.2" cy="195.2" r="2.1"/><circle cx="376.1" cy="207.0" r="2.1"/><circle cx="374.3" cy="208.9" r="2.1"/><circle cx="371.1" cy="194.4" r="2.1"/><circle cx="381.4" cy="196.4" r="2.1"/><circle cx="363.6" cy="184.3" r="2.1"/><circle cx="386.4" cy="185.7" r="2.1"/><circle cx="378.4" cy="195.0" r="2.1"/><circle cx="381.9" cy="192.2" r="2.1"/><circle cx="380.3" cy="190.0" r="2.1"/><circle cx="368.2" cy="190.7" r="2.1"/><circle cx="368.3" cy="192.3" r="2.1"/><circle cx="378.8" cy="199.3" r="2.1"/><circle cx="386.3" cy="187.4" r="2.1"/><circle cx="366.0" cy="186.0" r="2.1"/><circle cx="382.3" cy="193.0" r="2.1"/><circle cx="373.7" cy="207.4" r="2.1"/><circle cx="373.0" cy="204.4" r="2.1"/><circle cx="377.1" cy="196.8" r="2.1"/><circle cx="366.2" cy="188.7" r="2.1"/><circle cx="375.5" cy="209.0" r="2.1"/><circle cx="389.7" cy="183.4" r="2.1"/><circle cx="373.8" cy="206.4" r="2.1"/><circle cx="369.3" cy="188.6" r="2.1"/><circle cx="373.0" cy="206.3" r="2.1"/><circle cx="364.3" cy="183.4" r="2.1"/><circle cx="380.5" cy="196.8" r="2.1"/><circle cx="370.0" cy="192.4" r="2.1"/><circle cx="370.0" cy="195.5" r="2.1"/><circle cx="369.8" cy="184.2" r="2.1"/><circle cx="368.9" cy="188.0" r="2.1"/><circle cx="383.1" cy="186.7" r="2.1"/><circle cx="374.0" cy="207.6" r="2.1"/><circle cx="386.9" cy="188.0" r="2.1"/><circle cx="388.9" cy="185.3" r="2.1"/><circle cx="381.4" cy="184.9" r="2.1"/><circle cx="371.3" cy="200.8" r="2.1"/><circle cx="369.0" cy="196.2" r="2.1"/><circle cx="371.6" cy="198.6" r="2.1"/><circle cx="381.3" cy="197.0" r="2.1"/><circle cx="370.8" cy="197.6" r="2.1"/><circle cx="371.4" cy="200.6" r="2.1"/><circle cx="378.0" cy="204.2" r="2.1"/><circle cx="376.8" cy="205.6" r="2.1"/><circle cx="381.8" cy="197.4" r="2.1"/><circle cx="383.2" cy="185.8" r="2.1"/><circle cx="373.2" cy="194.9" r="2.1"/><circle cx="368.3" cy="194.6" r="2.1"/><circle cx="379.4" cy="200.6" r="2.1"/><circle cx="376.3" cy="206.6" r="2.1"/><circle cx="373.5" cy="195.1" r="2.1"/><circle cx="369.2" cy="184.8" r="2.1"/><circle cx="372.6" cy="204.9" r="2.1"/><circle cx="386.5" cy="182.9" r="2.1"/><circle cx="382.1" cy="185.7" r="2.1"/><circle cx="369.5" cy="190.9" r="2.1"/><circle cx="372.5" cy="200.7" r="2.1"/><circle cx="383.2" cy="193.0" r="2.1"/><circle cx="375.1" cy="208.9" r="2.1"/><circle cx="381.9" cy="196.5" r="2.1"/><circle cx="384.3" cy="185.2" r="2.1"/><circle cx="372.9" cy="205.4" r="2.1"/><circle cx="371.9" cy="203.1" r="2.1"/><circle cx="379.8" cy="200.0" r="2.1"/><circle cx="368.7" cy="184.6" r="2.1"/><circle cx="380.5" cy="188.6" r="2.1"/><circle cx="373.1" cy="205.6" r="2.1"/><circle cx="368.7" cy="185.3" r="2.1"/><circle cx="366.9" cy="191.1" r="2.1"/><circle cx="389.3" cy="182.8" r="2.1"/><circle cx="369.1" cy="196.1" r="2.1"/><circle cx="370.5" cy="198.7" r="2.1"/><circle cx="390.0" cy="183.7" r="2.1"/><circle cx="366.8" cy="183.7" r="2.1"/><circle cx="389.2" cy="185.7" r="2.1"/><circle cx="378.4" cy="204.3" r="2.1"/><circle cx="383.8" cy="194.9" r="2.1"/><circle cx="372.4" cy="204.6" r="2.1"/><circle cx="368.1" cy="193.8" r="2.1"/><circle cx="372.4" cy="201.7" r="2.1"/><circle cx="373.9" cy="208.2" r="2.1"/><circle cx="377.4" cy="197.2" r="2.1"/><circle cx="372.7" cy="204.6" r="2.1"/><circle cx="377.9" cy="203.9" r="2.1"/><circle cx="383.8" cy="193.8" r="2.1"/><circle cx="367.0" cy="184.8" r="2.1"/><circle cx="367.4" cy="183.8" r="2.1"/><circle cx="369.1" cy="196.4" r="2.1"/><circle cx="367.1" cy="192.4" r="2.1"/><circle cx="369.4" cy="195.4" r="2.1"/><circle cx="372.3" cy="184.1" r="2.1"/><circle cx="372.6" cy="204.0" r="2.1"/><circle cx="378.1" cy="201.0" r="2.1"/><circle cx="374.5" cy="208.8" r="2.1"/><circle cx="372.6" cy="201.0" r="2.1"/><circle cx="382.3" cy="192.4" r="2.1"/><circle cx="367.2" cy="192.3" r="2.1"/><circle cx="368.7" cy="194.6" r="2.1"/><circle cx="374.1" cy="203.6" r="2.1"/><circle cx="384.5" cy="187.0" r="2.1"/><circle cx="378.7" cy="194.4" r="2.1"/><circle cx="386.3" cy="190.5" r="2.1"/><circle cx="376.1" cy="207.6" r="2.1"/><circle cx="366.0" cy="186.8" r="2.1"/><circle cx="366.3" cy="185.5" r="2.1"/><circle cx="364.2" cy="185.6" r="2.1"/><circle cx="372.2" cy="200.9" r="2.1"/><circle cx="386.7" cy="188.1" r="2.1"/><circle cx="377.0" cy="206.5" r="2.1"/><circle cx="369.7" cy="191.2" r="2.1"/><circle cx="369.2" cy="197.2" r="2.1"/><circle cx="378.7" cy="198.4" r="2.1"/><circle cx="384.1" cy="192.0" r="2.1"/><circle cx="370.8" cy="198.0" r="2.1"/><circle cx="381.5" cy="198.9" r="2.1"/><circle cx="383.2" cy="183.9" r="2.1"/><circle cx="374.7" cy="208.4" r="2.1"/><circle cx="376.3" cy="206.1" r="2.1"/><circle cx="370.1" cy="193.0" r="2.1"/><circle cx="363.7" cy="183.5" r="2.1"/><circle cx="379.4" cy="195.3" r="2.1"/><circle cx="381.8" cy="189.5" r="2.1"/><circle cx="381.0" cy="196.7" r="2.1"/><circle cx="383.1" cy="189.3" r="2.1"/><circle cx="383.5" cy="191.2" r="2.1"/><circle cx="382.5" cy="193.6" r="2.1"/><circle cx="373.4" cy="206.8" r="2.1"/><circle cx="368.0" cy="190.0" r="2.1"/><circle cx="379.9" cy="193.6" r="2.1"/><circle cx="383.5" cy="192.1" r="2.1"/><circle cx="378.2" cy="184.3" r="2.1"/><circle cx="377.0" cy="201.7" r="2.1"/><circle cx="389.1" cy="183.7" r="2.1"/><circle cx="372.4" cy="204.7" r="2.1"/><circle cx="369.8" cy="195.7" r="2.1"/><circle cx="366.3" cy="188.9" r="2.1"/><circle cx="377.7" cy="204.9" r="2.1"/><circle cx="370.8" cy="200.8" r="2.1"/><circle cx="380.4" cy="200.6" r="2.1"/><circle cx="364.2" cy="183.8" r="2.1"/><circle cx="357.6" cy="155.2" r="2.1"/><circle cx="357.3" cy="170.0" r="2.1"/><circle cx="358.5" cy="167.5" r="2.1"/><circle cx="362.4" cy="187.8" r="2.1"/><circle cx="365.4" cy="180.8" r="2.1"/><circle cx="352.2" cy="158.3" r="2.1"/><circle cx="365.5" cy="186.3" r="2.1"/><circle cx="355.5" cy="177.0" r="2.1"/><circle cx="357.0" cy="165.4" r="2.1"/><circle cx="358.1" cy="141.2" r="2.1"/><circle cx="368.6" cy="183.1" r="2.1"/><circle cx="367.6" cy="185.7" r="2.1"/><circle cx="358.1" cy="137.5" r="2.1"/><circle cx="357.3" cy="172.4" r="2.1"/><circle cx="360.3" cy="180.2" r="2.1"/><circle cx="349.9" cy="139.8" r="2.1"/><circle cx="354.4" cy="164.6" r="2.1"/><circle cx="356.6" cy="143.8" r="2.1"/><circle cx="361.5" cy="177.9" r="2.1"/><circle cx="366.0" cy="178.6" r="2.1"/><circle cx="357.5" cy="142.1" r="2.1"/><circle cx="357.8" cy="156.2" r="2.1"/><circle cx="360.0" cy="184.1" r="2.1"/><circle cx="357.2" cy="129.2" r="2.1"/><circle cx="353.9" cy="171.5" r="2.1"/><circle cx="362.3" cy="184.1" r="2.1"/><circle cx="361.0" cy="174.5" r="2.1"/><circle cx="354.8" cy="92.4" r="2.1"/><circle cx="366.9" cy="186.2" r="2.1"/><circle cx="358.6" cy="166.7" r="2.1"/><circle cx="359.9" cy="172.7" r="2.1"/><circle cx="360.2" cy="107.7" r="2.1"/><circle cx="355.7" cy="88.4" r="2.1"/><circle cx="355.7" cy="157.6" r="2.1"/><circle cx="368.0" cy="183.1" r="2.1"/><circle cx="363.3" cy="178.0" r="2.1"/><circle cx="364.0" cy="183.0" r="2.1"/><circle cx="360.7" cy="179.5" r="2.1"/><circle cx="366.8" cy="183.4" r="2.1"/><circle cx="360.4" cy="182.1" r="2.1"/><circle cx="366.0" cy="186.6" r="2.1"/><circle cx="356.4" cy="143.7" r="2.1"/><circle cx="354.5" cy="146.7" r="2.1"/><circle cx="356.5" cy="169.8" r="2.1"/><circle cx="360.2" cy="177.3" r="2.1"/><circle cx="356.0" cy="165.8" r="2.1"/><circle cx="357.6" cy="178.4" r="2.1"/><circle cx="361.6" cy="158.9" r="2.1"/><circle cx="357.1" cy="151.6" r="2.1"/><circle cx="357.1" cy="133.8" r="2.1"/><circle cx="357.1" cy="113.7" r="2.1"/><circle cx="353.8" cy="121.3" r="2.1"/><circle cx="356.9" cy="84.4" r="2.1"/><circle cx="361.6" cy="174.4" r="2.1"/><circle cx="365.7" cy="188.7" r="2.1"/><circle cx="366.9" cy="189.0" r="2.1"/><circle cx="361.8" cy="170.8" r="2.1"/><circle cx="357.4" cy="120.2" r="2.1"/><circle cx="361.5" cy="143.9" r="2.1"/><circle cx="364.3" cy="181.7" r="2.1"/><circle cx="355.1" cy="129.7" r="2.1"/><circle cx="354.9" cy="168.5" r="2.1"/><circle cx="358.7" cy="46.1" r="2.1"/><circle cx="368.4" cy="181.0" r="2.1"/><circle cx="364.6" cy="185.8" r="2.1"/><circle cx="358.0" cy="124.7" r="2.1"/><circle cx="360.9" cy="181.9" r="2.1"/><circle cx="358.5" cy="173.2" r="2.1"/><circle cx="355.1" cy="133.3" r="2.1"/><circle cx="356.6" cy="139.6" r="2.1"/><circle cx="367.8" cy="183.7" r="2.1"/><circle cx="358.3" cy="119.7" r="2.1"/><circle cx="355.1" cy="136.6" r="2.1"/><circle cx="351.1" cy="94.5" r="2.1"/><circle cx="358.9" cy="158.9" r="2.1"/><circle cx="361.2" cy="169.1" r="2.1"/><circle cx="356.6" cy="144.5" r="2.1"/><circle cx="363.7" cy="181.5" r="2.1"/><circle cx="363.2" cy="183.8" r="2.1"/><circle cx="353.0" cy="161.7" r="2.1"/><circle cx="360.0" cy="175.4" r="2.1"/><circle cx="354.2" cy="164.5" r="2.1"/><circle cx="365.8" cy="181.4" r="2.1"/><circle cx="357.2" cy="166.2" r="2.1"/><circle cx="359.5" cy="180.9" r="2.1"/><circle cx="359.0" cy="169.2" r="2.1"/><circle cx="355.2" cy="139.8" r="2.1"/><circle cx="360.6" cy="149.0" r="2.1"/><circle cx="364.3" cy="184.1" r="2.1"/><circle cx="360.7" cy="178.5" r="2.1"/><circle cx="358.9" cy="124.6" r="2.1"/><circle cx="359.8" cy="170.0" r="2.1"/><circle cx="359.2" cy="83.3" r="2.1"/><circle cx="356.8" cy="152.1" r="2.1"/><circle cx="354.8" cy="125.0" r="2.1"/><circle cx="363.3" cy="183.3" r="2.1"/><circle cx="365.7" cy="186.7" r="2.1"/><circle cx="357.5" cy="142.5" r="2.1"/><circle cx="363.2" cy="156.8" r="2.1"/><circle cx="360.9" cy="169.9" r="2.1"/><circle cx="362.4" cy="173.0" r="2.1"/><circle cx="354.3" cy="139.6" r="2.1"/><circle cx="362.6" cy="182.0" r="2.1"/><circle cx="362.0" cy="187.3" r="2.1"/><circle cx="365.0" cy="187.6" r="2.1"/><circle cx="363.4" cy="178.0" r="2.1"/><circle cx="355.7" cy="101.1" r="2.1"/><circle cx="365.4" cy="185.3" r="2.1"/><circle cx="362.6" cy="187.3" r="2.1"/><circle cx="366.3" cy="186.3" r="2.1"/><circle cx="356.9" cy="162.9" r="2.1"/><circle cx="357.7" cy="166.0" r="2.1"/><circle cx="365.4" cy="183.1" r="2.1"/><circle cx="362.1" cy="169.0" r="2.1"/><circle cx="355.3" cy="173.3" r="2.1"/><circle cx="355.7" cy="153.5" r="2.1"/><circle cx="356.7" cy="80.8" r="2.1"/><circle cx="354.7" cy="77.8" r="2.1"/><circle cx="366.2" cy="188.8" r="2.1"/><circle cx="360.3" cy="171.9" r="2.1"/><circle cx="356.6" cy="173.5" r="2.1"/><circle cx="362.3" cy="173.8" r="2.1"/><circle cx="354.4" cy="165.4" r="2.1"/><circle cx="351.5" cy="74.6" r="2.1"/><circle cx="352.8" cy="172.6" r="2.1"/><circle cx="362.9" cy="122.7" r="2.1"/><circle cx="359.0" cy="113.0" r="2.1"/><circle cx="359.5" cy="169.2" r="2.1"/><circle cx="354.0" cy="175.9" r="2.1"/><circle cx="360.4" cy="171.5" r="2.1"/><circle cx="355.6" cy="163.7" r="2.1"/><circle cx="360.6" cy="160.7" r="2.1"/><circle cx="367.4" cy="182.1" r="2.1"/><circle cx="358.9" cy="124.7" r="2.1"/><circle cx="360.4" cy="174.3" r="2.1"/><circle cx="358.5" cy="153.8" r="2.1"/><circle cx="361.1" cy="157.9" r="2.1"/><circle cx="355.6" cy="158.4" r="2.1"/><circle cx="362.5" cy="156.5" r="2.1"/><circle cx="359.8" cy="182.7" r="2.1"/><circle cx="364.3" cy="184.6" r="2.1"/><circle cx="357.6" cy="120.0" r="2.1"/><circle cx="352.5" cy="69.3" r="2.1"/><circle cx="357.2" cy="149.8" r="2.1"/><circle cx="351.7" cy="150.5" r="2.1"/><circle cx="365.0" cy="176.0" r="2.1"/><circle cx="369.0" cy="185.5" r="2.1"/><circle cx="358.8" cy="134.2" r="2.1"/><circle cx="357.8" cy="119.6" r="2.1"/><circle cx="357.5" cy="172.9" r="2.1"/><circle cx="361.3" cy="177.4" r="2.1"/><circle cx="360.5" cy="176.1" r="2.1"/><circle cx="357.1" cy="150.8" r="2.1"/><circle cx="364.0" cy="185.0" r="2.1"/><circle cx="363.9" cy="182.6" r="2.1"/><circle cx="368.7" cy="188.2" r="2.1"/><circle cx="353.3" cy="125.4" r="2.1"/><circle cx="360.3" cy="173.0" r="2.1"/><circle cx="361.7" cy="120.8" r="2.1"/><circle cx="365.2" cy="179.0" r="2.1"/><circle cx="353.4" cy="163.1" r="2.1"/><circle cx="355.6" cy="160.9" r="2.1"/><circle cx="360.5" cy="143.1" r="2.1"/><circle cx="358.3" cy="164.1" r="2.1"/><circle cx="360.7" cy="154.2" r="2.1"/><circle cx="367.4" cy="186.3" r="2.1"/><circle cx="372.5" cy="187.6" r="2.1"/><circle cx="365.8" cy="182.9" r="2.1"/><circle cx="360.8" cy="147.4" r="2.1"/><circle cx="363.7" cy="180.4" r="2.1"/><circle cx="356.9" cy="156.1" r="2.1"/><circle cx="353.0" cy="161.0" r="2.1"/><circle cx="358.2" cy="143.4" r="2.1"/><circle cx="362.0" cy="179.5" r="2.1"/><circle cx="357.3" cy="167.5" r="2.1"/><circle cx="361.9" cy="181.0" r="2.1"/><circle cx="356.7" cy="162.3" r="2.1"/><circle cx="362.1" cy="177.2" r="2.1"/><circle cx="370.8" cy="188.4" r="2.1"/><circle cx="360.9" cy="175.5" r="2.1"/><circle cx="357.3" cy="143.6" r="2.1"/><circle cx="361.8" cy="111.3" r="2.1"/><circle cx="360.7" cy="188.7" r="2.1"/><circle cx="353.5" cy="136.0" r="2.1"/><circle cx="363.4" cy="184.6" r="2.1"/><circle cx="358.7" cy="183.0" r="2.1"/><circle cx="355.9" cy="150.3" r="2.1"/><circle cx="355.9" cy="126.9" r="2.1"/><circle cx="360.1" cy="118.6" r="2.1"/><circle cx="358.7" cy="157.0" r="2.1"/><circle cx="359.2" cy="189.1" r="2.1"/><circle cx="359.4" cy="174.6" r="2.1"/><circle cx="362.5" cy="164.5" r="2.1"/><circle cx="355.0" cy="78.5" r="2.1"/><circle cx="367.0" cy="185.9" r="2.1"/><circle cx="359.5" cy="173.1" r="2.1"/><circle cx="364.2" cy="181.9" r="2.1"/><circle cx="353.7" cy="167.0" r="2.1"/><circle cx="353.5" cy="164.5" r="2.1"/><circle cx="363.2" cy="183.4" r="2.1"/><circle cx="357.2" cy="143.1" r="2.1"/><circle cx="357.8" cy="74.5" r="2.1"/><circle cx="365.9" cy="185.6" r="2.1"/><circle cx="353.4" cy="169.0" r="2.1"/><circle cx="357.3" cy="155.2" r="2.1"/><circle cx="359.2" cy="111.1" r="2.1"/><circle cx="357.6" cy="139.0" r="2.1"/><circle cx="362.3" cy="188.1" r="2.1"/><circle cx="359.6" cy="135.3" r="2.1"/><circle cx="356.6" cy="153.6" r="2.1"/><circle cx="367.9" cy="183.5" r="2.1"/><circle cx="363.9" cy="187.0" r="2.1"/><circle cx="355.9" cy="145.5" r="2.1"/><circle cx="354.5" cy="157.3" r="2.1"/><circle cx="355.9" cy="91.6" r="2.1"/><circle cx="354.3" cy="63.8" r="2.1"/><circle cx="357.8" cy="152.4" r="2.1"/><circle cx="353.7" cy="137.9" r="2.1"/><circle cx="354.1" cy="135.3" r="2.1"/><circle cx="362.7" cy="181.3" r="2.1"/><circle cx="356.8" cy="150.9" r="2.1"/><circle cx="362.0" cy="186.9" r="2.1"/><circle cx="354.8" cy="144.9" r="2.1"/><circle cx="360.3" cy="183.3" r="2.1"/><circle cx="356.5" cy="110.4" r="2.1"/><circle cx="358.6" cy="183.5" r="2.1"/><circle cx="361.1" cy="177.8" r="2.1"/><circle cx="357.2" cy="57.5" r="2.1"/><circle cx="391.4" cy="187.6" r="2.1"/><circle cx="393.5" cy="185.5" r="2.1"/><circle cx="391.2" cy="170.0" r="2.1"/><circle cx="384.5" cy="191.3" r="2.1"/><circle cx="400.0" cy="160.5" r="2.1"/><circle cx="382.2" cy="189.8" r="2.1"/><circle cx="388.3" cy="181.9" r="2.1"/><circle cx="402.7" cy="135.6" r="2.1"/><circle cx="407.5" cy="146.0" r="2.1"/><circle cx="398.3" cy="144.6" r="2.1"/><circle cx="384.5" cy="183.3" r="2.1"/><circle cx="380.1" cy="192.4" r="2.1"/><circle cx="388.3" cy="190.6" r="2.1"/><circle cx="404.1" cy="129.5" r="2.1"/><circle cx="389.9" cy="180.0" r="2.1"/><circle cx="405.9" cy="136.0" r="2.1"/><circle cx="398.8" cy="165.0" r="2.1"/><circle cx="394.1" cy="181.4" r="2.1"/><circle cx="392.1" cy="146.5" r="2.1"/><circle cx="392.1" cy="171.6" r="2.1"/><circle cx="399.7" cy="181.1" r="2.1"/><circle cx="391.5" cy="171.7" r="2.1"/><circle cx="387.3" cy="173.1" r="2.1"/><circle cx="385.2" cy="184.3" r="2.1"/><circle cx="395.4" cy="122.1" r="2.1"/><circle cx="398.5" cy="170.1" r="2.1"/><circle cx="407.6" cy="126.8" r="2.1"/><circle cx="385.0" cy="191.7" r="2.1"/><circle cx="389.7" cy="169.7" r="2.1"/><circle cx="387.9" cy="181.1" r="2.1"/><circle cx="391.9" cy="184.2" r="2.1"/><circle cx="393.9" cy="173.1" r="2.1"/><circle cx="392.7" cy="177.4" r="2.1"/><circle cx="393.5" cy="155.6" r="2.1"/><circle cx="392.7" cy="155.5" r="2.1"/><circle cx="388.0" cy="185.6" r="2.1"/><circle cx="401.4" cy="162.0" r="2.1"/><circle cx="391.1" cy="149.9" r="2.1"/><circle cx="408.9" cy="101.0" r="2.1"/><circle cx="414.5" cy="86.4" r="2.1"/><circle cx="401.0" cy="163.2" r="2.1"/><circle cx="396.1" cy="168.7" r="2.1"/><circle cx="396.5" cy="141.4" r="2.1"/><circle cx="395.9" cy="168.6" r="2.1"/><circle cx="396.0" cy="167.4" r="2.1"/><circle cx="392.1" cy="163.0" r="2.1"/><circle cx="413.6" cy="118.3" r="2.1"/><circle cx="398.8" cy="161.6" r="2.1"/><circle cx="394.7" cy="177.3" r="2.1"/><circle cx="388.5" cy="187.9" r="2.1"/><circle cx="382.6" cy="186.9" r="2.1"/><circle cx="406.3" cy="121.5" r="2.1"/><circle cx="394.2" cy="166.3" r="2.1"/><circle cx="381.7" cy="192.0" r="2.1"/><circle cx="392.8" cy="182.1" r="2.1"/><circle cx="392.2" cy="183.1" r="2.1"/><circle cx="392.7" cy="167.7" r="2.1"/><circle cx="389.0" cy="185.8" r="2.1"/><circle cx="401.5" cy="121.2" r="2.1"/><circle cx="393.7" cy="172.1" r="2.1"/><circle cx="387.5" cy="176.3" r="2.1"/><circle cx="386.4" cy="166.2" r="2.1"/><circle cx="396.2" cy="151.5" r="2.1"/><circle cx="388.6" cy="192.4" r="2.1"/><circle cx="394.6" cy="172.5" r="2.1"/><circle cx="391.9" cy="176.2" r="2.1"/><circle cx="390.6" cy="180.3" r="2.1"/><circle cx="408.8" cy="126.3" r="2.1"/><circle cx="385.2" cy="170.8" r="2.1"/><circle cx="382.3" cy="165.6" r="2.1"/><circle cx="406.8" cy="112.6" r="2.1"/><circle cx="386.9" cy="167.9" r="2.1"/><circle cx="389.4" cy="171.6" r="2.1"/><circle cx="391.4" cy="190.1" r="2.1"/><circle cx="392.2" cy="178.0" r="2.1"/><circle cx="389.4" cy="178.8" r="2.1"/><circle cx="383.5" cy="183.1" r="2.1"/><circle cx="384.2" cy="182.4" r="2.1"/><circle cx="395.1" cy="170.4" r="2.1"/><circle cx="390.8" cy="178.3" r="2.1"/><circle cx="399.4" cy="165.6" r="2.1"/><circle cx="386.2" cy="173.8" r="2.1"/><circle cx="391.5" cy="184.7" r="2.1"/><circle cx="391.7" cy="151.0" r="2.1"/><circle cx="392.0" cy="163.5" r="2.1"/><circle cx="389.8" cy="170.2" r="2.1"/><circle cx="387.5" cy="180.5" r="2.1"/><circle cx="381.6" cy="183.1" r="2.1"/><circle cx="397.5" cy="157.5" r="2.1"/><circle cx="388.6" cy="187.1" r="2.1"/><circle cx="385.4" cy="183.6" r="2.1"/><circle cx="405.5" cy="130.2" r="2.1"/><circle cx="388.3" cy="191.2" r="2.1"/><circle cx="386.8" cy="183.2" r="2.1"/><circle cx="386.4" cy="176.0" r="2.1"/><circle cx="388.0" cy="191.8" r="2.1"/><circle cx="395.1" cy="168.8" r="2.1"/><circle cx="389.2" cy="183.9" r="2.1"/><circle cx="391.4" cy="173.7" r="2.1"/><circle cx="385.4" cy="191.8" r="2.1"/><circle cx="390.9" cy="178.6" r="2.1"/><circle cx="404.6" cy="148.3" r="2.1"/><circle cx="413.3" cy="130.4" r="2.1"/><circle cx="387.4" cy="185.4" r="2.1"/><circle cx="395.6" cy="170.5" r="2.1"/><circle cx="398.6" cy="160.8" r="2.1"/><circle cx="397.2" cy="166.2" r="2.1"/><circle cx="389.9" cy="178.1" r="2.1"/><circle cx="404.4" cy="131.4" r="2.1"/><circle cx="367.0" cy="134.1" r="2.1"/><circle cx="382.2" cy="66.4" r="2.1"/><circle cx="400.3" cy="166.8" r="2.1"/><circle cx="348.7" cy="126.5" r="2.1"/><circle cx="368.5" cy="171.5" r="2.1"/><circle cx="368.3" cy="57.2" r="2.1"/><circle cx="322.3" cy="122.4" r="2.1"/><circle cx="335.3" cy="175.8" r="2.1"/><circle cx="402.7" cy="174.2" r="2.1"/><circle cx="371.1" cy="85.2" r="2.1"/><circle cx="367.0" cy="127.5" r="2.1"/><circle cx="332.6" cy="175.7" r="2.1"/><circle cx="374.6" cy="96.8" r="2.1"/><circle cx="424.3" cy="133.2" r="2.1"/><circle cx="339.5" cy="150.3" r="2.1"/><circle cx="415.8" cy="54.8" r="2.1"/><circle cx="343.3" cy="93.6" r="2.1"/><circle cx="416.3" cy="83.8" r="2.1"/><circle cx="321.2" cy="121.7" r="2.1"/><circle cx="366.5" cy="168.5" r="2.1"/><circle cx="391.7" cy="146.3" r="2.1"/><circle cx="375.4" cy="123.9" r="2.1"/><circle cx="369.1" cy="84.5" r="2.1"/><circle cx="395.5" cy="128.9" r="2.1"/><circle cx="362.2" cy="113.6" r="2.1"/><circle cx="365.4" cy="151.1" r="2.1"/><circle cx="393.7" cy="154.1" r="2.1"/><circle cx="390.2" cy="118.1" r="2.1"/><circle cx="350.1" cy="66.5" r="2.1"/><circle cx="370.3" cy="166.1" r="2.1"/><circle cx="388.0" cy="54.0" r="2.1"/><circle cx="371.9" cy="80.1" r="2.1"/><circle cx="413.8" cy="111.5" r="2.1"/><circle cx="396.3" cy="81.8" r="2.1"/><circle cx="373.8" cy="91.8" r="2.1"/><circle cx="339.3" cy="81.7" r="2.1"/><circle cx="382.0" cy="76.4" r="2.1"/><circle cx="380.8" cy="76.2" r="2.1"/><circle cx="336.9" cy="157.8" r="2.1"/><circle cx="395.7" cy="112.3" r="2.1"/><circle cx="358.6" cy="186.2" r="2.1"/><circle cx="379.8" cy="59.7" r="2.1"/><circle cx="359.1" cy="172.8" r="2.1"/><circle cx="405.4" cy="70.7" r="2.1"/><circle cx="399.8" cy="175.3" r="2.1"/><circle cx="367.9" cy="90.0" r="2.1"/><circle cx="392.5" cy="82.1" r="2.1"/><circle cx="397.1" cy="176.2" r="2.1"/><circle cx="347.6" cy="141.4" r="2.1"/><circle cx="359.6" cy="158.6" r="2.1"/><circle cx="370.8" cy="120.9" r="2.1"/><circle cx="396.0" cy="145.2" r="2.1"/><circle cx="322.4" cy="67.4" r="2.1"/><circle cx="332.5" cy="119.5" r="2.1"/><circle cx="328.1" cy="80.2" r="2.1"/><circle cx="329.5" cy="43.8" r="2.1"/><circle cx="328.0" cy="43.8" r="2.1"/><circle cx="334.1" cy="43.8" r="2.1"/><circle cx="305.0" cy="43.8" r="2.1"/><circle cx="328.7" cy="43.8" r="2.1"/><circle cx="336.1" cy="43.8" r="2.1"/><circle cx="316.4" cy="43.8" r="2.1"/><circle cx="342.4" cy="43.8" r="2.1"/><circle cx="328.2" cy="43.8" r="2.1"/><circle cx="325.1" cy="43.8" r="2.1"/><circle cx="311.3" cy="43.8" r="2.1"/><circle cx="310.1" cy="43.8" r="2.1"/><circle cx="320.0" cy="43.8" r="2.1"/><circle cx="326.4" cy="43.8" r="2.1"/><circle cx="349.9" cy="43.8" r="2.1"/><circle cx="337.3" cy="43.8" r="2.1"/><circle cx="310.0" cy="43.8" r="2.1"/><circle cx="313.9" cy="43.8" r="2.1"/><circle cx="349.1" cy="43.8" r="2.1"/><circle cx="303.3" cy="43.8" r="2.1"/><circle cx="349.8" cy="43.8" r="2.1"/><circle cx="343.2" cy="43.8" r="2.1"/><circle cx="346.2" cy="43.8" r="2.1"/><circle cx="311.3" cy="43.8" r="2.1"/><circle cx="345.4" cy="43.8" r="2.1"/><circle cx="326.8" cy="43.8" r="2.1"/><circle cx="409.1" cy="43.8" r="2.1"/><circle cx="402.6" cy="43.8" r="2.1"/><circle cx="405.3" cy="43.8" r="2.1"/><circle cx="418.8" cy="43.8" r="2.1"/><circle cx="402.9" cy="43.8" r="2.1"/><circle cx="429.7" cy="43.8" r="2.1"/><circle cx="422.4" cy="43.8" r="2.1"/><circle cx="426.4" cy="43.8" r="2.1"/><circle cx="418.3" cy="43.8" r="2.1"/><circle cx="420.5" cy="43.8" r="2.1"/><circle cx="401.9" cy="43.8" r="2.1"/><circle cx="397.4" cy="43.8" r="2.1"/><circle cx="395.9" cy="43.8" r="2.1"/><circle cx="416.7" cy="43.8" r="2.1"/><circle cx="427.2" cy="43.8" r="2.1"/><circle cx="406.3" cy="43.8" r="2.1"/><circle cx="413.1" cy="43.8" r="2.1"/><circle cx="402.4" cy="43.8" r="2.1"/><circle cx="417.5" cy="43.8" r="2.1"/><circle cx="427.0" cy="43.8" r="2.1"/><circle cx="450.3" cy="43.8" r="2.1"/></g>
<line x1="278.80" y1="188.20" x2="469.80" y2="188.20" stroke="#333" stroke-width="1" stroke-dasharray="4 2.2"/>
<circle cx="311.80" cy="43.80" r="2.2" fill="#2b7bba"/>
<circle cx="333.20" cy="43.80" r="2.2" fill="#2b7bba"/>
<circle cx="348.30" cy="43.80" r="2.2" fill="#2b7bba"/>
<circle cx="415.20" cy="102.30" r="2.2" fill="#e2661b"/>
<circle cx="393.50" cy="118.10" r="2.2" fill="#e2661b"/>
<circle cx="397.00" cy="132.80" r="2.2" fill="#e2661b"/>
<circle cx="359.10" cy="120.90" r="2.2" fill="#2b7bba"/>
<circle cx="353.90" cy="136.70" r="2.2" fill="#2b7bba"/>
<circle cx="338.10" cy="151.40" r="2.2" fill="#2b7bba"/>
<circle cx="361.20" cy="154.20" r="2.2" fill="#2b7bba"/>
<circle cx="354.90" cy="167.50" r="2.2" fill="#2fa12a"/>
<circle cx="356.30" cy="173.50" r="2.2" fill="#2b7bba"/>
<circle cx="366.10" cy="181.90" r="2.2" fill="#2b7bba"/>
<circle cx="352.80" cy="183.60" r="2.2" fill="#2b7bba"/>
<circle cx="393.10" cy="176.60" r="2.2" fill="#e2661b"/>
<circle cx="366.80" cy="186.40" r="2.2" fill="#e2661b"/>
<circle cx="365.10" cy="188.20" r="2.2" fill="#e2661b"/>
<circle cx="366.00" cy="185.00" r="2.2" fill="#e2661b"/>
<circle cx="382.00" cy="193.00" r="2.2" fill="#a6cde3"/>
<circle cx="388.50" cy="189.80" r="2.2" fill="#a6cde3"/>
<circle cx="370.50" cy="198.00" r="2.2" fill="#4a9a8a"/>
<circle cx="372.50" cy="202.00" r="2.2" fill="#5a8a5a"/>
<circle cx="374.50" cy="205.50" r="2.2" fill="#7a7a3a"/>
<circle cx="377.00" cy="201.00" r="2.2" fill="#2fa12a"/>
<circle cx="373.80" cy="208.00" r="2.2" fill="#2f8f6f"/>
<circle cx="378.50" cy="197.00" r="2.2" fill="#d08040"/>
<circle cx="370.00" cy="203.00" r="2.2" fill="#3a8aa0"/>
<circle cx="375.50" cy="209.00" r="2.2" fill="#2fa12a"/>
<circle cx="376.50" cy="206.00" r="2.2" fill="#c07030"/>
<circle cx="380.00" cy="194.00" r="2.2" fill="#d08848"/>
<text x="290.80" y="39.20" font-size="7.0" font-style="italic" fill="#3a86c4">STMN2</text>
<text x="337.40" y="39.20" font-size="7.0" font-style="italic" fill="#3a86c4">RNF144A</text>
<text x="306.60" y="54.00" font-size="7.0" font-style="italic" fill="#3a86c4">ADARB2</text>
<text x="346.90" y="54.00" font-size="7.0" font-style="italic" fill="#3a86c4">PCBP3</text>
<text x="413.40" y="97.10" font-size="7.0" font-style="italic" fill="#e07a30">SIX3</text>
<text x="376.00" y="114.30" font-size="7.0" font-style="italic" fill="#e07a30">TLX1</text>
<text x="379.50" y="142.30" font-size="7.0" font-style="italic" fill="#e07a30">ELK1</text>
<text x="338.10" y="116.40" font-size="7.0" font-style="italic" fill="#3a86c4">KIF26B</text>
<text x="335.30" y="132.20" font-size="7.0" font-style="italic" fill="#3a86c4">AKT3</text>
<text x="309.40" y="146.90" font-size="7.0" font-style="italic" fill="#3a86c4">HS6ST3</text>
<text x="348.60" y="149.70" font-size="7.0" font-style="italic" fill="#3a86c4">ETV5</text>
<text x="324.10" y="164.40" font-size="7.0" font-style="italic" fill="#3aa535">ADCY8</text>
<text x="376.00" y="158.40" font-size="7.0" font-style="italic" fill="#3a86c4">DLGAP1</text>
<text x="365.10" y="172.10" font-size="7.0" font-style="italic" fill="#3a86c4">RAB3GAP1</text>
<text x="326.20" y="182.60" font-size="7.0" font-style="italic" fill="#3a86c4">VSTM4</text>
<text x="389.30" y="186.10" font-size="7.0" font-style="italic" fill="#e07a30">BRINP2</text>
<text x="297.80" y="198.70" font-size="7.0" font-style="italic" fill="#e07a30">EEFSEC</text>
<text x="337.00" y="196.60" font-size="7.0" font-style="italic" fill="#3a86c4">CAMK2D</text>
<text x="337.40" y="211.70" font-size="7.0" font-style="italic" fill="#e07a30">BRD9</text>
<line x1="356.30" y1="173.50" x2="378.00" y2="159.00" stroke="#3a86c4" stroke-width="0.5"/>
<line x1="366.10" y1="181.90" x2="372.00" y2="172.00" stroke="#3a86c4" stroke-width="0.5"/>
<line x1="323.00" y1="195.00" x2="366.80" y2="186.40" stroke="#e07a30" stroke-width="0.5"/>
<line x1="352.00" y1="205.00" x2="365.10" y2="188.20" stroke="#e07a30" stroke-width="0.5"/>
<rect x="278.80" y="26.50" width="191.00" height="191.30" fill="none" stroke="#333" stroke-width="1.1"/>
<line x1="276.80" y1="209.20" x2="278.80" y2="209.20" stroke="#3a3a3a" stroke-width="0.8"/>
<text x="273.40" y="211.80" font-size="7.7" text-anchor="end" fill="#333">0</text>
<line x1="276.80" y1="192.66" x2="278.80" y2="192.66" stroke="#3a3a3a" stroke-width="0.8"/>
<text x="273.40" y="195.26" font-size="7.7" text-anchor="end" fill="#333">1</text>
<line x1="276.80" y1="176.12" x2="278.80" y2="176.12" stroke="#3a3a3a" stroke-width="0.8"/>
<text x="273.40" y="178.72" font-size="7.7" text-anchor="end" fill="#333">2</text>
<line x1="276.80" y1="159.58" x2="278.80" y2="159.58" stroke="#3a3a3a" stroke-width="0.8"/>
<text x="273.40" y="162.18" font-size="7.7" text-anchor="end" fill="#333">3</text>
<line x1="276.80" y1="143.04" x2="278.80" y2="143.04" stroke="#3a3a3a" stroke-width="0.8"/>
<text x="273.40" y="145.64" font-size="7.7" text-anchor="end" fill="#333">4</text>
<line x1="276.80" y1="126.50" x2="278.80" y2="126.50" stroke="#3a3a3a" stroke-width="0.8"/>
<text x="273.40" y="129.10" font-size="7.7" text-anchor="end" fill="#333">5</text>
<line x1="276.80" y1="109.96" x2="278.80" y2="109.96" stroke="#3a3a3a" stroke-width="0.8"/>
<text x="273.40" y="112.56" font-size="7.7" text-anchor="end" fill="#333">6</text>
<line x1="276.80" y1="93.42" x2="278.80" y2="93.42" stroke="#3a3a3a" stroke-width="0.8"/>
<text x="273.40" y="96.02" font-size="7.7" text-anchor="end" fill="#333">7</text>
<line x1="276.80" y1="76.88" x2="278.80" y2="76.88" stroke="#3a3a3a" stroke-width="0.8"/>
<text x="273.40" y="79.48" font-size="7.7" text-anchor="end" fill="#333">8</text>
<line x1="276.80" y1="60.34" x2="278.80" y2="60.34" stroke="#3a3a3a" stroke-width="0.8"/>
<text x="273.40" y="62.94" font-size="7.7" text-anchor="end" fill="#333">9</text>
<line x1="276.80" y1="43.80" x2="278.80" y2="43.80" stroke="#3a3a3a" stroke-width="0.8"/>
<text x="273.40" y="46.40" font-size="7.7" text-anchor="end" fill="#333">10</text>
<line x1="288.70" y1="217.80" x2="288.70" y2="219.80" stroke="#3a3a3a" stroke-width="0.8"/>
<text x="288.70" y="229.80" font-size="7.3" text-anchor="middle" fill="#333">−4</text>
<line x1="310.25" y1="217.80" x2="310.25" y2="219.80" stroke="#3a3a3a" stroke-width="0.8"/>
<text x="310.25" y="229.80" font-size="7.3" text-anchor="middle" fill="#333">−3</text>
<line x1="331.80" y1="217.80" x2="331.80" y2="219.80" stroke="#3a3a3a" stroke-width="0.8"/>
<text x="331.80" y="229.80" font-size="7.3" text-anchor="middle" fill="#333">−2</text>
<line x1="353.35" y1="217.80" x2="353.35" y2="219.80" stroke="#3a3a3a" stroke-width="0.8"/>
<text x="353.35" y="229.80" font-size="7.3" text-anchor="middle" fill="#333">−1</text>
<line x1="374.90" y1="217.80" x2="374.90" y2="219.80" stroke="#3a3a3a" stroke-width="0.8"/>
<text x="374.90" y="229.80" font-size="7.3" text-anchor="middle" fill="#333">0</text>
<line x1="396.45" y1="217.80" x2="396.45" y2="219.80" stroke="#3a3a3a" stroke-width="0.8"/>
<text x="396.45" y="229.80" font-size="7.3" text-anchor="middle" fill="#333">1</text>
<line x1="418.00" y1="217.80" x2="418.00" y2="219.80" stroke="#3a3a3a" stroke-width="0.8"/>
<text x="418.00" y="229.80" font-size="7.3" text-anchor="middle" fill="#333">2</text>
<line x1="439.55" y1="217.80" x2="439.55" y2="219.80" stroke="#3a3a3a" stroke-width="0.8"/>
<text x="439.55" y="229.80" font-size="7.3" text-anchor="middle" fill="#333">3</text>
<line x1="461.10" y1="217.80" x2="461.10" y2="219.80" stroke="#3a3a3a" stroke-width="0.8"/>
<text x="461.10" y="229.80" font-size="7.3" text-anchor="middle" fill="#333">4</text>
<text x="289.90" y="244.40" font-size="8.6" textLength="170.2" lengthAdjust="spacingAndGlyphs">Ribo-seq log<tspan font-size="5.5" dy="1.8">2</tspan><tspan dy="-1.8"> fold change (TDP-43KD/Ctrl)</tspan></text>
<text x="258.80" y="122.90" font-size="8.8" text-anchor="middle" textLength="46.2" lengthAdjust="spacingAndGlyphs" transform="rotate(-90 258.80 122.90)">−log<tspan font-size="6" dy="1.8">10</tspan><tspan dy="-1.8">(Padj)</tspan></text>
<text x="570.80" y="42.80" font-size="8.6" text-anchor="middle" textLength="30.9" lengthAdjust="spacingAndGlyphs">Control</text>
<text x="622.90" y="42.80" font-size="8.6" text-anchor="middle" textLength="37.4" lengthAdjust="spacingAndGlyphs">TDP43KD</text>
<line x1="545.80" y1="45.60" x2="596.10" y2="45.60" stroke="#444" stroke-width="0.8"/>
<line x1="598.20" y1="45.60" x2="649.10" y2="45.60" stroke="#444" stroke-width="0.8"/>
<defs><filter id="bl1" x="-10%" y="-50%" width="120%" height="200%"><feGaussianBlur stdDeviation="0.9 0.6"/></filter><filter id="bl2" x="-20%" y="-20%" width="140%" height="140%"><feGaussianBlur stdDeviation="1.1"/></filter><filter id="bl3" x="-50%" y="-50%" width="200%" height="200%"><feGaussianBlur stdDeviation="0.35"/></filter></defs>
<rect x="545.90" y="47.60" width="104.60" height="9.80" fill="#dedede"/>
<rect x="545.90" y="62.20" width="104.60" height="10.60" fill="#dadada"/>
<rect x="545.90" y="78.50" width="104.60" height="9.80" fill="#e6e6e6"/>
<g filter="url(#bl1)"><rect x="546.9" y="50.6" width="11.7" height="3.4" rx="1.5" fill="#bdbdbd"/><rect x="546.9" y="67.8" width="11.7" height="3.4" rx="1.5" fill="#8a8a8a"/><rect x="546.4" y="82.0" width="12.5" height="4.0" rx="1.5" fill="#111"/><rect x="560.0" y="50.6" width="11.7" height="3.4" rx="1.5" fill="#c4c4c4"/><rect x="560.0" y="67.8" width="11.7" height="3.4" rx="1.5" fill="#767676"/><rect x="559.5" y="82.0" width="12.5" height="4.0" rx="1.5" fill="#111"/><rect x="573.0" y="50.6" width="11.7" height="3.4" rx="1.5" fill="#c0c0c0"/><rect x="573.0" y="67.8" width="11.7" height="3.4" rx="1.5" fill="#555"/><rect x="572.5" y="82.0" width="12.5" height="4.0" rx="1.5" fill="#111"/><rect x="586.1" y="50.6" width="11.7" height="3.4" rx="1.5" fill="#c8c8c8"/><rect x="586.1" y="67.8" width="11.7" height="3.4" rx="1.5" fill="#a8a8a8"/><rect x="585.6" y="82.0" width="12.5" height="4.0" rx="1.5" fill="#111"/><rect x="599.0" y="50.2" width="12.1" height="4.4" rx="1.8" fill="#0c0c0c"/><rect x="599.2" y="68.2" width="11.7" height="2.8" rx="1.4" fill="#cdcdcd"/><rect x="598.7" y="82.0" width="12.5" height="4.0" rx="1.5" fill="#111"/><rect x="612.1" y="50.2" width="12.1" height="4.4" rx="1.8" fill="#0c0c0c"/><rect x="612.3" y="68.2" width="11.7" height="2.8" rx="1.4" fill="#d0d0d0"/><rect x="611.8" y="82.0" width="12.5" height="4.0" rx="1.5" fill="#111"/><rect x="625.1" y="50.2" width="12.1" height="4.4" rx="1.8" fill="#0c0c0c"/><rect x="625.4" y="68.2" width="11.7" height="2.8" rx="1.4" fill="#cacaca"/><rect x="624.9" y="82.0" width="12.5" height="4.0" rx="1.5" fill="#111"/><rect x="638.2" y="50.2" width="12.1" height="4.4" rx="1.8" fill="#0c0c0c"/><rect x="638.4" y="68.2" width="11.7" height="2.8" rx="1.4" fill="#c6c6c6"/><path d="M637.5,82 Q645,82 649.8,78.8 L649.8,84.5 Q645,86 637.5,86 Z" fill="#111"/></g>
<rect x="545.90" y="47.60" width="104.60" height="9.80" fill="none" stroke="#222" stroke-width="0.9"/>
<rect x="545.90" y="62.20" width="104.60" height="10.60" fill="none" stroke="#222" stroke-width="0.9"/>
<rect x="545.90" y="78.50" width="104.60" height="9.80" fill="none" stroke="#222" stroke-width="0.9"/>
<text x="542.30" y="55.60" font-size="8.7" text-anchor="end">ELK1</text>
<text x="542.30" y="69.60" font-size="8.7" text-anchor="end" textLength="50.6" lengthAdjust="spacingAndGlyphs">Halo-TDP-43</text>
<text x="542.30" y="85.50" font-size="8.7" text-anchor="end" textLength="29.7" lengthAdjust="spacingAndGlyphs">Tubulin</text>
<line x1="650.50" y1="48.80" x2="653.50" y2="48.80" stroke="#444" stroke-width="0.7"/>
<text x="657.20" y="51.30" font-size="7.2" fill="#333">70 kDa</text>
<line x1="650.50" y1="64.30" x2="653.50" y2="64.30" stroke="#444" stroke-width="0.7"/>
<text x="655.20" y="66.80" font-size="7.2" fill="#333">100 kDa</text>
<line x1="650.50" y1="84.70" x2="653.50" y2="84.70" stroke="#444" stroke-width="0.7"/>
<text x="657.20" y="87.20" font-size="7.2" fill="#333">55 kDa</text>
<rect x="536.50" y="95.80" width="126.90" height="122.10" fill="#fff"/>
<line x1="536.50" y1="214.36" x2="663.40" y2="214.36" stroke="#efefef" stroke-width="1"/>
<line x1="536.50" y1="206.53" x2="663.40" y2="206.53" stroke="#e4e4e4" stroke-width="2"/>
<line x1="536.50" y1="198.69" x2="663.40" y2="198.69" stroke="#efefef" stroke-width="1"/>
<line x1="536.50" y1="190.86" x2="663.40" y2="190.86" stroke="#e4e4e4" stroke-width="2"/>
<line x1="536.50" y1="183.02" x2="663.40" y2="183.02" stroke="#efefef" stroke-width="1"/>
<line x1="536.50" y1="175.19" x2="663.40" y2="175.19" stroke="#e4e4e4" stroke-width="2"/>
<line x1="536.50" y1="167.35" x2="663.40" y2="167.35" stroke="#efefef" stroke-width="1"/>
<line x1="536.50" y1="159.52" x2="663.40" y2="159.52" stroke="#e4e4e4" stroke-width="2"/>
<line x1="536.50" y1="151.69" x2="663.40" y2="151.69" stroke="#efefef" stroke-width="1"/>
<line x1="536.50" y1="143.85" x2="663.40" y2="143.85" stroke="#e4e4e4" stroke-width="2"/>
<line x1="536.50" y1="136.01" x2="663.40" y2="136.01" stroke="#efefef" stroke-width="1"/>
<line x1="536.50" y1="128.18" x2="663.40" y2="128.18" stroke="#e4e4e4" stroke-width="2"/>
<line x1="536.50" y1="120.34" x2="663.40" y2="120.34" stroke="#efefef" stroke-width="1"/>
<line x1="536.50" y1="112.51" x2="663.40" y2="112.51" stroke="#e4e4e4" stroke-width="2"/>
<line x1="536.50" y1="104.67" x2="663.40" y2="104.67" stroke="#efefef" stroke-width="1"/>
<line x1="536.50" y1="96.84" x2="663.40" y2="96.84" stroke="#e4e4e4" stroke-width="2"/>
<line x1="571.60" y1="95.80" x2="571.60" y2="217.90" stroke="#e4e4e4" stroke-width="2"/>
<line x1="628.80" y1="95.80" x2="628.80" y2="217.90" stroke="#e4e4e4" stroke-width="2"/>
<rect x="536.50" y="95.80" width="126.90" height="122.10" fill="none" stroke="#777" stroke-width="0.8"/>
<line x1="534.00" y1="206.53" x2="536.50" y2="206.53" stroke="#555" stroke-width="0.7"/>
<text x="529.60" y="208.93" font-size="6.8" text-anchor="end" fill="#333">1</text>
<line x1="534.00" y1="190.86" x2="536.50" y2="190.86" stroke="#555" stroke-width="0.7"/>
<text x="529.60" y="193.26" font-size="6.8" text-anchor="end" fill="#333">2</text>
<line x1="534.00" y1="175.19" x2="536.50" y2="175.19" stroke="#555" stroke-width="0.7"/>
<text x="529.60" y="177.59" font-size="6.8" text-anchor="end" fill="#333">3</text>
<line x1="534.00" y1="159.52" x2="536.50" y2="159.52" stroke="#555" stroke-width="0.7"/>
<text x="529.60" y="161.92" font-size="6.8" text-anchor="end" fill="#333">4</text>
<line x1="534.00" y1="143.85" x2="536.50" y2="143.85" stroke="#555" stroke-width="0.7"/>
<text x="529.60" y="146.25" font-size="6.8" text-anchor="end" fill="#333">5</text>
<line x1="534.00" y1="128.18" x2="536.50" y2="128.18" stroke="#555" stroke-width="0.7"/>
<text x="529.60" y="130.58" font-size="6.8" text-anchor="end" fill="#333">6</text>
<line x1="534.00" y1="112.51" x2="536.50" y2="112.51" stroke="#555" stroke-width="0.7"/>
<text x="529.60" y="114.91" font-size="6.8" text-anchor="end" fill="#333">7</text>
<line x1="534.00" y1="96.84" x2="536.50" y2="96.84" stroke="#555" stroke-width="0.7"/>
<text x="529.60" y="99.24" font-size="6.8" text-anchor="end" fill="#333">8</text>
<circle cx="566.20" cy="207.30" r="1.8" fill="#000"/>
<circle cx="569.40" cy="210.80" r="1.8" fill="#000"/>
<circle cx="571.80" cy="208.40" r="1.8" fill="#000"/>
<circle cx="581.00" cy="212.70" r="1.8" fill="#000"/>
<circle cx="618.30" cy="115.00" r="1.8" fill="#000"/>
<circle cx="638.00" cy="100.70" r="1.8" fill="#000"/>
<circle cx="637.70" cy="123.60" r="1.8" fill="#000"/>
<circle cx="635.60" cy="143.10" r="1.8" fill="#000"/>
<text x="570.75" y="230.80" font-size="8.6" text-anchor="middle" textLength="29.7" lengthAdjust="spacingAndGlyphs">Control</text>
<text x="629.20" y="230.80" font-size="8.6" text-anchor="middle" textLength="37" lengthAdjust="spacingAndGlyphs">TDP43KD</text>
<text x="518.10" y="156.50" font-size="7.6" text-anchor="middle" textLength="77.6" lengthAdjust="spacingAndGlyphs" transform="rotate(-90 518.10 156.50)">Relative expression</text>
<rect x="15.00" y="297.90" width="2.60" height="7.70" fill="#8e8e8e"/>
<path d="M21.6,305.6 L21.6,298.8 L23.1,299.2 L25.8,297.5 L27.7,296.8 L29.7,298.1 L31.7,298.8 L33.6,297.5 L35.0,297.1 L36.3,298.8 L38.2,301.4 L40.9,297.5 L42.8,297.1 L44.8,298.8 L47.4,300.8 L49.4,301.4 L51.4,298.1 L54.0,293.9 L56.0,294.9 L58.0,297.5 L59.9,295.2 L61.9,298.1 L63.2,296.8 L65.8,297.1 L67.2,303.4 L68.5,305.4 L70.4,305.4 L72.4,302.1 L74.4,299.2 L76.4,300.1 L78.3,301.4 L80.9,302.1 L83.6,302.1 L85.5,302.7 L87.5,304.7 L90.1,305.6 L90.1,305.6 Z" fill="#8e8e8e"/>
<line x1="88.00" y1="305.40" x2="279.50" y2="305.40" stroke="#d8d8d8" stroke-width="0.6"/>
<rect x="15.00" y="326.80" width="2.60" height="8.10" fill="#d8b265"/>
<path d="M21.6,334.9 L21.6,327.0 L24.5,327.3 L26.4,326.4 L29.1,326.0 L31.0,327.7 L33.0,326.4 L35.0,325.5 L36.3,327.0 L38.2,330.3 L40.2,325.1 L42.2,324.4 L44.2,326.0 L46.8,327.0 L48.8,329.0 L50.1,327.0 L52.0,323.1 L54.0,322.8 L56.0,323.8 L58.0,324.4 L59.9,323.1 L61.9,325.7 L63.9,324.4 L65.8,325.7 L67.5,331.6 L69.1,333.4 L70.7,333.0 L72.4,327.0 L74.4,326.4 L76.4,327.7 L78.3,328.4 L80.9,329.0 L83.6,329.0 L86.2,329.7 L88.8,329.4 L91.5,329.0 L94.1,327.7 L96.7,327.0 L100.0,326.8 L87.3,329.8 L89.7,328.6 L92.0,329.2 L94.3,328.0 L96.7,327.1 L100.2,326.3 L102.5,324.5 L105.4,322.4 L107.8,323.9 L110.1,325.5 L111.9,326.9 L113.6,324.5 L116.5,323.9 L118.9,324.5 L120.6,323.4 L122.4,323.1 L124.1,325.1 L125.9,326.9 L127.6,326.9 L128.8,325.5 L131.1,325.5 L132.9,326.3 L135.2,327.4 L137.0,325.1 L138.7,324.3 L141.1,325.1 L143.4,328.0 L145.7,325.9 L148.1,325.5 L150.4,325.7 L152.7,325.1 L155.1,324.8 L156.8,326.3 L158.6,327.4 L160.9,326.3 L163.2,325.1 L165.0,325.1 L166.3,323.8 L170.7,322.7 L175.0,323.8 L179.4,326.0 L183.8,328.6 L188.2,329.3 L192.6,327.1 L194.7,328.2 L198.0,329.3 L203.5,328.6 L207.9,327.7 L212.3,322.7 L215.5,323.4 L218.8,324.9 L222.1,322.7 L225.4,324.9 L229.8,324.9 L234.2,323.8 L238.5,324.9 L242.9,323.8 L244.7,324.9 L246.2,331.5 L247.7,333.6 L249.5,332.6 L253.9,332.1 L258.2,330.8 L262.6,329.9 L267.0,330.4 L270.3,328.6 L272.5,330.4 L275.8,332.6 L279.5,333.6 L279.5,334.9 Z" fill="#d8b265"/>
<text x="192.10" y="302.20" font-size="8.3" fill="#a0a0a0" textLength="87.4" lengthAdjust="spacingAndGlyphs"><tspan font-style="italic">ELK1</tspan>  3’Ext HeLa CTRL</text>
<text x="203.00" y="321.20" font-size="8.3" fill="#d8b265" textLength="76.5" lengthAdjust="spacingAndGlyphs"><tspan font-style="italic">ELK1</tspan> 3’Ext HeLa KO</text>
<text x="23.90" y="348.20" font-size="8.4" textLength="80.5" lengthAdjust="spacingAndGlyphs">HeLa ELK1 ChIP-seq</text>
<text x="177.80" y="348.20" font-size="8.4" textLength="66.5" lengthAdjust="spacingAndGlyphs">HeLa TDP-43 KO</text>
<text x="133.60" y="356.30" font-size="7" text-anchor="middle">+</text>
<text x="39.60" y="367.60" font-size="8.4" textLength="51.5" lengthAdjust="spacingAndGlyphs">Target genes</text>
<text x="155.80" y="367.60" font-size="8.4" textLength="110.9" lengthAdjust="spacingAndGlyphs">Differential gene expression</text>
<text x="32.60" y="381.10" font-size="8.4" fill="#111" textLength="133.4" lengthAdjust="spacingAndGlyphs">NES = −1.442841, <tspan font-style="italic">P</tspan>adj = 0.001286</text>
<line x1="32.80" y1="393.05" x2="280.00" y2="393.05" stroke="#e8e8e8" stroke-width="0.9"/>
<line x1="32.80" y1="412.75" x2="280.00" y2="412.75" stroke="#e8e8e8" stroke-width="0.9"/>
<line x1="32.80" y1="422.60" x2="280.00" y2="422.60" stroke="#e8e8e8" stroke-width="0.9"/>
<line x1="32.80" y1="432.45" x2="280.00" y2="432.45" stroke="#e8e8e8" stroke-width="0.9"/>
<line x1="44.50" y1="383.00" x2="44.50" y2="441.00" stroke="#e8e8e8" stroke-width="0.9"/>
<line x1="110.60" y1="383.00" x2="110.60" y2="441.00" stroke="#e8e8e8" stroke-width="0.9"/>
<line x1="176.70" y1="383.00" x2="176.70" y2="441.00" stroke="#e8e8e8" stroke-width="0.9"/>
<line x1="242.80" y1="383.00" x2="242.80" y2="441.00" stroke="#e8e8e8" stroke-width="0.9"/>
<path d="M47.5,399.7V406.1M47.7,399.7V406.1M48.2,399.7V406.1M48.4,399.7V406.1M49.0,399.7V406.1M49.6,399.7V406.1M49.6,399.7V406.1M49.6,399.7V406.1M50.7,399.7V406.1M50.9,399.7V406.1M51.0,399.7V406.1M54.3,399.7V406.1M54.7,399.7V406.1M55.7,399.7V406.1M56.1,399.7V406.1M56.7,399.7V406.1M56.9,399.7V406.1M57.8,399.7V406.1M59.7,399.7V406.1M60.4,399.7V406.1M61.6,399.7V406.1M62.7,399.7V406.1M62.7,399.7V406.1M64.0,399.7V406.1M64.9,399.7V406.1M65.2,399.7V406.1M65.2,399.7V406.1M67.1,399.7V406.1M67.7,399.7V406.1M68.8,399.7V406.1M70.8,399.7V406.1M71.9,399.7V406.1M74.3,399.7V406.1M74.8,399.7V406.1M76.3,399.7V406.1M76.8,399.7V406.1M79.3,399.7V406.1M81.3,399.7V406.1M81.4,399.7V406.1M81.5,399.7V406.1M81.8,399.7V406.1M84.9,399.7V406.1M85.4,399.7V406.1M86.3,399.7V406.1M86.6,399.7V406.1M87.3,399.7V406.1M88.1,399.7V406.1M88.8,399.7V406.1M90.1,399.7V406.1M91.5,399.7V406.1M95.3,399.7V406.1M97.1,399.7V406.1M101.3,399.7V406.1M104.4,399.7V406.1M111.8,399.7V406.1M113.6,399.7V406.1M113.9,399.7V406.1M117.0,399.7V406.1M122.3,399.7V406.1M126.0,399.7V406.1M127.4,399.7V406.1M129.3,399.7V406.1M129.7,399.7V406.1M132.6,399.7V406.1M133.8,399.7V406.1M134.3,399.7V406.1M134.4,399.7V406.1M137.2,399.7V406.1M143.8,399.7V406.1M144.0,399.7V406.1M146.3,399.7V406.1M147.1,399.7V406.1M147.3,399.7V406.1M147.8,399.7V406.1M150.0,399.7V406.1M153.0,399.7V406.1M153.0,399.7V406.1M154.4,399.7V406.1M154.5,399.7V406.1M156.3,399.7V406.1M156.9,399.7V406.1M160.0,399.7V406.1M165.7,399.7V406.1M166.8,399.7V406.1M176.2,399.7V406.1M176.8,399.7V406.1M176.9,399.7V406.1M178.2,399.7V406.1M178.3,399.7V406.1M178.6,399.7V406.1M179.3,399.7V406.1M180.7,399.7V406.1M181.0,399.7V406.1M181.0,399.7V406.1M184.0,399.7V406.1M184.2,399.7V406.1M186.6,399.7V406.1M188.2,399.7V406.1M188.5,399.7V406.1M189.0,399.7V406.1M189.5,399.7V406.1M190.3,399.7V406.1M190.9,399.7V406.1M191.5,399.7V406.1M192.2,399.7V406.1M194.3,399.7V406.1M194.8,399.7V406.1M195.2,399.7V406.1M196.1,399.7V406.1M196.3,399.7V406.1M196.6,399.7V406.1M199.4,399.7V406.1M199.9,399.7V406.1M200.5,399.7V406.1M200.5,399.7V406.1M200.9,399.7V406.1M201.5,399.7V406.1M201.5,399.7V406.1M202.2,399.7V406.1M202.9,399.7V406.1M203.0,399.7V406.1M203.7,399.7V406.1M204.2,399.7V406.1M205.0,399.7V406.1M205.3,399.7V406.1M206.2,399.7V406.1M207.2,399.7V406.1M207.2,399.7V406.1M207.2,399.7V406.1M208.1,399.7V406.1M210.5,399.7V406.1M210.7,399.7V406.1M211.1,399.7V406.1M211.8,399.7V406.1M212.0,399.7V406.1M212.4,399.7V406.1M212.7,399.7V406.1M213.0,399.7V406.1M213.6,399.7V406.1M213.9,399.7V406.1M214.2,399.7V406.1M215.3,399.7V406.1M215.3,399.7V406.1M216.0,399.7V406.1M216.9,399.7V406.1M217.2,399.7V406.1M217.4,399.7V406.1M218.6,399.7V406.1M218.8,399.7V406.1M218.9,399.7V406.1M219.3,399.7V406.1M220.2,399.7V406.1M220.3,399.7V406.1M220.6,399.7V406.1M220.9,399.7V406.1M222.2,399.7V406.1M222.6,399.7V406.1M224.0,399.7V406.1M224.1,399.7V406.1M224.4,399.7V406.1M225.2,399.7V406.1M226.7,399.7V406.1M227.2,399.7V406.1M227.4,399.7V406.1M227.5,399.7V406.1M228.0,399.7V406.1M228.2,399.7V406.1M229.4,399.7V406.1M230.7,399.7V406.1M230.8,399.7V406.1M231.1,399.7V406.1M232.3,399.7V406.1M233.0,399.7V406.1M234.2,399.7V406.1M234.5,399.7V406.1M234.6,399.7V406.1M234.9,399.7V406.1M236.0,399.7V406.1M236.2,399.7V406.1M236.6,399.7V406.1M236.9,399.7V406.1M237.3,399.7V406.1M237.7,399.7V406.1M239.6,399.7V406.1M239.7,399.7V406.1M239.7,399.7V406.1M241.8,399.7V406.1M243.3,399.7V406.1M246.5,399.7V406.1M246.9,399.7V406.1M249.1,399.7V406.1M251.0,399.7V406.1M251.2,399.7V406.1M252.2,399.7V406.1M253.5,399.7V406.1M254.3,399.7V406.1M254.8,399.7V406.1M255.0,399.7V406.1M255.3,399.7V406.1M255.5,399.7V406.1M255.6,399.7V406.1M256.2,399.7V406.1M256.5,399.7V406.1M257.7,399.7V406.1M257.7,399.7V406.1M259.4,399.7V406.1M260.3,399.7V406.1M262.2,399.7V406.1M263.8,399.7V406.1M265.5,399.7V406.1" stroke="#333" stroke-width="0.45" stroke-opacity="0.75"/>
<line x1="32.80" y1="402.80" x2="280.00" y2="402.80" stroke="#111" stroke-width="1.5"/>
<line x1="156.40" y1="385.00" x2="156.40" y2="441.00" stroke="#333" stroke-width="0.8" stroke-dasharray="2.2 1.6"/>
<path d="M44.5,402.9 L45.3,398.0 L46.1,393.0 L48.5,392.1 L51.1,390.1 L55.1,388.1 L57.7,386.6 L64.3,385.6 L70.9,386.0 L77.6,386.2 L84.2,386.8 L90.8,388.1 L97.4,389.8 L104.0,392.1 L110.6,394.5 L117.2,397.2 L123.8,399.9 L127.8,401.9 L137.0,406.3 L150.3,412.8 L163.5,418.9 L176.7,424.4 L189.9,429.3 L203.1,433.4 L216.4,436.4 L225.6,437.7 L233.5,437.9 L237.5,436.9 L242.8,432.4 L249.4,428.0 L256.0,423.6 L260.0,421.1 L262.6,414.7 L264.6,410.8 L266.6,406.8 L267.7,402.9" fill="none" stroke="#1ee61e" stroke-width="1.3" stroke-linejoin="round"/>
<line x1="32.80" y1="385.90" x2="280.00" y2="385.90" stroke="#ee1c1c" stroke-width="1.2" stroke-dasharray="4.2 2.6"/>
<line x1="32.80" y1="438.40" x2="280.00" y2="438.40" stroke="#ee1c1c" stroke-width="1.2" stroke-dasharray="4.2 2.6"/>
<text x="112.20" y="393.60" font-size="6.8" textLength="38.1" lengthAdjust="spacingAndGlyphs">Upregulated</text>
<text x="158.80" y="393.60" font-size="6.8" textLength="47.8" lengthAdjust="spacingAndGlyphs">Downregulated</text>
<text x="44.50" y="412.30" font-size="6.8" textLength="40.2" lengthAdjust="spacingAndGlyphs">Target genes</text>
<line x1="30.60" y1="393.05" x2="32.80" y2="393.05" stroke="#444" stroke-width="0.7"/>
<text x="26.50" y="395.65" font-size="7.3" text-anchor="end" fill="#333">0.1</text>
<line x1="30.60" y1="402.90" x2="32.80" y2="402.90" stroke="#444" stroke-width="0.7"/>
<text x="26.50" y="405.50" font-size="7.3" text-anchor="end" fill="#333">0</text>
<line x1="30.60" y1="412.75" x2="32.80" y2="412.75" stroke="#444" stroke-width="0.7"/>
<text x="26.50" y="415.35" font-size="7.3" text-anchor="end" fill="#333">−0.1</text>
<line x1="30.60" y1="422.60" x2="32.80" y2="422.60" stroke="#444" stroke-width="0.7"/>
<text x="26.50" y="425.20" font-size="7.3" text-anchor="end" fill="#333">−0.2</text>
<line x1="30.60" y1="432.45" x2="32.80" y2="432.45" stroke="#444" stroke-width="0.7"/>
<text x="26.50" y="435.05" font-size="7.3" text-anchor="end" fill="#333">−0.3</text>
<text x="44.50" y="450.90" font-size="7.6" text-anchor="middle" fill="#333">0</text>
<text x="110.60" y="450.90" font-size="7.6" text-anchor="middle" fill="#333">5,000</text>
<text x="176.70" y="450.90" font-size="7.6" text-anchor="middle" fill="#333">10,000</text>
<text x="242.80" y="450.90" font-size="7.6" text-anchor="middle" fill="#333">15,000</text>
<text x="156.60" y="465.40" font-size="8.8" text-anchor="middle">Gene log<tspan font-size="6" dy="1.8">2</tspan><tspan dy="-1.8"> fold change ranks</tspan></text>
<text x="7.90" y="411.60" font-size="9.0" text-anchor="middle" textLength="70.5" lengthAdjust="spacingAndGlyphs" transform="rotate(-90 7.90 411.60)">Enrichment score</text>
<line x1="164.50" y1="491.80" x2="170.80" y2="491.80" stroke="#a0a0a0" stroke-width="1.6"/>
<text x="174.30" y="494.40" font-size="7.2" fill="#333">Ctrl</text>
<line x1="197.80" y1="491.80" x2="204.80" y2="491.80" stroke="#e8a010" stroke-width="1.6"/>
<text x="209.40" y="494.40" font-size="7.2" fill="#333" textLength="32.2" lengthAdjust="spacingAndGlyphs">TDP43KD</text>
<rect x="35.80" y="500.30" width="107.20" height="12.50" fill="#fff" stroke="#777" stroke-width="0.8"/>
<text x="89.40" y="509.60" font-size="8.2" text-anchor="middle" font-style="italic">ELK1</text>
<line x1="35.80" y1="512.80" x2="35.80" y2="592.30" stroke="#444" stroke-width="0.9"/>
<line x1="35.80" y1="592.30" x2="143.00" y2="592.30" stroke="#444" stroke-width="0.9"/>
<line x1="33.80" y1="588.60" x2="35.80" y2="588.60" stroke="#444" stroke-width="0.7"/>
<text x="31.20" y="591.30" font-size="7.9" text-anchor="end" fill="#333" textLength="4.6" lengthAdjust="spacingAndGlyphs">0</text>
<line x1="33.80" y1="576.53" x2="35.80" y2="576.53" stroke="#444" stroke-width="0.7"/>
<text x="31.20" y="579.23" font-size="7.9" text-anchor="end" fill="#333" textLength="13.8" lengthAdjust="spacingAndGlyphs">250</text>
<line x1="33.80" y1="564.47" x2="35.80" y2="564.47" stroke="#444" stroke-width="0.7"/>
<text x="31.20" y="567.17" font-size="7.9" text-anchor="end" fill="#333" textLength="13.8" lengthAdjust="spacingAndGlyphs">500</text>
<line x1="33.80" y1="552.40" x2="35.80" y2="552.40" stroke="#444" stroke-width="0.7"/>
<text x="31.20" y="555.10" font-size="7.9" text-anchor="end" fill="#333" textLength="13.8" lengthAdjust="spacingAndGlyphs">750</text>
<line x1="33.80" y1="540.33" x2="35.80" y2="540.33" stroke="#444" stroke-width="0.7"/>
<text x="31.20" y="543.03" font-size="7.9" text-anchor="end" fill="#333" textLength="19.2" lengthAdjust="spacingAndGlyphs">1,000</text>
<line x1="33.80" y1="528.26" x2="35.80" y2="528.26" stroke="#444" stroke-width="0.7"/>
<text x="31.20" y="530.96" font-size="7.9" text-anchor="end" fill="#333" textLength="19.2" lengthAdjust="spacingAndGlyphs">1,250</text>
<line x1="33.80" y1="516.20" x2="35.80" y2="516.20" stroke="#444" stroke-width="0.7"/>
<text x="31.20" y="518.90" font-size="7.9" text-anchor="end" fill="#333" textLength="19.2" lengthAdjust="spacingAndGlyphs">1,500</text>
<line x1="40.90" y1="592.30" x2="40.90" y2="594.30" stroke="#444" stroke-width="0.7"/>
<text x="43.30" y="597.50" font-size="7.0" text-anchor="end" fill="#333" transform="rotate(-90 43.30 597.50)">0</text>
<line x1="44.96" y1="592.30" x2="44.96" y2="594.30" stroke="#444" stroke-width="0.7"/>
<text x="47.36" y="597.50" font-size="7.0" text-anchor="end" fill="#333" transform="rotate(-90 47.36 597.50)">1</text>
<line x1="57.14" y1="592.30" x2="57.14" y2="594.30" stroke="#444" stroke-width="0.7"/>
<text x="59.54" y="597.50" font-size="7.0" text-anchor="end" fill="#333" transform="rotate(-90 59.54 597.50)">4</text>
<line x1="73.38" y1="592.30" x2="73.38" y2="594.30" stroke="#444" stroke-width="0.7"/>
<text x="75.78" y="597.50" font-size="7.0" text-anchor="end" fill="#333" transform="rotate(-90 75.78 597.50)">8</text>
<line x1="89.62" y1="592.30" x2="89.62" y2="594.30" stroke="#444" stroke-width="0.7"/>
<text x="92.02" y="597.50" font-size="7.0" text-anchor="end" fill="#333" transform="rotate(-90 92.02 597.50)">12</text>
<line x1="138.34" y1="592.30" x2="138.34" y2="594.30" stroke="#444" stroke-width="0.7"/>
<text x="140.74" y="597.50" font-size="7.0" text-anchor="end" fill="#333" transform="rotate(-90 140.74 597.50)">24</text>
<path d="M40.9,554.0 L41.9,556.3 L42.9,558.5 L43.9,560.5 L45.0,562.3 L46.0,564.1 L47.0,565.7 L48.0,567.3 L49.0,568.7 L50.0,570.0 L51.0,571.2 L52.1,572.4 L53.1,573.5 L54.1,574.5 L55.1,575.4 L56.1,576.3 L57.1,577.1 L58.2,577.9 L59.2,578.6 L60.2,579.3 L61.2,579.9 L62.2,580.5 L63.2,581.0 L64.2,581.5 L65.3,582.0 L66.3,582.4 L67.3,582.9 L68.3,583.2 L69.3,583.6 L70.3,583.9 L71.3,584.2 L72.4,584.5 L73.4,584.8 L74.4,585.1 L75.4,585.3 L76.4,585.5 L77.4,585.7 L78.5,585.9 L79.5,586.1 L80.5,586.3 L81.5,586.4 L82.5,586.6 L83.5,586.7 L84.5,586.8 L85.6,586.9 L86.6,587.1 L87.6,587.2 L88.6,587.3 L89.6,587.3 L90.6,587.4 L91.6,587.5 L92.7,587.6 L93.7,587.6 L94.7,587.7 L95.7,587.8 L96.7,587.8 L97.7,587.9 L98.8,587.9 L99.8,588.0 L100.8,588.0 L101.8,588.1 L102.8,588.1 L103.8,588.1 L104.8,588.2 L105.9,588.2 L106.9,588.2 L107.9,588.2 L108.9,588.3 L109.9,588.3 L110.9,588.3 L111.9,588.3 L113.0,588.3 L114.0,588.4 L115.0,588.4 L116.0,588.4 L117.0,588.4 L118.0,588.4 L119.1,588.4 L120.1,588.4 L121.1,588.5 L122.1,588.5 L123.1,588.5 L124.1,588.5 L125.1,588.5 L126.2,588.5 L127.2,588.5 L128.2,588.5 L129.2,588.5 L130.2,588.5 L131.2,588.5 L132.2,588.5 L133.3,588.5 L134.3,588.5 L135.3,588.5 L136.3,588.5 L137.3,588.6 L138.3,588.6" fill="none" stroke="#a0a0a0" stroke-width="1.5"/>
<path d="M40.9,532.3 L41.9,533.8 L42.9,535.3 L43.9,536.7 L45.0,538.1 L46.0,539.5 L47.0,540.8 L48.0,542.1 L49.0,543.3 L50.0,544.5 L51.0,545.7 L52.1,546.9 L53.1,548.0 L54.1,549.1 L55.1,550.1 L56.1,551.2 L57.1,552.2 L58.2,553.1 L59.2,554.1 L60.2,555.0 L61.2,555.9 L62.2,556.8 L63.2,557.6 L64.2,558.5 L65.3,559.3 L66.3,560.1 L67.3,560.8 L68.3,561.6 L69.3,562.3 L70.3,563.0 L71.3,563.7 L72.4,564.4 L73.4,565.0 L74.4,565.6 L75.4,566.2 L76.4,566.8 L77.4,567.4 L78.5,568.0 L79.5,568.5 L80.5,569.1 L81.5,569.6 L82.5,570.1 L83.5,570.6 L84.5,571.1 L85.6,571.6 L86.6,572.0 L87.6,572.5 L88.6,572.9 L89.6,573.3 L90.6,573.7 L91.6,574.1 L92.7,574.5 L93.7,574.9 L94.7,575.3 L95.7,575.6 L96.7,576.0 L97.7,576.3 L98.8,576.6 L99.8,577.0 L100.8,577.3 L101.8,577.6 L102.8,577.9 L103.8,578.2 L104.8,578.4 L105.9,578.7 L106.9,579.0 L107.9,579.2 L108.9,579.5 L109.9,579.7 L110.9,580.0 L111.9,580.2 L113.0,580.4 L114.0,580.6 L115.0,580.9 L116.0,581.1 L117.0,581.3 L118.0,581.5 L119.1,581.6 L120.1,581.8 L121.1,582.0 L122.1,582.2 L123.1,582.4 L124.1,582.5 L125.1,582.7 L126.2,582.9 L127.2,583.0 L128.2,583.2 L129.2,583.3 L130.2,583.4 L131.2,583.6 L132.2,583.7 L133.3,583.8 L134.3,584.0 L135.3,584.1 L136.3,584.2 L137.3,584.3 L138.3,584.5" fill="none" stroke="#e8a010" stroke-width="1.5"/>
<circle cx="40.91" cy="546.93" r="1.9" fill="#a0a0a0"/>
<circle cx="40.91" cy="554.99" r="1.9" fill="#a0a0a0"/>
<circle cx="45.11" cy="562.88" r="1.9" fill="#a0a0a0"/>
<circle cx="57.19" cy="574.63" r="1.9" fill="#a0a0a0"/>
<circle cx="73.31" cy="588.56" r="1.9" fill="#a0a0a0"/>
<circle cx="89.59" cy="585.88" r="1.9" fill="#a0a0a0"/>
<circle cx="89.59" cy="587.56" r="1.9" fill="#a0a0a0"/>
<circle cx="138.28" cy="588.06" r="1.9" fill="#a0a0a0"/>
<circle cx="40.91" cy="536.52" r="1.9" fill="#e8a010"/>
<circle cx="41.75" cy="536.86" r="1.9" fill="#e8a010"/>
<circle cx="45.11" cy="538.54" r="1.9" fill="#e8a010"/>
<circle cx="45.44" cy="541.90" r="1.9" fill="#e8a010"/>
<circle cx="56.86" cy="547.77" r="1.9" fill="#e8a010"/>
<circle cx="57.19" cy="549.95" r="1.9" fill="#e8a010"/>
<circle cx="73.31" cy="560.36" r="1.9" fill="#e8a010"/>
<circle cx="73.31" cy="565.40" r="1.9" fill="#e8a010"/>
<circle cx="89.59" cy="573.45" r="1.9" fill="#e8a010"/>
<circle cx="89.59" cy="580.17" r="1.9" fill="#e8a010"/>
<circle cx="138.28" cy="582.52" r="1.9" fill="#e8a010"/>
<circle cx="138.28" cy="585.21" r="1.9" fill="#e8a010"/>
<line x1="138.34" y1="579.21" x2="138.34" y2="586.21" stroke="#e8a010" stroke-width="0.6"/>
<line x1="89.62" y1="577.52" x2="89.62" y2="584.52" stroke="#e8a010" stroke-width="0.6"/>
<text x="138.80" y="522.00" font-size="8.3" text-anchor="end" fill="#a8a8a8" textLength="57.6" lengthAdjust="spacingAndGlyphs">Control: 2.51 h</text>
<text x="138.80" y="532.40" font-size="8.3" text-anchor="end" font-weight="bold" fill="#e8a010" textLength="66.8" lengthAdjust="spacingAndGlyphs">TDP43KD: 6.38 h</text>
<rect x="149.20" y="500.30" width="107.20" height="12.50" fill="#fff" stroke="#777" stroke-width="0.8"/>
<text x="202.80" y="509.60" font-size="8.2" text-anchor="middle" font-style="italic">SIX3</text>
<line x1="149.20" y1="512.80" x2="149.20" y2="592.30" stroke="#444" stroke-width="0.9"/>
<line x1="149.20" y1="592.30" x2="256.40" y2="592.30" stroke="#444" stroke-width="0.9"/>
<line x1="147.20" y1="588.60" x2="149.20" y2="588.60" stroke="#444" stroke-width="0.7"/>
<line x1="147.20" y1="576.53" x2="149.20" y2="576.53" stroke="#444" stroke-width="0.7"/>
<line x1="147.20" y1="564.47" x2="149.20" y2="564.47" stroke="#444" stroke-width="0.7"/>
<line x1="147.20" y1="552.40" x2="149.20" y2="552.40" stroke="#444" stroke-width="0.7"/>
<line x1="147.20" y1="540.33" x2="149.20" y2="540.33" stroke="#444" stroke-width="0.7"/>
<line x1="147.20" y1="528.26" x2="149.20" y2="528.26" stroke="#444" stroke-width="0.7"/>
<line x1="147.20" y1="516.20" x2="149.20" y2="516.20" stroke="#444" stroke-width="0.7"/>
<line x1="154.20" y1="592.30" x2="154.20" y2="594.30" stroke="#444" stroke-width="0.7"/>
<text x="156.60" y="597.50" font-size="7.0" text-anchor="end" fill="#333" transform="rotate(-90 156.60 597.50)">0</text>
<line x1="158.26" y1="592.30" x2="158.26" y2="594.30" stroke="#444" stroke-width="0.7"/>
<text x="160.66" y="597.50" font-size="7.0" text-anchor="end" fill="#333" transform="rotate(-90 160.66 597.50)">1</text>
<line x1="170.44" y1="592.30" x2="170.44" y2="594.30" stroke="#444" stroke-width="0.7"/>
<text x="172.84" y="597.50" font-size="7.0" text-anchor="end" fill="#333" transform="rotate(-90 172.84 597.50)">4</text>
<line x1="186.68" y1="592.30" x2="186.68" y2="594.30" stroke="#444" stroke-width="0.7"/>
<text x="189.08" y="597.50" font-size="7.0" text-anchor="end" fill="#333" transform="rotate(-90 189.08 597.50)">8</text>
<line x1="202.92" y1="592.30" x2="202.92" y2="594.30" stroke="#444" stroke-width="0.7"/>
<text x="205.32" y="597.50" font-size="7.0" text-anchor="end" fill="#333" transform="rotate(-90 205.32 597.50)">12</text>
<line x1="251.64" y1="592.30" x2="251.64" y2="594.30" stroke="#444" stroke-width="0.7"/>
<text x="254.04" y="597.50" font-size="7.0" text-anchor="end" fill="#333" transform="rotate(-90 254.04 597.50)">24</text>
<path d="M154.2,561.2 L155.2,563.5 L156.2,565.6 L157.2,567.6 L158.3,569.4 L159.3,571.0 L160.3,572.5 L161.3,573.9 L162.3,575.1 L163.3,576.3 L164.3,577.3 L165.4,578.3 L166.4,579.2 L167.4,580.0 L168.4,580.7 L169.4,581.4 L170.4,582.0 L171.5,582.5 L172.5,583.1 L173.5,583.5 L174.5,584.0 L175.5,584.4 L176.5,584.7 L177.5,585.0 L178.6,585.4 L179.6,585.6 L180.6,585.9 L181.6,586.1 L182.6,586.3 L183.6,586.5 L184.6,586.7 L185.7,586.9 L186.7,587.0 L187.7,587.1 L188.7,587.3 L189.7,587.4 L190.7,587.5 L191.8,587.6 L192.8,587.7 L193.8,587.7 L194.8,587.8 L195.8,587.9 L196.8,587.9 L197.8,588.0 L198.9,588.1 L199.9,588.1 L200.9,588.1 L201.9,588.2 L202.9,588.2 L203.9,588.2 L204.9,588.3 L206.0,588.3 L207.0,588.3 L208.0,588.4 L209.0,588.4 L210.0,588.4 L211.0,588.4 L212.1,588.4 L213.1,588.4 L214.1,588.5 L215.1,588.5 L216.1,588.5 L217.1,588.5 L218.1,588.5 L219.2,588.5 L220.2,588.5 L221.2,588.5 L222.2,588.5 L223.2,588.5 L224.2,588.5 L225.2,588.5 L226.3,588.6 L227.3,588.6 L228.3,588.6 L229.3,588.6 L230.3,588.6 L231.3,588.6 L232.4,588.6 L233.4,588.6 L234.4,588.6 L235.4,588.6 L236.4,588.6 L237.4,588.6 L238.4,588.6 L239.5,588.6 L240.5,588.6 L241.5,588.6 L242.5,588.6 L243.5,588.6 L244.5,588.6 L245.5,588.6 L246.6,588.6 L247.6,588.6 L248.6,588.6 L249.6,588.6 L250.6,588.6 L251.6,588.6" fill="none" stroke="#a0a0a0" stroke-width="1.5"/>
<path d="M154.2,526.8 L155.2,530.7 L156.2,534.4 L157.2,537.8 L158.3,541.0 L159.3,544.0 L160.3,546.8 L161.3,549.4 L162.3,551.9 L163.3,554.2 L164.3,556.4 L165.4,558.4 L166.4,560.3 L167.4,562.1 L168.4,563.8 L169.4,565.3 L170.4,566.8 L171.5,568.2 L172.5,569.5 L173.5,570.7 L174.5,571.8 L175.5,572.9 L176.5,573.9 L177.5,574.8 L178.6,575.7 L179.6,576.5 L180.6,577.2 L181.6,578.0 L182.6,578.6 L183.6,579.3 L184.6,579.8 L185.7,580.4 L186.7,580.9 L187.7,581.4 L188.7,581.9 L189.7,582.3 L190.7,582.7 L191.8,583.1 L192.8,583.4 L193.8,583.7 L194.8,584.0 L195.8,584.3 L196.8,584.6 L197.8,584.8 L198.9,585.1 L199.9,585.3 L200.9,585.5 L201.9,585.7 L202.9,585.9 L203.9,586.1 L204.9,586.2 L206.0,586.4 L207.0,586.5 L208.0,586.6 L209.0,586.8 L210.0,586.9 L211.0,587.0 L212.1,587.1 L213.1,587.2 L214.1,587.3 L215.1,587.4 L216.1,587.4 L217.1,587.5 L218.1,587.6 L219.2,587.6 L220.2,587.7 L221.2,587.8 L222.2,587.8 L223.2,587.9 L224.2,587.9 L225.2,588.0 L226.3,588.0 L227.3,588.0 L228.3,588.1 L229.3,588.1 L230.3,588.1 L231.3,588.2 L232.4,588.2 L233.4,588.2 L234.4,588.2 L235.4,588.3 L236.4,588.3 L237.4,588.3 L238.4,588.3 L239.5,588.3 L240.5,588.4 L241.5,588.4 L242.5,588.4 L243.5,588.4 L244.5,588.4 L245.5,588.4 L246.6,588.4 L247.6,588.4 L248.6,588.5 L249.6,588.5 L250.6,588.5 L251.6,588.5" fill="none" stroke="#e8a010" stroke-width="1.5"/>
<circle cx="154.23" cy="562.04" r="1.9" fill="#a0a0a0"/>
<circle cx="155.07" cy="563.38" r="1.9" fill="#a0a0a0"/>
<circle cx="158.43" cy="569.09" r="1.9" fill="#a0a0a0"/>
<circle cx="170.52" cy="583.86" r="1.9" fill="#a0a0a0"/>
<circle cx="186.63" cy="587.22" r="1.9" fill="#a0a0a0"/>
<circle cx="202.92" cy="587.22" r="1.9" fill="#a0a0a0"/>
<circle cx="251.60" cy="587.56" r="1.9" fill="#a0a0a0"/>
<circle cx="154.23" cy="533.50" r="1.9" fill="#e8a010"/>
<circle cx="155.07" cy="536.02" r="1.9" fill="#e8a010"/>
<circle cx="158.43" cy="540.55" r="1.9" fill="#e8a010"/>
<circle cx="170.52" cy="569.59" r="1.9" fill="#e8a010"/>
<circle cx="170.52" cy="570.77" r="1.9" fill="#e8a010"/>
<circle cx="186.63" cy="584.70" r="1.9" fill="#e8a010"/>
<circle cx="186.63" cy="585.88" r="1.9" fill="#e8a010"/>
<circle cx="202.92" cy="586.38" r="1.9" fill="#e8a010"/>
<circle cx="202.92" cy="588.06" r="1.9" fill="#e8a010"/>
<circle cx="251.60" cy="585.54" r="1.9" fill="#e8a010"/>
<circle cx="251.60" cy="584.70" r="1.9" fill="#e8a010"/>
<line x1="251.64" y1="578.70" x2="251.64" y2="585.70" stroke="#e8a010" stroke-width="0.6"/>
<line x1="202.92" y1="580.54" x2="202.92" y2="587.54" stroke="#e8a010" stroke-width="0.6"/>
<text x="252.20" y="522.00" font-size="8.3" text-anchor="end" fill="#a8a8a8" textLength="57.6" lengthAdjust="spacingAndGlyphs">Control: 1.95 h</text>
<text x="252.20" y="532.40" font-size="8.3" text-anchor="end" font-weight="bold" fill="#e8a010" textLength="66.8" lengthAdjust="spacingAndGlyphs">TDP43KD: 2.66 h</text>
<rect x="262.60" y="500.30" width="107.20" height="12.50" fill="#fff" stroke="#777" stroke-width="0.8"/>
<text x="316.20" y="509.60" font-size="8.2" text-anchor="middle" font-style="italic">TLX1</text>
<line x1="262.60" y1="512.80" x2="262.60" y2="592.30" stroke="#444" stroke-width="0.9"/>
<line x1="262.60" y1="592.30" x2="369.80" y2="592.30" stroke="#444" stroke-width="0.9"/>
<line x1="260.60" y1="588.60" x2="262.60" y2="588.60" stroke="#444" stroke-width="0.7"/>
<line x1="260.60" y1="576.53" x2="262.60" y2="576.53" stroke="#444" stroke-width="0.7"/>
<line x1="260.60" y1="564.47" x2="262.60" y2="564.47" stroke="#444" stroke-width="0.7"/>
<line x1="260.60" y1="552.40" x2="262.60" y2="552.40" stroke="#444" stroke-width="0.7"/>
<line x1="260.60" y1="540.33" x2="262.60" y2="540.33" stroke="#444" stroke-width="0.7"/>
<line x1="260.60" y1="528.26" x2="262.60" y2="528.26" stroke="#444" stroke-width="0.7"/>
<line x1="260.60" y1="516.20" x2="262.60" y2="516.20" stroke="#444" stroke-width="0.7"/>
<line x1="267.20" y1="592.30" x2="267.20" y2="594.30" stroke="#444" stroke-width="0.7"/>
<text x="269.60" y="597.50" font-size="7.0" text-anchor="end" fill="#333" transform="rotate(-90 269.60 597.50)">0</text>
<line x1="271.26" y1="592.30" x2="271.26" y2="594.30" stroke="#444" stroke-width="0.7"/>
<text x="273.66" y="597.50" font-size="7.0" text-anchor="end" fill="#333" transform="rotate(-90 273.66 597.50)">1</text>
<line x1="283.44" y1="592.30" x2="283.44" y2="594.30" stroke="#444" stroke-width="0.7"/>
<text x="285.84" y="597.50" font-size="7.0" text-anchor="end" fill="#333" transform="rotate(-90 285.84 597.50)">4</text>
<line x1="299.68" y1="592.30" x2="299.68" y2="594.30" stroke="#444" stroke-width="0.7"/>
<text x="302.08" y="597.50" font-size="7.0" text-anchor="end" fill="#333" transform="rotate(-90 302.08 597.50)">8</text>
<line x1="315.92" y1="592.30" x2="315.92" y2="594.30" stroke="#444" stroke-width="0.7"/>
<text x="318.32" y="597.50" font-size="7.0" text-anchor="end" fill="#333" transform="rotate(-90 318.32 597.50)">12</text>
<line x1="364.64" y1="592.30" x2="364.64" y2="594.30" stroke="#444" stroke-width="0.7"/>
<text x="367.04" y="597.50" font-size="7.0" text-anchor="end" fill="#333" transform="rotate(-90 367.04 597.50)">24</text>
<path d="M267.2,557.3 L268.2,560.1 L269.2,562.7 L270.2,565.1 L271.3,567.2 L272.3,569.1 L273.3,570.9 L274.3,572.5 L275.3,573.9 L276.3,575.3 L277.3,576.5 L278.4,577.6 L279.4,578.6 L280.4,579.5 L281.4,580.3 L282.4,581.0 L283.4,581.7 L284.5,582.3 L285.5,582.9 L286.5,583.4 L287.5,583.9 L288.5,584.3 L289.5,584.7 L290.5,585.1 L291.6,585.4 L292.6,585.7 L293.6,585.9 L294.6,586.2 L295.6,586.4 L296.6,586.6 L297.6,586.8 L298.7,586.9 L299.7,587.1 L300.7,587.2 L301.7,587.3 L302.7,587.5 L303.7,587.6 L304.8,587.7 L305.8,587.7 L306.8,587.8 L307.8,587.9 L308.8,588.0 L309.8,588.0 L310.8,588.1 L311.9,588.1 L312.9,588.2 L313.9,588.2 L314.9,588.2 L315.9,588.3 L316.9,588.3 L317.9,588.3 L319.0,588.4 L320.0,588.4 L321.0,588.4 L322.0,588.4 L323.0,588.4 L324.0,588.4 L325.1,588.5 L326.1,588.5 L327.1,588.5 L328.1,588.5 L329.1,588.5 L330.1,588.5 L331.1,588.5 L332.2,588.5 L333.2,588.5 L334.2,588.5 L335.2,588.5 L336.2,588.6 L337.2,588.6 L338.2,588.6 L339.3,588.6 L340.3,588.6 L341.3,588.6 L342.3,588.6 L343.3,588.6 L344.3,588.6 L345.4,588.6 L346.4,588.6 L347.4,588.6 L348.4,588.6 L349.4,588.6 L350.4,588.6 L351.4,588.6 L352.5,588.6 L353.5,588.6 L354.5,588.6 L355.5,588.6 L356.5,588.6 L357.5,588.6 L358.5,588.6 L359.6,588.6 L360.6,588.6 L361.6,588.6 L362.6,588.6 L363.6,588.6 L364.6,588.6" fill="none" stroke="#a0a0a0" stroke-width="1.5"/>
<path d="M267.2,522.3 L268.2,526.1 L269.2,529.6 L270.2,533.0 L271.3,536.2 L272.3,539.1 L273.3,542.0 L274.3,544.6 L275.3,547.1 L276.3,549.5 L277.3,551.7 L278.4,553.8 L279.4,555.8 L280.4,557.6 L281.4,559.4 L282.4,561.1 L283.4,562.6 L284.5,564.1 L285.5,565.5 L286.5,566.8 L287.5,568.0 L288.5,569.2 L289.5,570.3 L290.5,571.4 L291.6,572.3 L292.6,573.3 L293.6,574.1 L294.6,575.0 L295.6,575.7 L296.6,576.5 L297.6,577.2 L298.7,577.8 L299.7,578.4 L300.7,579.0 L301.7,579.5 L302.7,580.1 L303.7,580.5 L304.8,581.0 L305.8,581.4 L306.8,581.8 L307.8,582.2 L308.8,582.6 L309.8,582.9 L310.8,583.3 L311.9,583.6 L312.9,583.8 L313.9,584.1 L314.9,584.4 L315.9,584.6 L316.9,584.8 L317.9,585.1 L319.0,585.3 L320.0,585.4 L321.0,585.6 L322.0,585.8 L323.0,586.0 L324.0,586.1 L325.1,586.2 L326.1,586.4 L327.1,586.5 L328.1,586.6 L329.1,586.7 L330.1,586.8 L331.1,586.9 L332.2,587.0 L333.2,587.1 L334.2,587.2 L335.2,587.3 L336.2,587.4 L337.2,587.4 L338.2,587.5 L339.3,587.6 L340.3,587.6 L341.3,587.7 L342.3,587.7 L343.3,587.8 L344.3,587.8 L345.4,587.9 L346.4,587.9 L347.4,588.0 L348.4,588.0 L349.4,588.0 L350.4,588.1 L351.4,588.1 L352.5,588.1 L353.5,588.1 L354.5,588.2 L355.5,588.2 L356.5,588.2 L357.5,588.2 L358.5,588.3 L359.6,588.3 L360.6,588.3 L361.6,588.3 L362.6,588.3 L363.6,588.3 L364.6,588.4" fill="none" stroke="#e8a010" stroke-width="1.5"/>
<circle cx="267.20" cy="557.30" r="1.9" fill="#a0a0a0"/>
<circle cx="267.90" cy="563.30" r="1.9" fill="#a0a0a0"/>
<circle cx="272.10" cy="566.80" r="1.9" fill="#a0a0a0"/>
<circle cx="283.70" cy="581.90" r="1.9" fill="#a0a0a0"/>
<circle cx="300.10" cy="587.80" r="1.9" fill="#a0a0a0"/>
<circle cx="316.20" cy="585.40" r="1.9" fill="#a0a0a0"/>
<circle cx="365.00" cy="587.80" r="1.9" fill="#a0a0a0"/>
<circle cx="267.20" cy="532.80" r="1.9" fill="#e8a010"/>
<circle cx="267.90" cy="537.40" r="1.9" fill="#e8a010"/>
<circle cx="272.10" cy="540.90" r="1.9" fill="#e8a010"/>
<circle cx="283.70" cy="559.10" r="1.9" fill="#e8a010"/>
<circle cx="283.70" cy="566.80" r="1.9" fill="#e8a010"/>
<circle cx="300.10" cy="578.40" r="1.9" fill="#e8a010"/>
<circle cx="300.10" cy="581.90" r="1.9" fill="#e8a010"/>
<circle cx="316.20" cy="579.40" r="1.9" fill="#e8a010"/>
<circle cx="365.00" cy="587.10" r="1.9" fill="#e8a010"/>
<line x1="364.64" y1="581.10" x2="364.64" y2="588.10" stroke="#e8a010" stroke-width="0.6"/>
<line x1="315.92" y1="574.40" x2="315.92" y2="581.40" stroke="#e8a010" stroke-width="0.6"/>
<text x="365.60" y="522.00" font-size="8.3" text-anchor="end" fill="#a8a8a8" textLength="57.6" lengthAdjust="spacingAndGlyphs">Control: 1.83 h</text>
<text x="365.60" y="532.40" font-size="8.3" text-anchor="end" font-weight="bold" fill="#e8a010" textLength="66.8" lengthAdjust="spacingAndGlyphs">TDP43KD: 2.96 h</text>
<text x="7.80" y="552.50" font-size="8.8" text-anchor="middle" textLength="60.3" lengthAdjust="spacingAndGlyphs" transform="rotate(-90 7.80 552.50)">Unlabeled RNA</text>
<text x="203.40" y="618.20" font-size="8.4" text-anchor="middle" textLength="83.4" lengthAdjust="spacingAndGlyphs">4SU labeling time (h)</text>
<text x="350.40" y="274.00" font-size="8.4" text-anchor="middle"><tspan font-style="italic">ELK1</tspan> total</text>
<text x="446.00" y="274.00" font-size="8.4" text-anchor="middle"><tspan font-style="italic">ELK1</tspan> cryptic</text>
<text x="541.00" y="274.00" font-size="8.4" text-anchor="middle">DAPI</text>
<text x="637.20" y="274.00" font-size="8.4" text-anchor="middle" textLength="42.3" lengthAdjust="spacingAndGlyphs">Brightfield</text>
<text x="299.20" y="325.30" font-size="7.6" text-anchor="middle" textLength="30.7" lengthAdjust="spacingAndGlyphs" transform="rotate(-90 299.20 325.30)">Control</text>
<text x="299.30" y="416.50" font-size="7.6" text-anchor="middle" textLength="62.5" lengthAdjust="spacingAndGlyphs" transform="rotate(-90 299.30 416.50)">TDP43KD (9 days)</text>
<defs><clipPath id="fc00"><rect x="303.5" y="278.6" width="93.3" height="93.1"/></clipPath><clipPath id="fc01"><rect x="303.5" y="374.2" width="93.3" height="93.1"/></clipPath><clipPath id="fc10"><rect x="399.3" y="278.6" width="93.3" height="93.1"/></clipPath><clipPath id="fc11"><rect x="399.3" y="374.2" width="93.3" height="93.1"/></clipPath><clipPath id="fc20"><rect x="494.9" y="278.6" width="93.3" height="93.1"/></clipPath><clipPath id="fc21"><rect x="494.9" y="374.2" width="93.3" height="93.1"/></clipPath><clipPath id="fc30"><rect x="590.3" y="278.6" width="93.3" height="93.1"/></clipPath><clipPath id="fc31"><rect x="590.3" y="374.2" width="93.3" height="93.1"/></clipPath></defs>
<rect x="303.50" y="278.60" width="93.30" height="93.10" fill="#000"/>
<g clip-path="url(#fc00)">
<circle cx="346.3" cy="330.8" r="0.4" fill="#125212"/><circle cx="388.3" cy="322.4" r="0.4" fill="#125212"/><circle cx="351.2" cy="333.3" r="0.4" fill="#125212"/><circle cx="322.4" cy="326.6" r="0.4" fill="#125212"/><circle cx="362.1" cy="351.6" r="0.4" fill="#125212"/><circle cx="314.4" cy="308.0" r="0.4" fill="#125212"/><circle cx="314.1" cy="353.1" r="0.4" fill="#125212"/><circle cx="367.7" cy="284.7" r="0.4" fill="#125212"/><circle cx="393.4" cy="366.9" r="0.4" fill="#125212"/><circle cx="364.2" cy="335.8" r="0.4" fill="#125212"/><circle cx="320.0" cy="282.3" r="0.4" fill="#125212"/><circle cx="353.0" cy="286.3" r="0.4" fill="#125212"/><circle cx="322.9" cy="302.5" r="0.4" fill="#125212"/><circle cx="308.7" cy="322.3" r="0.4" fill="#125212"/><circle cx="345.2" cy="356.0" r="0.4" fill="#125212"/><circle cx="352.2" cy="338.0" r="0.4" fill="#125212"/>
</g>
<rect x="399.30" y="278.60" width="93.30" height="93.10" fill="#000"/>
<g clip-path="url(#fc10)">
<circle cx="445.5" cy="340.0" r="0.45" fill="#5a1a6a"/><circle cx="441.7" cy="305.8" r="0.45" fill="#5a1a6a"/><circle cx="489.8" cy="369.6" r="0.45" fill="#5a1a6a"/><circle cx="475.8" cy="344.0" r="0.45" fill="#5a1a6a"/>
</g>
<rect x="494.90" y="278.60" width="93.30" height="93.10" fill="#000"/>
<g clip-path="url(#fc20)">
<g filter="url(#bl2)"><ellipse cx="518.6" cy="280.7" rx="4.7" ry="2.1" fill="rgb(16,16,136)"/><ellipse cx="538.6" cy="297.3" rx="5.2" ry="5.2" fill="rgb(21,21,176)"/><ellipse cx="539.4" cy="307.8" rx="5.2" ry="4.2" fill="rgb(20,20,171)"/><ellipse cx="578.8" cy="294.4" rx="2.6" ry="3.1" fill="rgb(17,17,143)"/><ellipse cx="575.1" cy="301.0" rx="3.1" ry="3.1" fill="rgb(18,18,156)"/><ellipse cx="515.6" cy="317.4" rx="5.2" ry="3.6" fill="rgb(18,18,153)"/><ellipse cx="513.3" cy="323.4" rx="3.1" ry="1.6" fill="rgb(19,19,165)" transform="rotate(-10 513.3 323.4)"/><ellipse cx="524.5" cy="322.6" rx="2.6" ry="3.1" fill="rgb(20,20,172)"/><ellipse cx="522.6" cy="329.3" rx="2.6" ry="3.6" fill="rgb(15,15,133)"/><ellipse cx="525.3" cy="336.5" rx="2.6" ry="3.1" fill="rgb(15,15,130)"/><ellipse cx="552.5" cy="316.4" rx="3.6" ry="3.1" fill="rgb(21,21,175)" transform="rotate(-20 552.5 316.4)"/><ellipse cx="556.5" cy="328.6" rx="2.1" ry="3.6" fill="rgb(18,18,152)" transform="rotate(-15 556.5 328.6)"/><ellipse cx="551.3" cy="334.5" rx="3.1" ry="3.6" fill="rgb(20,20,171)"/><ellipse cx="558.4" cy="338.0" rx="3.1" ry="3.1" fill="rgb(15,15,128)"/><ellipse cx="575.8" cy="318.2" rx="3.6" ry="3.6" fill="rgb(18,18,153)"/><ellipse cx="526.0" cy="343.9" rx="5.2" ry="3.6" fill="rgb(20,20,169)" transform="rotate(-15 526.0 343.9)"/><ellipse cx="535.4" cy="345.0" rx="3.6" ry="3.1" fill="rgb(16,16,141)"/><ellipse cx="544.6" cy="341.2" rx="5.2" ry="4.2" fill="rgb(21,21,181)" transform="rotate(10 544.6 341.2)"/><ellipse cx="548.3" cy="348.0" rx="3.6" ry="2.4" fill="rgb(21,21,179)" transform="rotate(10 548.3 348.0)"/><ellipse cx="523.8" cy="352.4" rx="3.9" ry="3.9" fill="rgb(15,15,130)"/><ellipse cx="543.9" cy="353.1" rx="2.6" ry="3.6" fill="rgb(15,15,130)"/><ellipse cx="541.3" cy="359.5" rx="3.9" ry="2.6" fill="rgb(19,19,159)" transform="rotate(-10 541.3 359.5)"/><ellipse cx="566.2" cy="348.0" rx="3.6" ry="3.1" fill="rgb(21,21,181)"/><ellipse cx="532.0" cy="363.6" rx="5.2" ry="3.1" fill="rgb(18,18,150)" transform="rotate(-5 532.0 363.6)"/><ellipse cx="534.2" cy="369.5" rx="3.6" ry="1.6" fill="rgb(16,16,140)"/><ellipse cx="500.3" cy="366.5" rx="1.6" ry="1.1" fill="rgb(18,18,152)"/><ellipse cx="531.0" cy="280.0" rx="2.1" ry="1.1" fill="rgb(15,15,130)"/></g>
</g>
<rect x="590.30" y="278.60" width="93.30" height="93.10" fill="#242424"/>
<g clip-path="url(#fc30)">
<path d="M592,300 L630,292 L684,310 M600,340 L640,330 L684,345 M610,285 L640,370 M650,280 L670,372" stroke="#2c2c2c" stroke-width="0.5" fill="none"/>
<g filter="url(#bl2)"><ellipse cx="614.0" cy="280.7" rx="4.7" ry="2.1" fill="rgb(17,17,148)"/><ellipse cx="634.0" cy="297.3" rx="5.2" ry="5.2" fill="rgb(23,23,192)"/><ellipse cx="634.8" cy="307.8" rx="5.2" ry="4.2" fill="rgb(22,22,187)"/><ellipse cx="674.2" cy="294.4" rx="2.6" ry="3.1" fill="rgb(18,18,156)"/><ellipse cx="670.5" cy="301.0" rx="3.1" ry="3.1" fill="rgb(20,20,170)"/><ellipse cx="611.0" cy="317.4" rx="5.2" ry="3.6" fill="rgb(20,20,167)"/><ellipse cx="608.7" cy="323.4" rx="3.1" ry="1.6" fill="rgb(21,21,180)" transform="rotate(-10 608.7 323.4)"/><ellipse cx="619.9" cy="322.6" rx="2.6" ry="3.1" fill="rgb(22,22,188)"/><ellipse cx="618.0" cy="329.3" rx="2.6" ry="3.6" fill="rgb(17,17,146)"/><ellipse cx="620.7" cy="336.5" rx="2.6" ry="3.1" fill="rgb(17,17,142)"/><ellipse cx="647.9" cy="316.4" rx="3.6" ry="3.1" fill="rgb(22,22,191)" transform="rotate(-20 647.9 316.4)"/><ellipse cx="651.9" cy="328.6" rx="2.1" ry="3.6" fill="rgb(19,19,166)" transform="rotate(-15 651.9 328.6)"/><ellipse cx="646.7" cy="334.5" rx="3.1" ry="3.6" fill="rgb(22,22,187)"/><ellipse cx="653.8" cy="338.0" rx="3.1" ry="3.1" fill="rgb(16,16,140)"/><ellipse cx="671.2" cy="318.2" rx="3.6" ry="3.6" fill="rgb(20,20,167)"/><ellipse cx="621.4" cy="343.9" rx="5.2" ry="3.6" fill="rgb(22,22,184)" transform="rotate(-15 621.4 343.9)"/><ellipse cx="630.8" cy="345.0" rx="3.6" ry="3.1" fill="rgb(18,18,154)"/><ellipse cx="640.0" cy="341.2" rx="5.2" ry="4.2" fill="rgb(23,23,198)" transform="rotate(10 640.0 341.2)"/><ellipse cx="643.7" cy="348.0" rx="3.6" ry="2.4" fill="rgb(23,23,195)" transform="rotate(10 643.7 348.0)"/><ellipse cx="619.2" cy="352.4" rx="3.9" ry="3.9" fill="rgb(17,17,142)"/><ellipse cx="639.3" cy="353.1" rx="2.6" ry="3.6" fill="rgb(16,16,141)"/><ellipse cx="636.7" cy="359.5" rx="3.9" ry="2.6" fill="rgb(20,20,173)" transform="rotate(-10 636.7 359.5)"/><ellipse cx="661.6" cy="348.0" rx="3.6" ry="3.1" fill="rgb(23,23,197)"/><ellipse cx="627.4" cy="363.6" rx="5.2" ry="3.1" fill="rgb(19,19,163)" transform="rotate(-5 627.4 363.6)"/><ellipse cx="629.6" cy="369.5" rx="3.6" ry="1.6" fill="rgb(18,18,153)"/><ellipse cx="595.7" cy="366.5" rx="1.6" ry="1.1" fill="rgb(19,19,166)"/><ellipse cx="626.4" cy="280.0" rx="2.1" ry="1.1" fill="rgb(17,17,142)"/></g>
</g>
<rect x="303.50" y="374.20" width="93.30" height="93.10" fill="#000"/>
<g clip-path="url(#fc01)">
<circle cx="334.1" cy="396.4" r="0.45" fill="#145a14"/><circle cx="331.7" cy="382.2" r="0.45" fill="#145a14"/><circle cx="374.2" cy="411.6" r="0.45" fill="#145a14"/><circle cx="381.3" cy="410.4" r="0.45" fill="#145a14"/><circle cx="391.3" cy="451.4" r="0.45" fill="#145a14"/><circle cx="306.0" cy="394.7" r="0.45" fill="#145a14"/><circle cx="387.0" cy="417.8" r="0.45" fill="#145a14"/><circle cx="393.3" cy="411.4" r="0.45" fill="#145a14"/><circle cx="312.5" cy="432.0" r="0.45" fill="#145a14"/><circle cx="375.3" cy="400.0" r="0.45" fill="#145a14"/><circle cx="313.8" cy="405.6" r="0.45" fill="#145a14"/><circle cx="391.8" cy="443.5" r="0.45" fill="#145a14"/><circle cx="316.5" cy="397.9" r="0.45" fill="#145a14"/><circle cx="315.0" cy="381.3" r="0.45" fill="#145a14"/><circle cx="376.9" cy="391.8" r="0.45" fill="#145a14"/><circle cx="355.8" cy="415.8" r="0.45" fill="#145a14"/><circle cx="323.0" cy="441.1" r="0.45" fill="#145a14"/><circle cx="317.7" cy="433.3" r="0.45" fill="#145a14"/><circle cx="316.4" cy="413.4" r="0.45" fill="#145a14"/><circle cx="324.9" cy="400.0" r="0.45" fill="#145a14"/><circle cx="392.4" cy="447.5" r="0.45" fill="#145a14"/><circle cx="333.1" cy="454.8" r="0.45" fill="#145a14"/><circle cx="324.8" cy="411.1" r="0.45" fill="#145a14"/><circle cx="382.0" cy="433.1" r="0.45" fill="#145a14"/><circle cx="314.9" cy="464.0" r="0.45" fill="#145a14"/><circle cx="325.0" cy="399.0" r="0.45" fill="#145a14"/><circle cx="374.8" cy="405.3" r="0.45" fill="#145a14"/><circle cx="332.4" cy="382.5" r="0.45" fill="#145a14"/><circle cx="314.0" cy="427.9" r="0.45" fill="#145a14"/><circle cx="327.6" cy="429.5" r="0.45" fill="#145a14"/>
<circle cx="311.1" cy="380.6" r="0.55" fill="#1e7a1e"/><circle cx="317.6" cy="380.9" r="0.55" fill="#1e7a1e"/><circle cx="313.3" cy="383.9" r="0.55" fill="#1e7a1e"/><circle cx="309.0" cy="378.2" r="0.55" fill="#1e7a1e"/><circle cx="317.0" cy="383.5" r="0.55" fill="#1e7a1e"/><circle cx="309.7" cy="378.5" r="0.55" fill="#1e7a1e"/><circle cx="315.1" cy="384.5" r="0.55" fill="#1e7a1e"/><circle cx="309.2" cy="384.6" r="0.55" fill="#1e7a1e"/>
</g>
<rect x="399.30" y="374.20" width="93.30" height="93.10" fill="#000"/>
<g clip-path="url(#fc11)">
<circle cx="479.5" cy="429.7" r="0.5" fill="#8a2a9a"/><circle cx="438.5" cy="385.2" r="0.5" fill="#8a2a9a"/><circle cx="404.4" cy="461.7" r="0.5" fill="#8a2a9a"/><circle cx="422.2" cy="438.7" r="0.5" fill="#8a2a9a"/><circle cx="423.9" cy="449.3" r="0.5" fill="#8a2a9a"/><circle cx="454.1" cy="402.1" r="0.5" fill="#8a2a9a"/><circle cx="416.6" cy="440.1" r="0.5" fill="#8a2a9a"/><circle cx="407.1" cy="396.3" r="0.5" fill="#8a2a9a"/><circle cx="450.8" cy="451.9" r="0.5" fill="#8a2a9a"/><circle cx="455.7" cy="400.9" r="0.5" fill="#8a2a9a"/><circle cx="482.6" cy="394.2" r="0.5" fill="#8a2a9a"/><circle cx="402.5" cy="400.0" r="0.5" fill="#8a2a9a"/><circle cx="440.7" cy="381.4" r="0.5" fill="#8a2a9a"/><circle cx="416.7" cy="408.8" r="0.5" fill="#8a2a9a"/><circle cx="451.9" cy="387.7" r="0.5" fill="#8a2a9a"/><circle cx="433.2" cy="455.3" r="0.5" fill="#8a2a9a"/><circle cx="488.3" cy="434.5" r="0.5" fill="#8a2a9a"/><circle cx="462.5" cy="428.0" r="0.5" fill="#8a2a9a"/><circle cx="413.5" cy="379.1" r="0.5" fill="#8a2a9a"/><circle cx="402.6" cy="457.0" r="0.5" fill="#8a2a9a"/><circle cx="463.4" cy="461.7" r="0.5" fill="#8a2a9a"/><circle cx="402.9" cy="432.6" r="0.5" fill="#8a2a9a"/><circle cx="443.9" cy="441.0" r="0.5" fill="#8a2a9a"/><circle cx="429.4" cy="464.9" r="0.5" fill="#8a2a9a"/><circle cx="407.7" cy="424.6" r="0.5" fill="#8a2a9a"/>
<circle cx="412.4" cy="385.3" r="0.6" fill="#b030c0"/><circle cx="412.4" cy="383.9" r="0.6" fill="#b030c0"/><circle cx="412.9" cy="385.4" r="0.6" fill="#b030c0"/><circle cx="408.5" cy="383.8" r="0.6" fill="#b030c0"/><circle cx="414.0" cy="385.1" r="0.6" fill="#b030c0"/><circle cx="409.2" cy="384.5" r="0.6" fill="#b030c0"/><circle cx="413.6" cy="383.0" r="0.6" fill="#b030c0"/><circle cx="411.2" cy="381.7" r="0.6" fill="#b030c0"/>
<circle cx="452.8" cy="379.0" r="0.6" fill="#b030c0"/><circle cx="441.8" cy="379.2" r="0.6" fill="#b030c0"/><circle cx="461.9" cy="380.4" r="0.6" fill="#b030c0"/><circle cx="456.0" cy="377.9" r="0.6" fill="#b030c0"/><circle cx="456.2" cy="378.9" r="0.6" fill="#b030c0"/><circle cx="449.7" cy="380.2" r="0.6" fill="#b030c0"/><circle cx="441.8" cy="379.8" r="0.6" fill="#b030c0"/><circle cx="440.7" cy="379.0" r="0.6" fill="#b030c0"/><circle cx="450.6" cy="377.2" r="0.6" fill="#b030c0"/><circle cx="455.4" cy="378.5" r="0.6" fill="#b030c0"/><circle cx="453.5" cy="380.6" r="0.6" fill="#b030c0"/><circle cx="445.6" cy="376.1" r="0.6" fill="#b030c0"/>
</g>
<rect x="494.90" y="374.20" width="93.30" height="93.10" fill="#000"/>
<g clip-path="url(#fc21)">
<g filter="url(#bl2)"><ellipse cx="504.6" cy="381.9" rx="2.6" ry="2.6" fill="rgb(17,17,143)"/><ellipse cx="512.2" cy="389.0" rx="2.6" ry="3.1" fill="rgb(17,17,143)"/><ellipse cx="545.6" cy="378.1" rx="3.1" ry="2.6" fill="rgb(12,12,103)"/><ellipse cx="528.9" cy="400.1" rx="3.1" ry="5.2" fill="rgb(12,12,105)" transform="rotate(-5 528.9 400.1)"/><ellipse cx="537.0" cy="400.5" rx="3.6" ry="5.2" fill="rgb(16,16,138)" transform="rotate(35 537.0 400.5)"/><ellipse cx="531.2" cy="412.3" rx="5.7" ry="4.7" fill="rgb(15,15,133)" transform="rotate(30 531.2 412.3)"/><ellipse cx="529.7" cy="422.1" rx="4.7" ry="5.7" fill="rgb(15,15,131)"/><ellipse cx="521.3" cy="423.6" rx="3.6" ry="4.7" fill="rgb(13,13,115)"/><ellipse cx="556.3" cy="407.7" rx="3.1" ry="4.2" fill="rgb(15,15,128)" transform="rotate(20 556.3 407.7)"/><ellipse cx="563.9" cy="411.5" rx="3.1" ry="4.2" fill="rgb(15,15,128)" transform="rotate(-30 563.9 411.5)"/><ellipse cx="551.7" cy="416.8" rx="5.2" ry="2.9" fill="rgb(15,15,127)" transform="rotate(-40 551.7 416.8)"/><ellipse cx="544.9" cy="421.4" rx="5.2" ry="3.1" fill="rgb(12,12,108)" transform="rotate(25 544.9 421.4)"/><ellipse cx="559.3" cy="419.9" rx="2.9" ry="4.2" fill="rgb(14,14,120)" transform="rotate(40 559.3 419.9)"/><ellipse cx="538.1" cy="429.0" rx="4.7" ry="3.1" fill="rgb(14,14,118)" transform="rotate(30 538.1 429.0)"/><ellipse cx="551.7" cy="431.2" rx="2.9" ry="4.2" fill="rgb(15,15,133)" transform="rotate(35 551.7 431.2)"/><ellipse cx="516.8" cy="436.6" rx="2.6" ry="2.6" fill="rgb(17,17,145)"/><ellipse cx="525.1" cy="436.6" rx="4.2" ry="4.2" fill="rgb(17,17,143)"/><ellipse cx="530.5" cy="446.4" rx="2.6" ry="2.6" fill="rgb(15,15,125)"/><ellipse cx="523.6" cy="446.4" rx="3.1" ry="3.6" fill="rgb(14,14,121)"/><ellipse cx="509.2" cy="453.3" rx="2.6" ry="2.6" fill="rgb(13,13,113)"/><ellipse cx="566.2" cy="400.1" rx="2.6" ry="3.6" fill="rgb(12,12,102)" transform="rotate(10 566.2 400.1)"/><ellipse cx="495.8" cy="430.5" rx="1.4" ry="2.6" fill="rgb(12,12,102)"/><ellipse cx="587.4" cy="382.6" rx="0.9" ry="2.1" fill="rgb(14,14,121)"/></g>
<circle cx="543.3" cy="379.4" r="0.6" fill="#c040d0"/><circle cx="541.3" cy="376.8" r="0.6" fill="#c040d0"/><circle cx="556.0" cy="379.3" r="0.6" fill="#c040d0"/><circle cx="546.3" cy="380.5" r="0.6" fill="#c040d0"/><circle cx="543.9" cy="379.3" r="0.6" fill="#c040d0"/><circle cx="541.2" cy="378.2" r="0.6" fill="#c040d0"/><circle cx="553.9" cy="380.6" r="0.6" fill="#c040d0"/><circle cx="555.5" cy="377.9" r="0.6" fill="#c040d0"/><circle cx="549.2" cy="377.6" r="0.6" fill="#c040d0"/><circle cx="539.9" cy="378.5" r="0.6" fill="#c040d0"/><circle cx="554.6" cy="380.2" r="0.6" fill="#c040d0"/><circle cx="551.9" cy="380.8" r="0.6" fill="#c040d0"/>
<circle cx="520.9" cy="392.7" r="0.45" fill="#8a2a9a"/><circle cx="536.6" cy="401.9" r="0.45" fill="#8a2a9a"/><circle cx="515.3" cy="414.0" r="0.45" fill="#8a2a9a"/><circle cx="552.3" cy="421.0" r="0.45" fill="#8a2a9a"/><circle cx="524.4" cy="451.0" r="0.45" fill="#8a2a9a"/><circle cx="584.4" cy="417.4" r="0.45" fill="#8a2a9a"/><circle cx="502.7" cy="380.7" r="0.45" fill="#8a2a9a"/><circle cx="574.6" cy="381.6" r="0.45" fill="#8a2a9a"/><circle cx="559.8" cy="427.6" r="0.45" fill="#8a2a9a"/><circle cx="523.8" cy="446.9" r="0.45" fill="#8a2a9a"/>
</g>
<rect x="590.30" y="374.20" width="93.30" height="93.10" fill="#202020"/>
<g clip-path="url(#fc31)">
<path d="M598,458 L640,428 L684,392" stroke="#252525" stroke-width="8" fill="none"/>
<path d="M603,452 L640,424 L668,402 L684,388 M600,462 L640,432 L670,410 L684,398" stroke="#4a4a4a" stroke-width="0.6" fill="none"/>
<g filter="url(#bl2)"><ellipse cx="600.0" cy="381.9" rx="2.6" ry="2.6" fill="rgb(21,21,182)"/><ellipse cx="607.6" cy="389.0" rx="2.6" ry="3.1" fill="rgb(21,21,181)"/><ellipse cx="641.0" cy="378.1" rx="3.1" ry="2.6" fill="rgb(15,15,131)"/><ellipse cx="624.3" cy="400.1" rx="3.1" ry="5.2" fill="rgb(15,15,133)" transform="rotate(-5 624.3 400.1)"/><ellipse cx="632.4" cy="400.5" rx="3.6" ry="5.2" fill="rgb(21,21,175)" transform="rotate(35 632.4 400.5)"/><ellipse cx="626.6" cy="412.3" rx="5.7" ry="4.7" fill="rgb(20,20,169)" transform="rotate(30 626.6 412.3)"/><ellipse cx="625.1" cy="422.1" rx="4.7" ry="5.7" fill="rgb(19,19,166)"/><ellipse cx="616.7" cy="423.6" rx="3.6" ry="4.7" fill="rgb(17,17,145)"/><ellipse cx="651.7" cy="407.7" rx="3.1" ry="4.2" fill="rgb(19,19,162)" transform="rotate(20 651.7 407.7)"/><ellipse cx="659.3" cy="411.5" rx="3.1" ry="4.2" fill="rgb(19,19,162)" transform="rotate(-30 659.3 411.5)"/><ellipse cx="647.1" cy="416.8" rx="5.2" ry="2.9" fill="rgb(19,19,161)" transform="rotate(-40 647.1 416.8)"/><ellipse cx="640.3" cy="421.4" rx="5.2" ry="3.1" fill="rgb(16,16,137)" transform="rotate(25 640.3 421.4)"/><ellipse cx="654.7" cy="419.9" rx="2.9" ry="4.2" fill="rgb(18,18,152)" transform="rotate(40 654.7 419.9)"/><ellipse cx="633.5" cy="429.0" rx="4.7" ry="3.1" fill="rgb(18,18,150)" transform="rotate(30 633.5 429.0)"/><ellipse cx="647.1" cy="431.2" rx="2.9" ry="4.2" fill="rgb(20,20,169)" transform="rotate(35 647.1 431.2)"/><ellipse cx="612.2" cy="436.6" rx="2.6" ry="2.6" fill="rgb(22,22,184)"/><ellipse cx="620.5" cy="436.6" rx="4.2" ry="4.2" fill="rgb(21,21,181)"/><ellipse cx="625.9" cy="446.4" rx="2.6" ry="2.6" fill="rgb(19,19,159)"/><ellipse cx="619.0" cy="446.4" rx="3.1" ry="3.6" fill="rgb(18,18,153)"/><ellipse cx="604.6" cy="453.3" rx="2.6" ry="2.6" fill="rgb(17,17,143)"/><ellipse cx="661.6" cy="400.1" rx="2.6" ry="3.6" fill="rgb(15,15,130)" transform="rotate(10 661.6 400.1)"/><ellipse cx="591.2" cy="430.5" rx="1.4" ry="2.6" fill="rgb(15,15,130)"/><ellipse cx="682.8" cy="382.6" rx="0.9" ry="2.1" fill="rgb(18,18,154)"/></g>
<circle cx="632.4" cy="376.7" r="0.6" fill="#c040d0"/><circle cx="642.0" cy="376.1" r="0.6" fill="#c040d0"/><circle cx="650.3" cy="377.2" r="0.6" fill="#c040d0"/><circle cx="635.1" cy="376.2" r="0.6" fill="#c040d0"/><circle cx="645.8" cy="378.2" r="0.6" fill="#c040d0"/><circle cx="645.9" cy="379.3" r="0.6" fill="#c040d0"/><circle cx="649.8" cy="380.8" r="0.6" fill="#c040d0"/><circle cx="647.1" cy="377.0" r="0.6" fill="#c040d0"/><circle cx="642.5" cy="376.9" r="0.6" fill="#c040d0"/><circle cx="632.2" cy="378.4" r="0.6" fill="#c040d0"/><circle cx="647.7" cy="376.9" r="0.6" fill="#c040d0"/><circle cx="638.0" cy="377.7" r="0.6" fill="#c040d0"/>
</g>
<rect x="668.60" y="367.70" width="13.00" height="2.60" fill="#fff"/>
<rect x="668.80" y="463.10" width="12.90" height="2.60" fill="#fff"/>
<text x="444.40" y="494.00" font-size="8.6" text-anchor="middle">Total</text>
<text x="520.00" y="494.00" font-size="8.6" text-anchor="middle">Cryptic</text>
<rect x="418.50" y="500.10" width="51.90" height="89.60" fill="#fff"/>
<line x1="418.50" y1="574.41" x2="470.40" y2="574.41" stroke="#f0f0f0" stroke-width="0.7"/>
<line x1="418.50" y1="546.43" x2="470.40" y2="546.43" stroke="#f0f0f0" stroke-width="0.7"/>
<line x1="418.50" y1="518.45" x2="470.40" y2="518.45" stroke="#f0f0f0" stroke-width="0.7"/>
<line x1="418.50" y1="588.40" x2="470.40" y2="588.40" stroke="#e6e6e6" stroke-width="1"/>
<line x1="418.50" y1="560.42" x2="470.40" y2="560.42" stroke="#e6e6e6" stroke-width="1"/>
<line x1="418.50" y1="532.44" x2="470.40" y2="532.44" stroke="#e6e6e6" stroke-width="1"/>
<line x1="418.50" y1="504.46" x2="470.40" y2="504.46" stroke="#e6e6e6" stroke-width="1"/>
<line x1="432.40" y1="500.10" x2="432.40" y2="589.70" stroke="#e6e6e6" stroke-width="1"/>
<line x1="456.50" y1="500.10" x2="456.50" y2="589.70" stroke="#e6e6e6" stroke-width="1"/>
<rect x="418.50" y="500.10" width="51.90" height="89.60" fill="none" stroke="#a8a8a8" stroke-width="1.2"/>
<line x1="416.50" y1="588.40" x2="418.50" y2="588.40" stroke="#555" stroke-width="0.7"/>
<text x="414.60" y="591.40" font-size="9.6" text-anchor="end" fill="#333">0</text>
<line x1="416.50" y1="560.42" x2="418.50" y2="560.42" stroke="#555" stroke-width="0.7"/>
<text x="414.60" y="563.42" font-size="9.6" text-anchor="end" fill="#333">20</text>
<line x1="416.50" y1="532.44" x2="418.50" y2="532.44" stroke="#555" stroke-width="0.7"/>
<text x="414.60" y="535.44" font-size="9.6" text-anchor="end" fill="#333">40</text>
<line x1="416.50" y1="504.46" x2="418.50" y2="504.46" stroke="#555" stroke-width="0.7"/>
<text x="414.60" y="507.46" font-size="9.6" text-anchor="end" fill="#333">60</text>
<line x1="432.40" y1="514.80" x2="456.50" y2="514.80" stroke="#bbbbbb" stroke-width="1.4"/>
<text x="444.55" y="516.00" font-size="10" text-anchor="middle" font-weight="bold" fill="#333">*</text>
<circle cx="426.40" cy="572.25" r="1.3" fill="#000"/>
<circle cx="426.87" cy="574.94" r="1.3" fill="#000"/>
<circle cx="426.08" cy="577.32" r="1.3" fill="#000"/>
<circle cx="426.40" cy="580.48" r="1.3" fill="#000"/>
<circle cx="425.76" cy="584.44" r="1.3" fill="#000"/>
<circle cx="426.87" cy="585.55" r="1.3" fill="#000"/>
<circle cx="427.66" cy="586.02" r="1.3" fill="#000"/>
<circle cx="432.41" cy="572.57" r="1.3" fill="#000"/>
<circle cx="432.73" cy="574.94" r="1.3" fill="#000"/>
<circle cx="433.20" cy="577.32" r="1.3" fill="#000"/>
<circle cx="432.10" cy="579.69" r="1.3" fill="#000"/>
<circle cx="433.68" cy="580.48" r="1.3" fill="#000"/>
<circle cx="432.73" cy="582.86" r="1.3" fill="#000"/>
<circle cx="434.00" cy="583.65" r="1.3" fill="#000"/>
<circle cx="437.95" cy="574.15" r="1.3" fill="#000"/>
<circle cx="438.75" cy="578.11" r="1.3" fill="#000"/>
<circle cx="438.43" cy="581.75" r="1.3" fill="#000"/>
<circle cx="437.16" cy="583.65" r="1.3" fill="#000"/>
<circle cx="438.43" cy="586.02" r="1.3" fill="#000"/>
<circle cx="429.25" cy="582.07" r="1.3" fill="#000"/>
<circle cx="430.83" cy="581.28" r="1.3" fill="#000"/>
<circle cx="454.89" cy="519.54" r="1.3" fill="#000"/>
<circle cx="455.53" cy="526.66" r="1.3" fill="#000"/>
<circle cx="455.53" cy="533.47" r="1.3" fill="#000"/>
<circle cx="449.04" cy="539.32" r="1.3" fill="#000"/>
<circle cx="456.95" cy="539.32" r="1.3" fill="#000"/>
<circle cx="449.83" cy="544.87" r="1.3" fill="#000"/>
<circle cx="456.48" cy="542.49" r="1.3" fill="#000"/>
<circle cx="456.48" cy="545.34" r="1.3" fill="#000"/>
<circle cx="455.84" cy="550.41" r="1.3" fill="#000"/>
<circle cx="456.48" cy="555.95" r="1.3" fill="#000"/>
<circle cx="455.84" cy="559.11" r="1.3" fill="#000"/>
<circle cx="450.14" cy="557.53" r="1.3" fill="#000"/>
<circle cx="449.51" cy="564.65" r="1.3" fill="#000"/>
<circle cx="450.62" cy="567.03" r="1.3" fill="#000"/>
<circle cx="451.41" cy="569.40" r="1.3" fill="#000"/>
<circle cx="451.09" cy="571.78" r="1.3" fill="#000"/>
<circle cx="462.49" cy="554.84" r="1.3" fill="#000"/>
<circle cx="460.91" cy="558.32" r="1.3" fill="#000"/>
<circle cx="462.49" cy="559.11" r="1.3" fill="#000"/>
<circle cx="461.22" cy="563.86" r="1.3" fill="#000"/>
<circle cx="460.91" cy="571.78" r="1.3" fill="#000"/>
<circle cx="461.86" cy="575.73" r="1.3" fill="#000"/>
<circle cx="449.51" cy="561.49" r="1.3" fill="#000"/>
<line x1="422.12" y1="581.75" x2="430.83" y2="581.75" stroke="#3a86c4" stroke-width="1.3"/>
<line x1="428.46" y1="580.80" x2="435.58" y2="580.80" stroke="#3a86c4" stroke-width="1.3"/>
<line x1="434.79" y1="582.86" x2="442.70" y2="582.86" stroke="#3a86c4" stroke-width="1.3"/>
<line x1="445.55" y1="562.28" x2="453.78" y2="562.28" stroke="#3a86c4" stroke-width="1.3"/>
<line x1="451.73" y1="542.49" x2="460.12" y2="542.49" stroke="#3a86c4" stroke-width="1.3"/>
<line x1="457.43" y1="564.65" x2="465.66" y2="564.65" stroke="#3a86c4" stroke-width="1.3"/>
<line x1="432.40" y1="589.70" x2="432.40" y2="591.70" stroke="#555" stroke-width="0.7"/>
<text x="435.60" y="595.00" font-size="9.2" text-anchor="end" textLength="29.8" lengthAdjust="spacingAndGlyphs" transform="rotate(-90 435.60 595.00)">Control</text>
<line x1="456.50" y1="589.70" x2="456.50" y2="591.70" stroke="#555" stroke-width="0.7"/>
<text x="459.70" y="595.00" font-size="9.2" text-anchor="end" textLength="35.6" lengthAdjust="spacingAndGlyphs" transform="rotate(-90 459.70 595.00)">TDP43KD</text>
<rect x="494.70" y="500.10" width="50.70" height="89.60" fill="#fff"/>
<line x1="494.70" y1="575.08" x2="545.40" y2="575.08" stroke="#f0f0f0" stroke-width="0.7"/>
<line x1="494.70" y1="554.23" x2="545.40" y2="554.23" stroke="#f0f0f0" stroke-width="0.7"/>
<line x1="494.70" y1="533.38" x2="545.40" y2="533.38" stroke="#f0f0f0" stroke-width="0.7"/>
<line x1="494.70" y1="512.52" x2="545.40" y2="512.52" stroke="#f0f0f0" stroke-width="0.7"/>
<line x1="494.70" y1="585.50" x2="545.40" y2="585.50" stroke="#e6e6e6" stroke-width="1"/>
<line x1="494.70" y1="564.65" x2="545.40" y2="564.65" stroke="#e6e6e6" stroke-width="1"/>
<line x1="494.70" y1="543.80" x2="545.40" y2="543.80" stroke="#e6e6e6" stroke-width="1"/>
<line x1="494.70" y1="522.95" x2="545.40" y2="522.95" stroke="#e6e6e6" stroke-width="1"/>
<line x1="494.70" y1="502.10" x2="545.40" y2="502.10" stroke="#e6e6e6" stroke-width="1"/>
<line x1="508.70" y1="500.10" x2="508.70" y2="589.70" stroke="#e6e6e6" stroke-width="1"/>
<line x1="531.50" y1="500.10" x2="531.50" y2="589.70" stroke="#e6e6e6" stroke-width="1"/>
<rect x="494.70" y="500.10" width="50.70" height="89.60" fill="none" stroke="#a8a8a8" stroke-width="1.2"/>
<line x1="492.70" y1="585.50" x2="494.70" y2="585.50" stroke="#555" stroke-width="0.7"/>
<text x="491.00" y="588.50" font-size="9.6" text-anchor="end" fill="#333">0</text>
<line x1="492.70" y1="564.65" x2="494.70" y2="564.65" stroke="#555" stroke-width="0.7"/>
<text x="491.00" y="567.65" font-size="9.6" text-anchor="end" fill="#333">25</text>
<line x1="492.70" y1="543.80" x2="494.70" y2="543.80" stroke="#555" stroke-width="0.7"/>
<text x="491.00" y="546.80" font-size="9.6" text-anchor="end" fill="#333">50</text>
<line x1="492.70" y1="522.95" x2="494.70" y2="522.95" stroke="#555" stroke-width="0.7"/>
<text x="491.00" y="525.95" font-size="9.6" text-anchor="end" fill="#333">75</text>
<line x1="492.70" y1="502.10" x2="494.70" y2="502.10" stroke="#555" stroke-width="0.7"/>
<text x="491.00" y="505.10" font-size="9.6" text-anchor="end" fill="#333">100</text>
<line x1="508.70" y1="514.80" x2="531.50" y2="514.80" stroke="#bbbbbb" stroke-width="1.4"/>
<text x="520.20" y="516.00" font-size="10" text-anchor="middle" font-weight="bold" fill="#333">*</text>
<circle cx="501.87" cy="582.86" r="1.3" fill="#000"/>
<circle cx="502.98" cy="582.07" r="1.3" fill="#000"/>
<circle cx="502.66" cy="585.55" r="1.3" fill="#000"/>
<circle cx="505.04" cy="584.44" r="1.3" fill="#000"/>
<circle cx="506.62" cy="585.23" r="1.3" fill="#000"/>
<circle cx="508.68" cy="580.17" r="1.3" fill="#000"/>
<circle cx="509.00" cy="582.86" r="1.3" fill="#000"/>
<circle cx="509.00" cy="585.55" r="1.3" fill="#000"/>
<circle cx="511.37" cy="584.44" r="1.3" fill="#000"/>
<circle cx="513.75" cy="583.65" r="1.3" fill="#000"/>
<circle cx="514.54" cy="585.55" r="1.3" fill="#000"/>
<circle cx="512.95" cy="584.92" r="1.3" fill="#000"/>
<circle cx="537.81" cy="504.02" r="1.3" fill="#000"/>
<circle cx="524.83" cy="541.70" r="1.3" fill="#000"/>
<circle cx="525.62" cy="551.20" r="1.3" fill="#000"/>
<circle cx="526.73" cy="550.09" r="1.3" fill="#000"/>
<circle cx="527.20" cy="548.82" r="1.3" fill="#000"/>
<circle cx="530.84" cy="550.72" r="1.3" fill="#000"/>
<circle cx="531.95" cy="551.99" r="1.3" fill="#000"/>
<circle cx="536.70" cy="553.26" r="1.3" fill="#000"/>
<circle cx="524.83" cy="556.42" r="1.3" fill="#000"/>
<circle cx="531.48" cy="556.74" r="1.3" fill="#000"/>
<circle cx="532.43" cy="559.11" r="1.3" fill="#000"/>
<circle cx="537.49" cy="559.11" r="1.3" fill="#000"/>
<circle cx="525.62" cy="560.70" r="1.3" fill="#000"/>
<circle cx="531.48" cy="563.07" r="1.3" fill="#000"/>
<circle cx="537.49" cy="564.65" r="1.3" fill="#000"/>
<circle cx="532.43" cy="565.44" r="1.3" fill="#000"/>
<circle cx="526.09" cy="567.82" r="1.3" fill="#000"/>
<circle cx="531.48" cy="568.61" r="1.3" fill="#000"/>
<circle cx="536.70" cy="567.82" r="1.3" fill="#000"/>
<circle cx="526.73" cy="572.57" r="1.3" fill="#000"/>
<circle cx="526.41" cy="573.83" r="1.3" fill="#000"/>
<circle cx="530.84" cy="572.57" r="1.3" fill="#000"/>
<circle cx="537.17" cy="572.89" r="1.3" fill="#000"/>
<circle cx="536.22" cy="576.05" r="1.3" fill="#000"/>
<line x1="497.92" y1="585.55" x2="518.18" y2="585.55" stroke="#3a86c4" stroke-width="1.3"/>
<line x1="520.87" y1="559.90" x2="541.45" y2="559.90" stroke="#3a86c4" stroke-width="1.3"/>
<line x1="508.70" y1="589.70" x2="508.70" y2="591.70" stroke="#555" stroke-width="0.7"/>
<text x="511.90" y="595.00" font-size="9.2" text-anchor="end" textLength="29.8" lengthAdjust="spacingAndGlyphs" transform="rotate(-90 511.90 595.00)">Control</text>
<line x1="531.50" y1="589.70" x2="531.50" y2="591.70" stroke="#555" stroke-width="0.7"/>
<text x="534.70" y="595.00" font-size="9.2" text-anchor="end" textLength="35.6" lengthAdjust="spacingAndGlyphs" transform="rotate(-90 534.70 595.00)">TDP43KD</text>
<text x="387.40" y="544.40" font-size="8.3" text-anchor="middle" textLength="67.8" lengthAdjust="spacingAndGlyphs" transform="rotate(-90 387.40 544.40)">Extranuclear foci</text>
<text x="396.50" y="544.70" font-size="8.3" text-anchor="middle" textLength="39.9" lengthAdjust="spacingAndGlyphs" transform="rotate(-90 396.50 544.70)">per image</text>
<text x="604.20" y="494.00" font-size="8.6" text-anchor="middle" textLength="40" lengthAdjust="spacingAndGlyphs">Canonical</text>
<text x="664.90" y="494.00" font-size="8.6" text-anchor="middle">3′Ext</text>
<rect x="591.00" y="534.00" width="12.50" height="53.10" fill="#000"/>
<rect x="606.00" y="567.45" width="12.40" height="19.65" fill="#000"/>
<rect x="651.90" y="584.81" width="13.00" height="1.79" fill="#000"/>
<rect x="666.90" y="544.81" width="11.90" height="41.79" fill="#000"/>
<line x1="672.80" y1="527.89" x2="672.80" y2="544.81" stroke="#000" stroke-width="0.8"/>
<line x1="670.00" y1="527.89" x2="675.60" y2="527.89" stroke="#000" stroke-width="0.8"/>
<circle cx="593.40" cy="534.00" r="1.6" fill="#fff" stroke="#000" stroke-width="0.5"/>
<circle cx="597.30" cy="534.00" r="1.6" fill="#fff" stroke="#000" stroke-width="0.5"/>
<circle cx="601.20" cy="534.00" r="1.6" fill="#fff" stroke="#000" stroke-width="0.5"/>
<circle cx="608.40" cy="567.45" r="1.6" fill="#fff" stroke="#000" stroke-width="0.5"/>
<circle cx="612.30" cy="567.45" r="1.6" fill="#fff" stroke="#000" stroke-width="0.5"/>
<circle cx="616.20" cy="567.45" r="1.6" fill="#fff" stroke="#000" stroke-width="0.5"/>
<circle cx="654.30" cy="585.01" r="1.6" fill="#fff" stroke="#000" stroke-width="0.5"/>
<circle cx="658.30" cy="585.01" r="1.6" fill="#fff" stroke="#000" stroke-width="0.5"/>
<circle cx="662.30" cy="585.01" r="1.6" fill="#fff" stroke="#000" stroke-width="0.5"/>
<circle cx="672.60" cy="527.89" r="1.6" fill="#fff" stroke="#000" stroke-width="0.5"/>
<circle cx="672.60" cy="547.80" r="1.6" fill="#fff" stroke="#000" stroke-width="0.5"/>
<circle cx="672.60" cy="555.75" r="1.6" fill="#fff" stroke="#000" stroke-width="0.5"/>
<line x1="584.80" y1="507.00" x2="584.80" y2="587.40" stroke="#777" stroke-width="1"/>
<line x1="584.80" y1="587.40" x2="623.30" y2="587.40" stroke="#777" stroke-width="1"/>
<line x1="644.50" y1="506.50" x2="644.50" y2="587.40" stroke="#777" stroke-width="1"/>
<line x1="644.50" y1="587.40" x2="685.00" y2="587.40" stroke="#777" stroke-width="1"/>
<line x1="582.80" y1="587.10" x2="584.80" y2="587.10" stroke="#555" stroke-width="0.7"/>
<text x="579.80" y="590.30" font-size="8.8" text-anchor="end" fill="#333">0</text>
<line x1="582.80" y1="560.55" x2="584.80" y2="560.55" stroke="#555" stroke-width="0.7"/>
<text x="579.80" y="563.75" font-size="8.8" text-anchor="end" fill="#333" textLength="11.7" lengthAdjust="spacingAndGlyphs">0.5</text>
<line x1="582.80" y1="534.00" x2="584.80" y2="534.00" stroke="#555" stroke-width="0.7"/>
<text x="579.80" y="537.20" font-size="8.8" text-anchor="end" fill="#333" textLength="11.7" lengthAdjust="spacingAndGlyphs">1.0</text>
<line x1="582.80" y1="507.45" x2="584.80" y2="507.45" stroke="#555" stroke-width="0.7"/>
<text x="579.80" y="510.65" font-size="8.8" text-anchor="end" fill="#333" textLength="11.7" lengthAdjust="spacingAndGlyphs">1.5</text>
<line x1="642.50" y1="586.60" x2="644.50" y2="586.60" stroke="#555" stroke-width="0.7"/>
<text x="640.20" y="589.80" font-size="8.8" text-anchor="end" fill="#333">0</text>
<line x1="642.50" y1="566.70" x2="644.50" y2="566.70" stroke="#555" stroke-width="0.7"/>
<text x="640.20" y="569.90" font-size="8.8" text-anchor="end" fill="#333" textLength="10" lengthAdjust="spacingAndGlyphs">10</text>
<line x1="642.50" y1="546.80" x2="644.50" y2="546.80" stroke="#555" stroke-width="0.7"/>
<text x="640.20" y="550.00" font-size="8.8" text-anchor="end" fill="#333" textLength="10" lengthAdjust="spacingAndGlyphs">20</text>
<line x1="642.50" y1="526.90" x2="644.50" y2="526.90" stroke="#555" stroke-width="0.7"/>
<text x="640.20" y="530.10" font-size="8.8" text-anchor="end" fill="#333" textLength="10" lengthAdjust="spacingAndGlyphs">30</text>
<line x1="642.50" y1="507.00" x2="644.50" y2="507.00" stroke="#555" stroke-width="0.7"/>
<text x="640.20" y="510.20" font-size="8.8" text-anchor="end" fill="#333" textLength="10" lengthAdjust="spacingAndGlyphs">40</text>
<line x1="597.20" y1="510.50" x2="611.90" y2="510.50" stroke="#222" stroke-width="0.8"/>
<text x="604.70" y="512.20" font-size="10.9" text-anchor="middle" font-weight="bold" textLength="14.2" lengthAdjust="spacingAndGlyphs">***</text>
<line x1="658.40" y1="509.40" x2="673.00" y2="509.40" stroke="#222" stroke-width="0.8"/>
<text x="665.50" y="512.20" font-size="10.9" text-anchor="middle" font-weight="bold" textLength="9.5" lengthAdjust="spacingAndGlyphs">**</text>
<line x1="597.20" y1="587.40" x2="597.20" y2="589.40" stroke="#222" stroke-width="0.7"/>
<text x="600.80" y="593.90" font-size="9.4" text-anchor="end" textLength="30.5" lengthAdjust="spacingAndGlyphs" transform="rotate(-90 600.80 593.90)">Control</text>
<line x1="611.00" y1="587.40" x2="611.00" y2="589.40" stroke="#222" stroke-width="0.7"/>
<text x="614.60" y="593.90" font-size="9.4" text-anchor="end" textLength="37.4" lengthAdjust="spacingAndGlyphs" transform="rotate(-90 614.60 593.90)">TDP43KD</text>
<line x1="658.20" y1="587.40" x2="658.20" y2="589.40" stroke="#222" stroke-width="0.7"/>
<text x="661.80" y="593.90" font-size="9.4" text-anchor="end" textLength="30.5" lengthAdjust="spacingAndGlyphs" transform="rotate(-90 661.80 593.90)">Control</text>
<line x1="671.80" y1="587.40" x2="671.80" y2="589.40" stroke="#222" stroke-width="0.7"/>
<text x="675.40" y="593.90" font-size="9.4" text-anchor="end" textLength="37.4" lengthAdjust="spacingAndGlyphs" transform="rotate(-90 675.40 593.90)">TDP43KD</text>
<text x="560.90" y="547.70" font-size="8.2" text-anchor="middle" textLength="49" lengthAdjust="spacingAndGlyphs" transform="rotate(-90 560.90 547.70)">Fold change</text></svg>
</body></html>
